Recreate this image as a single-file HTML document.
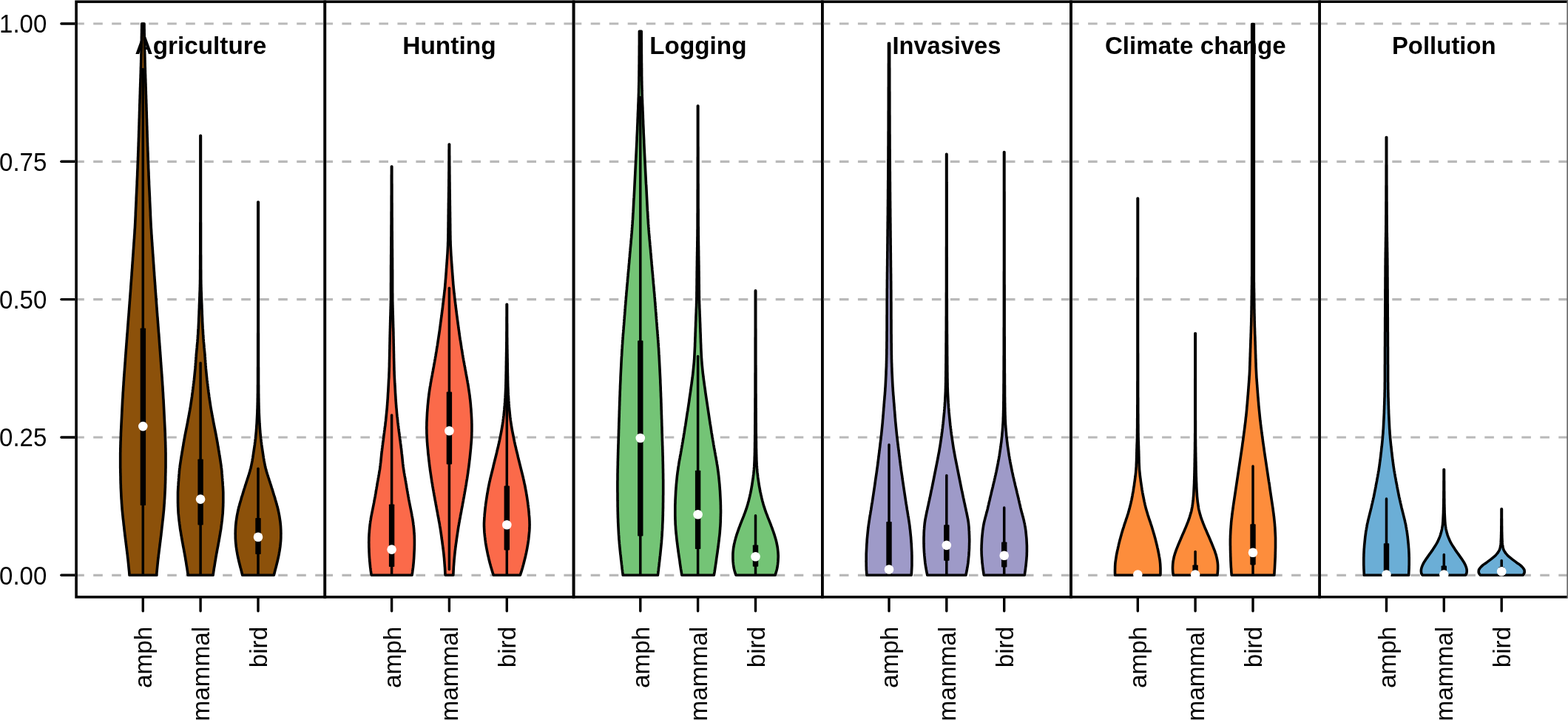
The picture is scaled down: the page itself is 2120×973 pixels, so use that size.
<!DOCTYPE html>
<html lang="en">
<head>
<meta charset="utf-8">
<title>Threat violin plots</title>
<style>
html,body{margin:0;padding:0;background:#fff;}
body{width:2120px;height:973px;overflow:hidden;}
svg{display:block;}
text{font-family:"Liberation Sans",Arial,Helvetica,sans-serif;font-size:33.3px;fill:#000;}
.t{font-weight:bold;text-anchor:middle;}
.yl{text-anchor:end;}
.xl{text-anchor:end;}
.g{stroke:#b9b9b9;stroke-width:3.2;stroke-dasharray:12.6 12.4;fill:none;}
.f{stroke:#000;stroke-width:3.6;fill:none;stroke-linejoin:miter;}
.k{stroke:#000;stroke-width:3.4;stroke-linecap:round;fill:none;}
.v{stroke:#000;stroke-width:3.6;stroke-linejoin:round;}
.w{stroke:#000;stroke-width:3.5;stroke-linecap:round;fill:none;}
.b{stroke:none;fill:#000;}
.m{fill:#fff;stroke:none;}
</style>
</head>
<body>
<svg width="2120" height="973" viewBox="0 0 2120 973">
<rect x="0" y="0" width="2120" height="973" fill="#fff"/>

<path class="k" d="M103.1,777.3H82.9"/>
<text class="yl" transform="translate(63.3,789.5) scale(0.992,1.07)" x="0" y="0">0.00</text>
<path class="k" d="M103.1,591.0H82.9"/>
<text class="yl" transform="translate(63.3,603.2) scale(0.992,1.07)" x="0" y="0">0.25</text>
<path class="k" d="M103.1,404.6H82.9"/>
<text class="yl" transform="translate(63.3,416.8) scale(0.992,1.07)" x="0" y="0">0.50</text>
<path class="k" d="M103.1,218.3H82.9"/>
<text class="yl" transform="translate(63.3,230.5) scale(0.992,1.07)" x="0" y="0">0.75</text>
<path class="k" d="M103.1,32.0H82.9"/>
<text class="yl" transform="translate(63.3,44.2) scale(0.992,1.07)" x="0" y="0">1.00</text>
<g>
<path class="g" d="M101.2,777.3H440.8"/>
<path class="g" d="M101.2,591.0H440.8"/>
<path class="g" d="M101.2,404.6H440.8"/>
<path class="g" d="M101.2,218.3H440.8"/>
<path class="g" d="M101.2,32.0H440.8"/>
<rect class="f" x="103.1" y="2.3" width="336.2" height="804.5"/>
<text class="t" transform="translate(271.4,73.3) scale(1.0,1)" x="0" y="0">Agriculture</text>
<path class="k" d="M193.3,806.8V825.8"/>
<text class="xl" transform="translate(205.3,846.8) rotate(-90)" x="0" y="0">amph</text>
<path class="k" d="M271.1,806.8V825.8"/>
<text class="xl" transform="translate(283.1,846.8) rotate(-90)" x="0" y="0">mammal</text>
<path class="k" d="M349.0,806.8V825.8"/>
<text class="xl" transform="translate(361.0,846.8) rotate(-90)" x="0" y="0">bird</text>
<path class="v" fill="#8c510a" d="M191.7,32.1L191.7,34.1L191.7,36.1L191.7,38.1L191.6,40.1L191.6,42.1L191.6,44.1L191.5,46.1L191.5,48.1L191.4,50.1L191.4,52.1L191.4,54.1L191.3,56.1L191.3,58.1L191.2,60.1L191.2,62.1L191.2,64.1L191.1,66.1L191.1,68.1L191.0,70.1L191.0,72.1L190.9,74.1L190.9,76.1L190.8,78.1L190.8,80.1L190.7,82.1L190.7,84.1L190.6,86.1L190.6,88.1L190.5,90.1L190.4,92.1L190.4,94.1L190.3,96.1L190.3,98.1L190.2,100.1L190.1,102.1L190.1,104.1L190.0,106.1L189.9,108.1L189.9,110.1L189.8,112.1L189.7,114.1L189.7,116.1L189.6,118.1L189.5,120.1L189.5,122.1L189.4,124.1L189.4,126.1L189.3,128.1L189.2,130.1L189.2,132.1L189.1,134.1L189.0,136.1L189.0,138.1L188.9,140.1L188.8,142.1L188.8,144.1L188.7,146.1L188.7,148.1L188.6,150.1L188.5,152.1L188.5,154.1L188.4,156.1L188.4,158.1L188.3,160.1L188.2,162.1L188.2,164.1L188.1,166.1L188.1,168.1L188.0,170.1L187.9,172.1L187.9,174.1L187.8,176.1L187.7,178.1L187.7,180.1L187.6,182.1L187.6,184.1L187.5,186.1L187.4,188.1L187.4,190.1L187.3,192.1L187.2,194.1L187.2,196.1L187.1,198.1L187.0,200.1L187.0,202.1L186.9,204.1L186.8,206.1L186.7,208.1L186.7,210.1L186.6,212.1L186.5,214.1L186.5,216.1L186.4,218.1L186.3,220.1L186.2,222.1L186.1,224.1L186.1,226.1L186.0,228.1L185.9,230.1L185.8,232.1L185.7,234.1L185.7,236.1L185.6,238.1L185.5,240.1L185.4,242.1L185.3,244.1L185.2,246.1L185.2,248.1L185.1,250.1L185.0,252.1L184.9,254.1L184.8,256.1L184.7,258.1L184.6,260.1L184.5,262.1L184.4,264.1L184.3,266.1L184.2,268.1L184.2,270.1L184.1,272.1L184.0,274.1L183.9,276.1L183.8,278.1L183.7,280.1L183.6,282.1L183.5,284.1L183.4,286.1L183.3,288.1L183.3,290.1L183.2,292.1L183.1,294.1L183.0,296.1L182.9,298.1L182.8,300.1L182.7,302.1L182.6,304.1L182.5,306.1L182.4,308.1L182.2,310.1L182.1,312.1L182.0,314.1L181.9,316.1L181.7,318.1L181.6,320.1L181.5,322.1L181.3,324.1L181.2,326.1L181.0,328.1L180.9,330.1L180.8,332.1L180.6,334.1L180.5,336.1L180.3,338.1L180.2,340.1L180.1,342.1L179.9,344.1L179.8,346.1L179.6,348.1L179.5,350.1L179.4,352.1L179.2,354.1L179.1,356.1L178.9,358.1L178.8,360.1L178.7,362.1L178.5,364.1L178.4,366.1L178.2,368.1L178.1,370.1L178.0,372.1L177.8,374.1L177.7,376.1L177.5,378.1L177.4,380.1L177.2,382.1L177.1,384.1L176.9,386.1L176.8,388.1L176.7,390.1L176.5,392.1L176.4,394.1L176.2,396.1L176.1,398.1L175.9,400.1L175.8,402.1L175.6,404.1L175.5,406.1L175.3,408.1L175.2,410.1L175.0,412.1L174.9,414.1L174.7,416.1L174.6,418.1L174.4,420.1L174.3,422.1L174.1,424.1L174.0,426.1L173.8,428.1L173.6,430.1L173.5,432.1L173.3,434.1L173.2,436.1L173.0,438.1L172.9,440.1L172.7,442.1L172.6,444.1L172.4,446.1L172.3,448.1L172.1,450.1L171.9,452.1L171.8,454.1L171.6,456.1L171.5,458.1L171.3,460.1L171.2,462.1L171.0,464.1L170.9,466.1L170.7,468.1L170.6,470.1L170.4,472.1L170.3,474.1L170.1,476.1L170.0,478.1L169.8,480.1L169.7,482.1L169.5,484.1L169.4,486.1L169.3,488.1L169.1,490.1L169.0,492.1L168.8,494.1L168.7,496.1L168.5,498.1L168.4,500.1L168.2,502.1L168.1,504.1L167.9,506.1L167.8,508.1L167.6,510.1L167.5,512.1L167.4,514.1L167.2,516.1L167.1,518.1L167.0,520.1L166.8,522.1L166.7,524.1L166.6,526.1L166.5,528.1L166.3,530.1L166.2,532.1L166.1,534.1L166.0,536.1L165.9,538.1L165.7,540.1L165.6,542.1L165.5,544.1L165.4,546.1L165.3,548.1L165.2,550.1L165.1,552.1L165.0,554.1L164.9,556.1L164.8,558.1L164.7,560.1L164.6,562.1L164.5,564.1L164.4,566.1L164.3,568.1L164.2,570.1L164.1,572.1L164.0,574.1L163.9,576.1L163.8,578.1L163.7,580.1L163.6,582.1L163.5,584.1L163.4,586.1L163.4,588.1L163.3,590.1L163.2,592.1L163.2,594.1L163.1,596.1L163.0,598.1L163.0,600.1L162.9,602.1L162.9,604.1L162.8,606.1L162.8,608.1L162.8,610.1L162.7,612.1L162.7,614.1L162.7,616.1L162.7,618.1L162.7,620.1L162.7,622.1L162.7,624.1L162.7,626.1L162.7,628.1L162.7,630.1L162.7,632.1L162.8,634.1L162.8,636.1L162.8,638.1L162.9,640.1L162.9,642.1L163.0,644.1L163.0,646.1L163.0,648.1L163.1,650.1L163.1,652.1L163.2,654.1L163.3,656.1L163.3,658.1L163.4,660.1L163.5,662.1L163.6,664.1L163.7,666.1L163.8,668.1L163.9,670.1L164.0,672.1L164.1,674.1L164.3,676.1L164.4,678.1L164.5,680.1L164.7,682.1L164.8,684.1L165.0,686.1L165.1,688.1L165.3,690.1L165.5,692.1L165.7,694.1L165.9,696.1L166.1,698.1L166.3,700.1L166.5,702.1L166.8,704.1L167.0,706.1L167.2,708.1L167.4,710.1L167.7,712.1L167.9,714.1L168.1,716.1L168.3,718.1L168.6,720.1L168.8,722.1L169.0,724.1L169.3,726.1L169.5,728.1L169.8,730.1L170.0,732.1L170.3,734.1L170.5,736.1L170.8,738.1L171.0,740.1L171.3,742.1L171.5,744.1L171.8,746.1L172.0,748.1L172.3,750.1L172.5,752.1L172.7,754.1L173.0,756.1L173.2,758.1L173.4,760.1L173.6,762.1L173.8,764.1L174.0,766.1L174.2,768.1L174.4,770.1L174.6,772.1L174.8,774.1L174.9,776.1L175.0,777.3L211.7,777.3L211.8,776.1L211.9,774.1L212.1,772.1L212.3,770.1L212.5,768.1L212.7,766.1L212.9,764.1L213.1,762.1L213.3,760.1L213.5,758.1L213.7,756.1L214.0,754.1L214.2,752.1L214.4,750.1L214.7,748.1L214.9,746.1L215.2,744.1L215.4,742.1L215.7,740.1L215.9,738.1L216.2,736.1L216.4,734.1L216.7,732.1L216.9,730.1L217.2,728.1L217.4,726.1L217.7,724.1L217.9,722.1L218.1,720.1L218.4,718.1L218.6,716.1L218.8,714.1L219.0,712.1L219.3,710.1L219.5,708.1L219.7,706.1L219.9,704.1L220.2,702.1L220.4,700.1L220.6,698.1L220.8,696.1L221.0,694.1L221.2,692.1L221.4,690.1L221.6,688.1L221.7,686.1L221.9,684.1L222.0,682.1L222.2,680.1L222.3,678.1L222.4,676.1L222.6,674.1L222.7,672.1L222.8,670.1L222.9,668.1L223.0,666.1L223.1,664.1L223.2,662.1L223.3,660.1L223.4,658.1L223.4,656.1L223.5,654.1L223.6,652.1L223.6,650.1L223.7,648.1L223.7,646.1L223.7,644.1L223.8,642.1L223.8,640.1L223.9,638.1L223.9,636.1L223.9,634.1L224.0,632.1L224.0,630.1L224.0,628.1L224.0,626.1L224.0,624.1L224.0,622.1L224.0,620.1L224.0,618.1L224.0,616.1L224.0,614.1L224.0,612.1L223.9,610.1L223.9,608.1L223.9,606.1L223.8,604.1L223.8,602.1L223.7,600.1L223.7,598.1L223.6,596.1L223.5,594.1L223.5,592.1L223.4,590.1L223.3,588.1L223.3,586.1L223.2,584.1L223.1,582.1L223.0,580.1L222.9,578.1L222.8,576.1L222.7,574.1L222.6,572.1L222.5,570.1L222.4,568.1L222.3,566.1L222.2,564.1L222.1,562.1L222.0,560.1L221.9,558.1L221.8,556.1L221.7,554.1L221.6,552.1L221.5,550.1L221.4,548.1L221.3,546.1L221.2,544.1L221.1,542.1L221.0,540.1L220.8,538.1L220.7,536.1L220.6,534.1L220.5,532.1L220.4,530.1L220.2,528.1L220.1,526.1L220.0,524.1L219.9,522.1L219.7,520.1L219.6,518.1L219.5,516.1L219.3,514.1L219.2,512.1L219.1,510.1L218.9,508.1L218.8,506.1L218.6,504.1L218.5,502.1L218.3,500.1L218.2,498.1L218.0,496.1L217.9,494.1L217.7,492.1L217.6,490.1L217.4,488.1L217.3,486.1L217.2,484.1L217.0,482.1L216.9,480.1L216.7,478.1L216.6,476.1L216.4,474.1L216.3,472.1L216.1,470.1L216.0,468.1L215.8,466.1L215.7,464.1L215.5,462.1L215.4,460.1L215.2,458.1L215.1,456.1L214.9,454.1L214.8,452.1L214.6,450.1L214.4,448.1L214.3,446.1L214.1,444.1L214.0,442.1L213.8,440.1L213.7,438.1L213.5,436.1L213.4,434.1L213.2,432.1L213.1,430.1L212.9,428.1L212.7,426.1L212.6,424.1L212.4,422.1L212.3,420.1L212.1,418.1L212.0,416.1L211.8,414.1L211.7,412.1L211.5,410.1L211.4,408.1L211.2,406.1L211.1,404.1L210.9,402.1L210.8,400.1L210.6,398.1L210.5,396.1L210.3,394.1L210.2,392.1L210.0,390.1L209.9,388.1L209.8,386.1L209.6,384.1L209.5,382.1L209.3,380.1L209.2,378.1L209.0,376.1L208.9,374.1L208.7,372.1L208.6,370.1L208.5,368.1L208.3,366.1L208.2,364.1L208.0,362.1L207.9,360.1L207.8,358.1L207.6,356.1L207.5,354.1L207.3,352.1L207.2,350.1L207.1,348.1L206.9,346.1L206.8,344.1L206.6,342.1L206.5,340.1L206.4,338.1L206.2,336.1L206.1,334.1L205.9,332.1L205.8,330.1L205.7,328.1L205.5,326.1L205.4,324.1L205.2,322.1L205.1,320.1L205.0,318.1L204.8,316.1L204.7,314.1L204.6,312.1L204.5,310.1L204.3,308.1L204.2,306.1L204.1,304.1L204.0,302.1L203.9,300.1L203.8,298.1L203.7,296.1L203.6,294.1L203.5,292.1L203.4,290.1L203.4,288.1L203.3,286.1L203.2,284.1L203.1,282.1L203.0,280.1L202.9,278.1L202.8,276.1L202.7,274.1L202.6,272.1L202.5,270.1L202.5,268.1L202.4,266.1L202.3,264.1L202.2,262.1L202.1,260.1L202.0,258.1L201.9,256.1L201.8,254.1L201.7,252.1L201.6,250.1L201.5,248.1L201.5,246.1L201.4,244.1L201.3,242.1L201.2,240.1L201.1,238.1L201.0,236.1L201.0,234.1L200.9,232.1L200.8,230.1L200.7,228.1L200.6,226.1L200.6,224.1L200.5,222.1L200.4,220.1L200.3,218.1L200.2,216.1L200.2,214.1L200.1,212.1L200.0,210.1L200.0,208.1L199.9,206.1L199.8,204.1L199.7,202.1L199.7,200.1L199.6,198.1L199.5,196.1L199.5,194.1L199.4,192.1L199.3,190.1L199.3,188.1L199.2,186.1L199.1,184.1L199.1,182.1L199.0,180.1L199.0,178.1L198.9,176.1L198.8,174.1L198.8,172.1L198.7,170.1L198.6,168.1L198.6,166.1L198.5,164.1L198.5,162.1L198.4,160.1L198.3,158.1L198.3,156.1L198.2,154.1L198.2,152.1L198.1,150.1L198.0,148.1L198.0,146.1L197.9,144.1L197.9,142.1L197.8,140.1L197.7,138.1L197.7,136.1L197.6,134.1L197.5,132.1L197.5,130.1L197.4,128.1L197.3,126.1L197.3,124.1L197.2,122.1L197.2,120.1L197.1,118.1L197.0,116.1L197.0,114.1L196.9,112.1L196.8,110.1L196.8,108.1L196.7,106.1L196.6,104.1L196.6,102.1L196.5,100.1L196.4,98.1L196.4,96.1L196.3,94.1L196.3,92.1L196.2,90.1L196.1,88.1L196.1,86.1L196.0,84.1L196.0,82.1L195.9,80.1L195.9,78.1L195.8,76.1L195.8,74.1L195.7,72.1L195.7,70.1L195.6,68.1L195.6,66.1L195.5,64.1L195.5,62.1L195.5,60.1L195.4,58.1L195.4,56.1L195.3,54.1L195.3,52.1L195.3,50.1L195.2,48.1L195.2,46.1L195.1,44.1L195.1,42.1L195.1,40.1L195.0,38.1L195.0,36.1L195.0,34.1L195.0,32.1Z"/>
<path class="w" d="M193.3,93.6V777.3"/>
<rect class="b" x="189.7" y="443.5" width="7.4" height="239.5" rx="0.8"/>
<circle class="m" cx="193.3" cy="576.1" r="6.3"/>
<path class="v" fill="#8c510a" d="M270.9,183.4L270.9,185.4L270.9,187.4L270.9,189.4L270.9,191.4L270.9,193.4L270.9,195.4L270.9,197.4L270.9,199.4L270.9,201.4L270.9,203.4L270.9,205.4L270.9,207.4L270.9,209.4L270.9,211.4L270.9,213.4L270.9,215.4L270.9,217.4L270.9,219.4L270.9,221.4L270.9,223.4L270.9,225.4L270.9,227.4L270.9,229.4L270.9,231.4L270.9,233.4L270.9,235.4L270.9,237.4L270.9,239.4L270.9,241.4L270.9,243.4L270.9,245.4L270.9,247.4L270.9,249.4L270.9,251.4L270.9,253.4L270.9,255.4L270.9,257.4L270.9,259.4L270.9,261.4L270.9,263.4L270.9,265.4L270.9,267.4L270.9,269.4L270.9,271.4L270.9,273.4L270.9,275.4L270.9,277.4L270.9,279.4L270.9,281.4L270.9,283.4L270.9,285.4L270.9,287.4L270.9,289.4L270.9,291.4L270.9,293.4L270.9,295.4L270.9,297.4L270.9,299.4L270.8,301.4L270.8,303.4L270.8,305.4L270.8,307.4L270.8,309.4L270.8,311.4L270.8,313.4L270.8,315.4L270.8,317.4L270.8,319.4L270.8,321.4L270.8,323.4L270.8,325.4L270.8,327.4L270.8,329.4L270.8,331.4L270.8,333.4L270.8,335.4L270.8,337.4L270.8,339.4L270.8,341.4L270.8,343.4L270.7,345.4L270.7,347.4L270.7,349.4L270.7,351.4L270.7,353.4L270.7,355.4L270.7,357.4L270.7,359.4L270.7,361.4L270.7,363.4L270.6,365.4L270.6,367.4L270.6,369.4L270.6,371.4L270.6,373.4L270.6,375.4L270.6,377.4L270.5,379.4L270.5,381.4L270.5,383.4L270.4,385.4L270.4,387.4L270.3,389.4L270.3,391.4L270.2,393.4L270.1,395.4L270.0,397.4L270.0,399.4L269.9,401.4L269.8,403.4L269.7,405.4L269.7,407.4L269.6,409.4L269.5,411.4L269.4,413.4L269.4,415.4L269.3,417.4L269.2,419.4L269.1,421.4L269.1,423.4L269.0,425.4L268.9,427.4L268.8,429.4L268.7,431.4L268.7,433.4L268.6,435.4L268.5,437.4L268.4,439.4L268.3,441.4L268.2,443.4L268.0,445.4L267.9,447.4L267.8,449.4L267.7,451.4L267.5,453.4L267.4,455.4L267.3,457.4L267.1,459.4L267.0,461.4L266.8,463.4L266.6,465.4L266.4,467.4L266.3,469.4L266.1,471.4L265.9,473.4L265.7,475.4L265.5,477.4L265.3,479.4L265.2,481.4L265.0,483.4L264.9,485.4L264.7,487.4L264.6,489.4L264.4,491.4L264.3,493.4L264.1,495.4L264.0,497.4L263.8,499.4L263.6,501.4L263.4,503.4L263.2,505.4L263.0,507.4L262.8,509.4L262.6,511.4L262.4,513.4L262.1,515.4L261.9,517.4L261.6,519.4L261.4,521.4L261.1,523.4L260.9,525.4L260.6,527.4L260.4,529.4L260.1,531.4L259.8,533.4L259.6,535.4L259.3,537.4L259.0,539.4L258.7,541.4L258.4,543.4L258.1,545.4L257.8,547.4L257.5,549.4L257.2,551.4L256.8,553.4L256.5,555.4L256.1,557.4L255.7,559.4L255.4,561.4L255.0,563.4L254.6,565.4L254.2,567.4L253.9,569.4L253.5,571.4L253.1,573.4L252.7,575.4L252.3,577.4L251.9,579.4L251.5,581.4L251.1,583.4L250.7,585.4L250.3,587.4L249.9,589.4L249.6,591.4L249.2,593.4L248.8,595.4L248.5,597.4L248.1,599.4L247.8,601.4L247.5,603.4L247.1,605.4L246.8,607.4L246.5,609.4L246.1,611.4L245.8,613.4L245.5,615.4L245.1,617.4L244.8,619.4L244.5,621.4L244.2,623.4L243.9,625.4L243.6,627.4L243.3,629.4L243.1,631.4L242.8,633.4L242.6,635.4L242.4,637.4L242.3,639.4L242.1,641.4L241.9,643.4L241.8,645.4L241.6,647.4L241.5,649.4L241.3,651.4L241.2,653.4L241.1,655.4L240.9,657.4L240.8,659.4L240.7,661.4L240.6,663.4L240.5,665.4L240.5,667.4L240.5,669.4L240.5,671.4L240.5,673.4L240.5,675.4L240.5,677.4L240.5,679.4L240.6,681.4L240.6,683.4L240.7,685.4L240.8,687.4L240.9,689.4L241.0,691.4L241.1,693.4L241.3,695.4L241.5,697.4L241.7,699.4L241.9,701.4L242.1,703.4L242.4,705.4L242.6,707.4L242.9,709.4L243.2,711.4L243.4,713.4L243.7,715.4L244.0,717.4L244.4,719.4L244.7,721.4L245.0,723.4L245.4,725.4L245.7,727.4L246.1,729.4L246.4,731.4L246.8,733.4L247.2,735.4L247.5,737.4L247.9,739.4L248.3,741.4L248.7,743.4L249.0,745.4L249.4,747.4L249.8,749.4L250.1,751.4L250.5,753.4L250.8,755.4L251.1,757.4L251.5,759.4L251.8,761.4L252.1,763.4L252.4,765.4L252.8,767.4L253.1,769.4L253.4,771.4L253.7,773.4L254.0,775.4L254.2,777.3L288.1,777.3L288.3,775.4L288.6,773.4L288.9,771.4L289.2,769.4L289.5,767.4L289.9,765.4L290.2,763.4L290.5,761.4L290.8,759.4L291.2,757.4L291.5,755.4L291.8,753.4L292.2,751.4L292.5,749.4L292.9,747.4L293.3,745.4L293.6,743.4L294.0,741.4L294.4,739.4L294.8,737.4L295.1,735.4L295.5,733.4L295.9,731.4L296.2,729.4L296.6,727.4L296.9,725.4L297.3,723.4L297.6,721.4L297.9,719.4L298.3,717.4L298.6,715.4L298.9,713.4L299.1,711.4L299.4,709.4L299.7,707.4L299.9,705.4L300.2,703.4L300.4,701.4L300.6,699.4L300.8,697.4L301.0,695.4L301.2,693.4L301.3,691.4L301.4,689.4L301.5,687.4L301.6,685.4L301.7,683.4L301.7,681.4L301.8,679.4L301.8,677.4L301.8,675.4L301.8,673.4L301.8,671.4L301.8,669.4L301.8,667.4L301.8,665.4L301.7,663.4L301.6,661.4L301.5,659.4L301.4,657.4L301.2,655.4L301.1,653.4L301.0,651.4L300.8,649.4L300.7,647.4L300.5,645.4L300.4,643.4L300.2,641.4L300.0,639.4L299.9,637.4L299.7,635.4L299.5,633.4L299.2,631.4L299.0,629.4L298.7,627.4L298.4,625.4L298.1,623.4L297.8,621.4L297.5,619.4L297.2,617.4L296.8,615.4L296.5,613.4L296.2,611.4L295.8,609.4L295.5,607.4L295.2,605.4L294.8,603.4L294.5,601.4L294.2,599.4L293.8,597.4L293.5,595.4L293.1,593.4L292.7,591.4L292.4,589.4L292.0,587.4L291.6,585.4L291.2,583.4L290.8,581.4L290.4,579.4L290.0,577.4L289.6,575.4L289.2,573.4L288.8,571.4L288.4,569.4L288.1,567.4L287.7,565.4L287.3,563.4L286.9,561.4L286.6,559.4L286.2,557.4L285.8,555.4L285.5,553.4L285.1,551.4L284.8,549.4L284.5,547.4L284.2,545.4L283.9,543.4L283.6,541.4L283.3,539.4L283.0,537.4L282.7,535.4L282.5,533.4L282.2,531.4L281.9,529.4L281.7,527.4L281.4,525.4L281.2,523.4L280.9,521.4L280.7,519.4L280.4,517.4L280.2,515.4L279.9,513.4L279.7,511.4L279.5,509.4L279.3,507.4L279.1,505.4L278.9,503.4L278.7,501.4L278.5,499.4L278.3,497.4L278.2,495.4L278.0,493.4L277.9,491.4L277.7,489.4L277.6,487.4L277.4,485.4L277.3,483.4L277.1,481.4L277.0,479.4L276.8,477.4L276.6,475.4L276.4,473.4L276.2,471.4L276.0,469.4L275.9,467.4L275.7,465.4L275.5,463.4L275.3,461.4L275.2,459.4L275.0,457.4L274.9,455.4L274.8,453.4L274.6,451.4L274.5,449.4L274.4,447.4L274.3,445.4L274.1,443.4L274.0,441.4L273.9,439.4L273.8,437.4L273.7,435.4L273.6,433.4L273.6,431.4L273.5,429.4L273.4,427.4L273.3,425.4L273.2,423.4L273.2,421.4L273.1,419.4L273.0,417.4L272.9,415.4L272.9,413.4L272.8,411.4L272.7,409.4L272.6,407.4L272.6,405.4L272.5,403.4L272.4,401.4L272.3,399.4L272.3,397.4L272.2,395.4L272.1,393.4L272.0,391.4L272.0,389.4L271.9,387.4L271.9,385.4L271.8,383.4L271.8,381.4L271.8,379.4L271.7,377.4L271.7,375.4L271.7,373.4L271.7,371.4L271.7,369.4L271.7,367.4L271.7,365.4L271.6,363.4L271.6,361.4L271.6,359.4L271.6,357.4L271.6,355.4L271.6,353.4L271.6,351.4L271.6,349.4L271.6,347.4L271.6,345.4L271.5,343.4L271.5,341.4L271.5,339.4L271.5,337.4L271.5,335.4L271.5,333.4L271.5,331.4L271.5,329.4L271.5,327.4L271.5,325.4L271.5,323.4L271.5,321.4L271.5,319.4L271.5,317.4L271.5,315.4L271.5,313.4L271.5,311.4L271.5,309.4L271.5,307.4L271.5,305.4L271.5,303.4L271.5,301.4L271.4,299.4L271.4,297.4L271.4,295.4L271.4,293.4L271.4,291.4L271.4,289.4L271.4,287.4L271.4,285.4L271.4,283.4L271.4,281.4L271.4,279.4L271.4,277.4L271.4,275.4L271.4,273.4L271.4,271.4L271.4,269.4L271.4,267.4L271.4,265.4L271.4,263.4L271.4,261.4L271.4,259.4L271.4,257.4L271.4,255.4L271.4,253.4L271.4,251.4L271.4,249.4L271.4,247.4L271.4,245.4L271.4,243.4L271.4,241.4L271.4,239.4L271.4,237.4L271.4,235.4L271.4,233.4L271.4,231.4L271.4,229.4L271.4,227.4L271.4,225.4L271.4,223.4L271.4,221.4L271.4,219.4L271.4,217.4L271.4,215.4L271.4,213.4L271.4,211.4L271.4,209.4L271.4,207.4L271.4,205.4L271.4,203.4L271.4,201.4L271.4,199.4L271.4,197.4L271.4,195.4L271.4,193.4L271.4,191.4L271.4,189.4L271.4,187.4L271.4,185.4L271.4,183.4Z"/>
<path class="w" d="M271.1,490.6V777.3"/>
<rect class="b" x="267.4" y="620.5" width="7.4" height="89.0" rx="0.8"/>
<circle class="m" cx="271.1" cy="674.6" r="6.3"/>
<path class="v" fill="#8c510a" d="M348.8,273.0L348.8,275.0L348.8,277.0L348.8,279.0L348.8,281.0L348.8,283.0L348.8,285.0L348.8,287.0L348.8,289.0L348.8,291.0L348.8,293.0L348.8,295.0L348.8,297.0L348.8,299.0L348.8,301.0L348.8,303.0L348.8,305.0L348.8,307.0L348.8,309.0L348.8,311.0L348.8,313.0L348.8,315.0L348.8,317.0L348.8,319.0L348.8,321.0L348.8,323.0L348.8,325.0L348.8,327.0L348.8,329.0L348.8,331.0L348.8,333.0L348.8,335.0L348.8,337.0L348.8,339.0L348.8,341.0L348.8,343.0L348.8,345.0L348.8,347.0L348.8,349.0L348.8,351.0L348.8,353.0L348.8,355.0L348.8,357.0L348.8,359.0L348.8,361.0L348.8,363.0L348.8,365.0L348.8,367.0L348.8,369.0L348.8,371.0L348.8,373.0L348.8,375.0L348.8,377.0L348.8,379.0L348.8,381.0L348.8,383.0L348.8,385.0L348.8,387.0L348.8,389.0L348.8,391.0L348.8,393.0L348.8,395.0L348.8,397.0L348.8,399.0L348.8,401.0L348.8,403.0L348.8,405.0L348.8,407.0L348.8,409.0L348.8,411.0L348.8,413.0L348.8,415.0L348.8,417.0L348.8,419.0L348.8,421.0L348.8,423.0L348.8,425.0L348.8,427.0L348.8,429.0L348.8,431.0L348.8,433.0L348.8,435.0L348.8,437.0L348.8,439.0L348.8,441.0L348.8,443.0L348.8,445.0L348.8,447.0L348.8,449.0L348.7,451.0L348.7,453.0L348.7,455.0L348.7,457.0L348.7,459.0L348.7,461.0L348.7,463.0L348.7,465.0L348.7,467.0L348.7,469.0L348.7,471.0L348.7,473.0L348.7,475.0L348.7,477.0L348.7,479.0L348.7,481.0L348.7,483.0L348.7,485.0L348.7,487.0L348.7,489.0L348.7,491.0L348.7,493.0L348.7,495.0L348.6,497.0L348.6,499.0L348.6,501.0L348.6,503.0L348.6,505.0L348.6,507.0L348.6,509.0L348.6,511.0L348.6,513.0L348.6,515.0L348.6,517.0L348.6,519.0L348.5,521.0L348.5,523.0L348.5,525.0L348.5,527.0L348.5,529.0L348.5,531.0L348.4,533.0L348.4,535.0L348.4,537.0L348.3,539.0L348.3,541.0L348.3,543.0L348.2,545.0L348.2,547.0L348.1,549.0L348.1,551.0L348.0,553.0L347.9,555.0L347.9,557.0L347.8,559.0L347.7,561.0L347.6,563.0L347.5,565.0L347.4,567.0L347.3,569.0L347.2,571.0L347.1,573.0L346.9,575.0L346.8,577.0L346.7,579.0L346.5,581.0L346.4,583.0L346.2,585.0L346.0,587.0L345.8,589.0L345.6,591.0L345.4,593.0L345.1,595.0L344.9,597.0L344.6,599.0L344.4,601.0L344.1,603.0L343.8,605.0L343.5,607.0L343.2,609.0L342.9,611.0L342.6,613.0L342.3,615.0L342.0,617.0L341.7,619.0L341.3,621.0L341.0,623.0L340.6,625.0L340.2,627.0L339.8,629.0L339.4,631.0L338.9,633.0L338.3,635.0L337.8,637.0L337.2,639.0L336.6,641.0L335.9,643.0L335.3,645.0L334.6,647.0L334.0,649.0L333.3,651.0L332.7,653.0L332.0,655.0L331.4,657.0L330.8,659.0L330.1,661.0L329.5,663.0L328.9,665.0L328.3,667.0L327.7,669.0L327.0,671.0L326.4,673.0L325.9,675.0L325.3,677.0L324.7,679.0L324.1,681.0L323.6,683.0L323.0,685.0L322.5,687.0L322.1,689.0L321.6,691.0L321.2,693.0L320.8,695.0L320.4,697.0L320.1,699.0L319.8,701.0L319.5,703.0L319.2,705.0L319.0,707.0L318.8,709.0L318.6,711.0L318.5,713.0L318.4,715.0L318.3,717.0L318.3,719.0L318.2,721.0L318.3,723.0L318.3,725.0L318.3,727.0L318.4,729.0L318.5,731.0L318.7,733.0L318.9,735.0L319.1,737.0L319.3,739.0L319.6,741.0L319.9,743.0L320.2,745.0L320.6,747.0L320.9,749.0L321.3,751.0L321.7,753.0L322.2,755.0L322.6,757.0L323.1,759.0L323.6,761.0L324.1,763.0L324.6,765.0L325.1,767.0L325.7,769.0L326.2,771.0L326.7,773.0L327.2,775.0L327.7,777.0L327.8,777.3L370.3,777.3L370.4,777.0L370.9,775.0L371.4,773.0L371.9,771.0L372.4,769.0L373.0,767.0L373.5,765.0L374.0,763.0L374.5,761.0L375.0,759.0L375.5,757.0L375.9,755.0L376.4,753.0L376.8,751.0L377.2,749.0L377.5,747.0L377.9,745.0L378.2,743.0L378.5,741.0L378.8,739.0L379.0,737.0L379.2,735.0L379.4,733.0L379.6,731.0L379.7,729.0L379.8,727.0L379.8,725.0L379.8,723.0L379.9,721.0L379.8,719.0L379.8,717.0L379.7,715.0L379.6,713.0L379.5,711.0L379.3,709.0L379.1,707.0L378.9,705.0L378.6,703.0L378.3,701.0L378.0,699.0L377.7,697.0L377.3,695.0L376.9,693.0L376.5,691.0L376.0,689.0L375.6,687.0L375.1,685.0L374.5,683.0L374.0,681.0L373.4,679.0L372.8,677.0L372.2,675.0L371.7,673.0L371.1,671.0L370.4,669.0L369.8,667.0L369.2,665.0L368.6,663.0L368.0,661.0L367.3,659.0L366.7,657.0L366.1,655.0L365.4,653.0L364.8,651.0L364.1,649.0L363.5,647.0L362.8,645.0L362.2,643.0L361.5,641.0L360.9,639.0L360.3,637.0L359.8,635.0L359.2,633.0L358.7,631.0L358.3,629.0L357.9,627.0L357.5,625.0L357.1,623.0L356.8,621.0L356.4,619.0L356.1,617.0L355.8,615.0L355.5,613.0L355.2,611.0L354.9,609.0L354.6,607.0L354.3,605.0L354.0,603.0L353.7,601.0L353.5,599.0L353.2,597.0L353.0,595.0L352.7,593.0L352.5,591.0L352.3,589.0L352.1,587.0L351.9,585.0L351.7,583.0L351.6,581.0L351.4,579.0L351.3,577.0L351.2,575.0L351.0,573.0L350.9,571.0L350.8,569.0L350.7,567.0L350.6,565.0L350.5,563.0L350.4,561.0L350.3,559.0L350.2,557.0L350.2,555.0L350.1,553.0L350.0,551.0L350.0,549.0L349.9,547.0L349.9,545.0L349.8,543.0L349.8,541.0L349.8,539.0L349.7,537.0L349.7,535.0L349.7,533.0L349.6,531.0L349.6,529.0L349.6,527.0L349.6,525.0L349.6,523.0L349.6,521.0L349.5,519.0L349.5,517.0L349.5,515.0L349.5,513.0L349.5,511.0L349.5,509.0L349.5,507.0L349.5,505.0L349.5,503.0L349.5,501.0L349.5,499.0L349.5,497.0L349.4,495.0L349.4,493.0L349.4,491.0L349.4,489.0L349.4,487.0L349.4,485.0L349.4,483.0L349.4,481.0L349.4,479.0L349.4,477.0L349.4,475.0L349.4,473.0L349.4,471.0L349.4,469.0L349.4,467.0L349.4,465.0L349.4,463.0L349.4,461.0L349.4,459.0L349.4,457.0L349.4,455.0L349.4,453.0L349.4,451.0L349.3,449.0L349.3,447.0L349.3,445.0L349.3,443.0L349.3,441.0L349.3,439.0L349.3,437.0L349.3,435.0L349.3,433.0L349.3,431.0L349.3,429.0L349.3,427.0L349.3,425.0L349.3,423.0L349.3,421.0L349.3,419.0L349.3,417.0L349.3,415.0L349.3,413.0L349.3,411.0L349.3,409.0L349.3,407.0L349.3,405.0L349.3,403.0L349.3,401.0L349.3,399.0L349.3,397.0L349.3,395.0L349.3,393.0L349.3,391.0L349.3,389.0L349.3,387.0L349.3,385.0L349.3,383.0L349.3,381.0L349.3,379.0L349.3,377.0L349.3,375.0L349.3,373.0L349.3,371.0L349.3,369.0L349.3,367.0L349.3,365.0L349.3,363.0L349.3,361.0L349.3,359.0L349.3,357.0L349.3,355.0L349.3,353.0L349.3,351.0L349.3,349.0L349.3,347.0L349.3,345.0L349.3,343.0L349.3,341.0L349.3,339.0L349.3,337.0L349.3,335.0L349.3,333.0L349.3,331.0L349.3,329.0L349.3,327.0L349.3,325.0L349.3,323.0L349.3,321.0L349.3,319.0L349.3,317.0L349.3,315.0L349.3,313.0L349.3,311.0L349.3,309.0L349.3,307.0L349.3,305.0L349.3,303.0L349.3,301.0L349.3,299.0L349.3,297.0L349.3,295.0L349.3,293.0L349.3,291.0L349.3,289.0L349.3,287.0L349.3,285.0L349.3,283.0L349.3,281.0L349.3,279.0L349.3,277.0L349.3,275.0L349.3,273.0Z"/>
<path class="w" d="M349.0,633.3V777.3"/>
<rect class="b" x="345.3" y="700.0" width="7.4" height="49.0" rx="0.8"/>
<circle class="m" cx="349.0" cy="725.7" r="6.3"/>
</g>
<g>
<path class="g" d="M437.4,777.3H777.1"/>
<path class="g" d="M437.4,591.0H777.1"/>
<path class="g" d="M437.4,404.6H777.1"/>
<path class="g" d="M437.4,218.3H777.1"/>
<path class="g" d="M437.4,32.0H777.1"/>
<rect class="f" x="439.3" y="2.3" width="336.2" height="804.5"/>
<text class="t" transform="translate(607.4,73.3) scale(1.005,1)" x="0" y="0">Hunting</text>
<path class="k" d="M529.6,806.8V825.8"/>
<text class="xl" transform="translate(541.6,846.8) rotate(-90)" x="0" y="0">amph</text>
<path class="k" d="M607.4,806.8V825.8"/>
<text class="xl" transform="translate(619.4,846.8) rotate(-90)" x="0" y="0">mammal</text>
<path class="k" d="M685.3,806.8V825.8"/>
<text class="xl" transform="translate(697.3,846.8) rotate(-90)" x="0" y="0">bird</text>
<path class="v" fill="#fb6a4a" d="M529.4,225.0L529.4,227.0L529.4,229.0L529.4,231.0L529.4,233.0L529.4,235.0L529.3,237.0L529.3,239.0L529.3,241.0L529.3,243.0L529.3,245.0L529.3,247.0L529.3,249.0L529.3,251.0L529.3,253.0L529.3,255.0L529.3,257.0L529.3,259.0L529.3,261.0L529.3,263.0L529.2,265.0L529.2,267.0L529.2,269.0L529.2,271.0L529.2,273.0L529.2,275.0L529.2,277.0L529.2,279.0L529.2,281.0L529.2,283.0L529.2,285.0L529.1,287.0L529.1,289.0L529.1,291.0L529.1,293.0L529.1,295.0L529.1,297.0L529.1,299.0L529.1,301.0L529.1,303.0L529.0,305.0L529.0,307.0L529.0,309.0L529.0,311.0L529.0,313.0L529.0,315.0L529.0,317.0L529.0,319.0L528.9,321.0L528.9,323.0L528.9,325.0L528.9,327.0L528.9,329.0L528.9,331.0L528.8,333.0L528.8,335.0L528.8,337.0L528.8,339.0L528.8,341.0L528.8,343.0L528.7,345.0L528.7,347.0L528.7,349.0L528.7,351.0L528.7,353.0L528.7,355.0L528.7,357.0L528.6,359.0L528.6,361.0L528.6,363.0L528.6,365.0L528.6,367.0L528.6,369.0L528.6,371.0L528.6,373.0L528.6,375.0L528.6,377.0L528.6,379.0L528.6,381.0L528.5,383.0L528.5,385.0L528.5,387.0L528.5,389.0L528.5,391.0L528.5,393.0L528.5,395.0L528.5,397.0L528.5,399.0L528.5,401.0L528.5,403.0L528.5,405.0L528.4,407.0L528.4,409.0L528.3,411.0L528.3,413.0L528.2,415.0L528.2,417.0L528.1,419.0L528.1,421.0L528.0,423.0L528.0,425.0L527.9,427.0L527.8,429.0L527.8,431.0L527.7,433.0L527.7,435.0L527.6,437.0L527.6,439.0L527.5,441.0L527.5,443.0L527.4,445.0L527.4,447.0L527.3,449.0L527.3,451.0L527.2,453.0L527.2,455.0L527.1,457.0L527.1,459.0L527.1,461.0L527.0,463.0L527.0,465.0L526.9,467.0L526.9,469.0L526.9,471.0L526.8,473.0L526.8,475.0L526.7,477.0L526.7,479.0L526.7,481.0L526.6,483.0L526.6,485.0L526.5,487.0L526.5,489.0L526.4,491.0L526.4,493.0L526.4,495.0L526.3,497.0L526.2,499.0L526.2,501.0L526.1,503.0L526.0,505.0L525.9,507.0L525.9,509.0L525.8,511.0L525.6,513.0L525.5,515.0L525.4,517.0L525.3,519.0L525.2,521.0L525.1,523.0L525.0,525.0L524.9,527.0L524.8,529.0L524.6,531.0L524.5,533.0L524.4,535.0L524.3,537.0L524.2,539.0L524.0,541.0L523.9,543.0L523.7,545.0L523.6,547.0L523.4,549.0L523.3,551.0L523.1,553.0L522.9,555.0L522.7,557.0L522.5,559.0L522.3,561.0L522.1,563.0L521.9,565.0L521.7,567.0L521.5,569.0L521.2,571.0L521.0,573.0L520.8,575.0L520.5,577.0L520.2,579.0L520.0,581.0L519.7,583.0L519.5,585.0L519.2,587.0L518.9,589.0L518.7,591.0L518.4,593.0L518.2,595.0L517.9,597.0L517.6,599.0L517.4,601.0L517.1,603.0L516.9,605.0L516.6,607.0L516.4,609.0L516.1,611.0L515.9,613.0L515.7,615.0L515.5,617.0L515.3,619.0L515.1,621.0L514.9,623.0L514.7,625.0L514.4,627.0L514.2,629.0L513.9,631.0L513.7,633.0L513.4,635.0L513.0,637.0L512.7,639.0L512.4,641.0L512.0,643.0L511.7,645.0L511.3,647.0L511.0,649.0L510.6,651.0L510.2,653.0L509.9,655.0L509.6,657.0L509.2,659.0L508.9,661.0L508.5,663.0L508.2,665.0L507.9,667.0L507.5,669.0L507.2,671.0L506.8,673.0L506.4,675.0L506.0,677.0L505.7,679.0L505.3,681.0L504.9,683.0L504.5,685.0L504.1,687.0L503.7,689.0L503.3,691.0L502.9,693.0L502.5,695.0L502.1,697.0L501.7,699.0L501.4,701.0L501.1,703.0L500.7,705.0L500.5,707.0L500.2,709.0L500.0,711.0L499.8,713.0L499.6,715.0L499.4,717.0L499.3,719.0L499.1,721.0L499.0,723.0L498.9,725.0L498.8,727.0L498.8,729.0L498.8,731.0L498.7,733.0L498.8,735.0L498.8,737.0L498.8,739.0L498.9,741.0L499.0,743.0L499.0,745.0L499.1,747.0L499.2,749.0L499.3,751.0L499.4,753.0L499.6,755.0L499.7,757.0L499.9,759.0L500.1,761.0L500.3,763.0L500.5,765.0L500.7,767.0L501.0,769.0L501.2,771.0L501.5,773.0L501.8,775.0L502.1,777.0L502.1,777.3L557.1,777.3L557.1,777.0L557.4,775.0L557.7,773.0L557.9,771.0L558.2,769.0L558.5,767.0L558.7,765.0L558.9,763.0L559.1,761.0L559.3,759.0L559.4,757.0L559.6,755.0L559.7,753.0L559.8,751.0L559.9,749.0L560.0,747.0L560.1,745.0L560.2,743.0L560.3,741.0L560.3,739.0L560.4,737.0L560.4,735.0L560.4,733.0L560.4,731.0L560.4,729.0L560.3,727.0L560.3,725.0L560.2,723.0L560.0,721.0L559.9,719.0L559.7,717.0L559.6,715.0L559.4,713.0L559.2,711.0L558.9,709.0L558.7,707.0L558.4,705.0L558.1,703.0L557.8,701.0L557.4,699.0L557.0,697.0L556.7,695.0L556.3,693.0L555.9,691.0L555.5,689.0L555.1,687.0L554.7,685.0L554.3,683.0L553.9,681.0L553.5,679.0L553.1,677.0L552.7,675.0L552.4,673.0L552.0,671.0L551.7,669.0L551.3,667.0L551.0,665.0L550.6,663.0L550.3,661.0L549.9,659.0L549.6,657.0L549.3,655.0L548.9,653.0L548.6,651.0L548.2,649.0L547.9,647.0L547.5,645.0L547.1,643.0L546.8,641.0L546.4,639.0L546.1,637.0L545.8,635.0L545.5,633.0L545.2,631.0L545.0,629.0L544.7,627.0L544.5,625.0L544.3,623.0L544.1,621.0L543.9,619.0L543.7,617.0L543.5,615.0L543.2,613.0L543.0,611.0L542.8,609.0L542.6,607.0L542.3,605.0L542.1,603.0L541.8,601.0L541.5,599.0L541.3,597.0L541.0,595.0L540.7,593.0L540.5,591.0L540.2,589.0L540.0,587.0L539.7,585.0L539.4,583.0L539.2,581.0L538.9,579.0L538.7,577.0L538.4,575.0L538.2,573.0L537.9,571.0L537.7,569.0L537.5,567.0L537.3,565.0L537.0,563.0L536.8,561.0L536.6,559.0L536.4,557.0L536.3,555.0L536.1,553.0L535.9,551.0L535.7,549.0L535.6,547.0L535.4,545.0L535.3,543.0L535.1,541.0L535.0,539.0L534.9,537.0L534.8,535.0L534.6,533.0L534.5,531.0L534.4,529.0L534.3,527.0L534.2,525.0L534.1,523.0L534.0,521.0L533.8,519.0L533.7,517.0L533.6,515.0L533.5,513.0L533.4,511.0L533.3,509.0L533.2,507.0L533.1,505.0L533.1,503.0L533.0,501.0L532.9,499.0L532.9,497.0L532.8,495.0L532.8,493.0L532.7,491.0L532.7,489.0L532.6,487.0L532.6,485.0L532.5,483.0L532.5,481.0L532.5,479.0L532.4,477.0L532.4,475.0L532.3,473.0L532.3,471.0L532.3,469.0L532.2,467.0L532.2,465.0L532.1,463.0L532.1,461.0L532.1,459.0L532.0,457.0L532.0,455.0L531.9,453.0L531.9,451.0L531.9,449.0L531.8,447.0L531.8,445.0L531.7,443.0L531.6,441.0L531.6,439.0L531.5,437.0L531.5,435.0L531.4,433.0L531.4,431.0L531.3,429.0L531.3,427.0L531.2,425.0L531.1,423.0L531.1,421.0L531.0,419.0L531.0,417.0L530.9,415.0L530.9,413.0L530.8,411.0L530.8,409.0L530.7,407.0L530.7,405.0L530.7,403.0L530.7,401.0L530.7,399.0L530.7,397.0L530.6,395.0L530.6,393.0L530.6,391.0L530.6,389.0L530.6,387.0L530.6,385.0L530.6,383.0L530.6,381.0L530.6,379.0L530.6,377.0L530.6,375.0L530.6,373.0L530.6,371.0L530.6,369.0L530.6,367.0L530.6,365.0L530.5,363.0L530.5,361.0L530.5,359.0L530.5,357.0L530.5,355.0L530.5,353.0L530.5,351.0L530.5,349.0L530.4,347.0L530.4,345.0L530.4,343.0L530.4,341.0L530.4,339.0L530.4,337.0L530.3,335.0L530.3,333.0L530.3,331.0L530.3,329.0L530.3,327.0L530.3,325.0L530.2,323.0L530.2,321.0L530.2,319.0L530.2,317.0L530.2,315.0L530.2,313.0L530.1,311.0L530.1,309.0L530.1,307.0L530.1,305.0L530.1,303.0L530.1,301.0L530.1,299.0L530.1,297.0L530.1,295.0L530.0,293.0L530.0,291.0L530.0,289.0L530.0,287.0L530.0,285.0L530.0,283.0L530.0,281.0L530.0,279.0L530.0,277.0L530.0,275.0L529.9,273.0L529.9,271.0L529.9,269.0L529.9,267.0L529.9,265.0L529.9,263.0L529.9,261.0L529.9,259.0L529.9,257.0L529.9,255.0L529.9,253.0L529.9,251.0L529.9,249.0L529.8,247.0L529.8,245.0L529.8,243.0L529.8,241.0L529.8,239.0L529.8,237.0L529.8,235.0L529.8,233.0L529.8,231.0L529.8,229.0L529.8,227.0L529.8,225.0Z"/>
<path class="w" d="M529.6,561.0V777.3"/>
<rect class="b" x="525.9" y="681.5" width="7.4" height="84.5" rx="0.8"/>
<circle class="m" cx="529.6" cy="742.6" r="6.3"/>
<path class="v" fill="#fb6a4a" d="M607.2,195.1L607.2,197.1L607.2,199.1L607.2,201.1L607.1,203.1L607.1,205.1L607.1,207.1L607.1,209.1L607.1,211.1L607.1,213.1L607.1,215.1L607.1,217.1L607.0,219.1L607.0,221.1L607.0,223.1L607.0,225.1L607.0,227.1L607.0,229.1L607.0,231.1L606.9,233.1L606.9,235.1L606.9,237.1L606.9,239.1L606.9,241.1L606.8,243.1L606.8,245.1L606.8,247.1L606.8,249.1L606.8,251.1L606.7,253.1L606.7,255.1L606.7,257.1L606.7,259.1L606.6,261.1L606.6,263.1L606.6,265.1L606.6,267.1L606.5,269.1L606.5,271.1L606.5,273.1L606.4,275.1L606.4,277.1L606.4,279.1L606.4,281.1L606.3,283.1L606.3,285.1L606.3,287.1L606.3,289.1L606.2,291.1L606.2,293.1L606.2,295.1L606.2,297.1L606.2,299.1L606.1,301.1L606.1,303.1L606.1,305.1L606.1,307.1L606.0,309.1L606.0,311.1L606.0,313.1L606.0,315.1L605.9,317.1L605.9,319.1L605.9,321.1L605.8,323.1L605.8,325.1L605.7,327.1L605.6,329.1L605.6,331.1L605.5,333.1L605.4,335.1L605.3,337.1L605.2,339.1L605.1,341.1L605.0,343.1L604.8,345.1L604.7,347.1L604.6,349.1L604.4,351.1L604.3,353.1L604.1,355.1L604.0,357.1L603.8,359.1L603.7,361.1L603.5,363.1L603.4,365.1L603.3,367.1L603.1,369.1L603.0,371.1L602.8,373.1L602.7,375.1L602.5,377.1L602.3,379.1L602.2,381.1L602.0,383.1L601.8,385.1L601.7,387.1L601.5,389.1L601.3,391.1L601.1,393.1L600.8,395.1L600.6,397.1L600.4,399.1L600.2,401.1L599.9,403.1L599.7,405.1L599.5,407.1L599.2,409.1L599.0,411.1L598.7,413.1L598.5,415.1L598.3,417.1L598.0,419.1L597.7,421.1L597.5,423.1L597.2,425.1L597.0,427.1L596.7,429.1L596.4,431.1L596.2,433.1L595.9,435.1L595.6,437.1L595.4,439.1L595.1,441.1L594.8,443.1L594.6,445.1L594.3,447.1L594.0,449.1L593.7,451.1L593.4,453.1L593.1,455.1L592.8,457.1L592.5,459.1L592.2,461.1L591.9,463.1L591.6,465.1L591.3,467.1L590.9,469.1L590.6,471.1L590.3,473.1L590.0,475.1L589.6,477.1L589.3,479.1L589.0,481.1L588.6,483.1L588.3,485.1L587.9,487.1L587.6,489.1L587.2,491.1L586.8,493.1L586.5,495.1L586.1,497.1L585.7,499.1L585.4,501.1L585.0,503.1L584.6,505.1L584.3,507.1L583.9,509.1L583.5,511.1L583.1,513.1L582.8,515.1L582.4,517.1L582.1,519.1L581.8,521.1L581.4,523.1L581.1,525.1L580.8,527.1L580.5,529.1L580.2,531.1L580.0,533.1L579.7,535.1L579.5,537.1L579.2,539.1L579.0,541.1L578.8,543.1L578.6,545.1L578.4,547.1L578.2,549.1L578.1,551.1L577.9,553.1L577.8,555.1L577.6,557.1L577.5,559.1L577.4,561.1L577.3,563.1L577.2,565.1L577.1,567.1L577.0,569.1L576.9,571.1L576.9,573.1L576.9,575.1L576.8,577.1L576.8,579.1L576.9,581.1L576.9,583.1L576.9,585.1L577.0,587.1L577.1,589.1L577.2,591.1L577.3,593.1L577.4,595.1L577.5,597.1L577.7,599.1L577.8,601.1L578.0,603.1L578.2,605.1L578.4,607.1L578.6,609.1L578.7,611.1L578.9,613.1L579.1,615.1L579.4,617.1L579.6,619.1L579.8,621.1L580.0,623.1L580.3,625.1L580.5,627.1L580.7,629.1L581.0,631.1L581.3,633.1L581.5,635.1L581.8,637.1L582.1,639.1L582.4,641.1L582.7,643.1L583.0,645.1L583.3,647.1L583.6,649.1L583.9,651.1L584.3,653.1L584.6,655.1L584.9,657.1L585.3,659.1L585.6,661.1L586.0,663.1L586.3,665.1L586.7,667.1L587.0,669.1L587.4,671.1L587.8,673.1L588.1,675.1L588.5,677.1L588.9,679.1L589.2,681.1L589.6,683.1L590.0,685.1L590.3,687.1L590.7,689.1L591.1,691.1L591.5,693.1L591.8,695.1L592.2,697.1L592.6,699.1L593.0,701.1L593.3,703.1L593.7,705.1L594.1,707.1L594.4,709.1L594.7,711.1L595.1,713.1L595.4,715.1L595.7,717.1L596.0,719.1L596.3,721.1L596.6,723.1L596.9,725.1L597.1,727.1L597.4,729.1L597.7,731.1L598.0,733.1L598.2,735.1L598.5,737.1L598.8,739.1L599.0,741.1L599.3,743.1L599.5,745.1L599.8,747.1L600.0,749.1L600.2,751.1L600.4,753.1L600.6,755.1L600.7,757.1L600.9,759.1L601.0,761.1L601.2,763.1L601.3,765.1L601.5,767.1L601.6,769.1L601.7,771.1L601.8,773.1L601.9,775.1L602.0,777.1L602.0,777.3L612.8,777.3L612.8,777.1L612.9,775.1L613.0,773.1L613.1,771.1L613.2,769.1L613.3,767.1L613.4,765.1L613.6,763.1L613.7,761.1L613.9,759.1L614.0,757.1L614.2,755.1L614.4,753.1L614.6,751.1L614.8,749.1L615.0,747.1L615.2,745.1L615.5,743.1L615.7,741.1L616.0,739.1L616.2,737.1L616.5,735.1L616.8,733.1L617.1,731.1L617.3,729.1L617.6,727.1L617.9,725.1L618.2,723.1L618.5,721.1L618.8,719.1L619.1,717.1L619.4,715.1L619.7,713.1L620.0,711.1L620.4,709.1L620.7,707.1L621.1,705.1L621.4,703.1L621.8,701.1L622.2,699.1L622.5,697.1L622.9,695.1L623.3,693.1L623.7,691.1L624.0,689.1L624.4,687.1L624.8,685.1L625.2,683.1L625.5,681.1L625.9,679.1L626.3,677.1L626.6,675.1L627.0,673.1L627.4,671.1L627.7,669.1L628.1,667.1L628.4,665.1L628.8,663.1L629.1,661.1L629.5,659.1L629.8,657.1L630.2,655.1L630.5,653.1L630.8,651.1L631.1,649.1L631.5,647.1L631.8,645.1L632.1,643.1L632.4,641.1L632.7,639.1L632.9,637.1L633.2,635.1L633.5,633.1L633.8,631.1L634.0,629.1L634.3,627.1L634.5,625.1L634.7,623.1L635.0,621.1L635.2,619.1L635.4,617.1L635.6,615.1L635.8,613.1L636.0,611.1L636.2,609.1L636.4,607.1L636.6,605.1L636.7,603.1L636.9,601.1L637.1,599.1L637.2,597.1L637.4,595.1L637.5,593.1L637.6,591.1L637.7,589.1L637.8,587.1L637.8,585.1L637.9,583.1L637.9,581.1L637.9,579.1L637.9,577.1L637.9,575.1L637.9,573.1L637.8,571.1L637.8,569.1L637.7,567.1L637.6,565.1L637.5,563.1L637.4,561.1L637.3,559.1L637.1,557.1L637.0,555.1L636.9,553.1L636.7,551.1L636.5,549.1L636.4,547.1L636.2,545.1L636.0,543.1L635.8,541.1L635.5,539.1L635.3,537.1L635.1,535.1L634.8,533.1L634.5,531.1L634.2,529.1L633.9,527.1L633.6,525.1L633.3,523.1L633.0,521.1L632.7,519.1L632.3,517.1L632.0,515.1L631.6,513.1L631.3,511.1L630.9,509.1L630.5,507.1L630.1,505.1L629.8,503.1L629.4,501.1L629.0,499.1L628.7,497.1L628.3,495.1L627.9,493.1L627.6,491.1L627.2,489.1L626.8,487.1L626.5,485.1L626.1,483.1L625.8,481.1L625.4,479.1L625.1,477.1L624.8,475.1L624.5,473.1L624.1,471.1L623.8,469.1L623.5,467.1L623.2,465.1L622.9,463.1L622.6,461.1L622.2,459.1L621.9,457.1L621.6,455.1L621.3,453.1L621.0,451.1L620.8,449.1L620.5,447.1L620.2,445.1L619.9,443.1L619.7,441.1L619.4,439.1L619.1,437.1L618.9,435.1L618.6,433.1L618.3,431.1L618.1,429.1L617.8,427.1L617.5,425.1L617.3,423.1L617.0,421.1L616.8,419.1L616.5,417.1L616.3,415.1L616.0,413.1L615.8,411.1L615.5,409.1L615.3,407.1L615.0,405.1L614.8,403.1L614.6,401.1L614.4,399.1L614.1,397.1L613.9,395.1L613.7,393.1L613.5,391.1L613.3,389.1L613.1,387.1L612.9,385.1L612.7,383.1L612.6,381.1L612.4,379.1L612.3,377.1L612.1,375.1L612.0,373.1L611.8,371.1L611.7,369.1L611.5,367.1L611.4,365.1L611.2,363.1L611.1,361.1L610.9,359.1L610.8,357.1L610.6,355.1L610.5,353.1L610.3,351.1L610.2,349.1L610.1,347.1L609.9,345.1L609.8,343.1L609.7,341.1L609.6,339.1L609.5,337.1L609.4,335.1L609.3,333.1L609.2,331.1L609.1,329.1L609.1,327.1L609.0,325.1L608.9,323.1L608.9,321.1L608.9,319.1L608.8,317.1L608.8,315.1L608.8,313.1L608.7,311.1L608.7,309.1L608.7,307.1L608.7,305.1L608.7,303.1L608.6,301.1L608.6,299.1L608.6,297.1L608.6,295.1L608.5,293.1L608.5,291.1L608.5,289.1L608.5,287.1L608.4,285.1L608.4,283.1L608.4,281.1L608.4,279.1L608.3,277.1L608.3,275.1L608.3,273.1L608.3,271.1L608.2,269.1L608.2,267.1L608.2,265.1L608.2,263.1L608.1,261.1L608.1,259.1L608.1,257.1L608.0,255.1L608.0,253.1L608.0,251.1L608.0,249.1L608.0,247.1L607.9,245.1L607.9,243.1L607.9,241.1L607.9,239.1L607.9,237.1L607.8,235.1L607.8,233.1L607.8,231.1L607.8,229.1L607.8,227.1L607.8,225.1L607.7,223.1L607.7,221.1L607.7,219.1L607.7,217.1L607.7,215.1L607.7,213.1L607.7,211.1L607.6,209.1L607.6,207.1L607.6,205.1L607.6,203.1L607.6,201.1L607.6,199.1L607.6,197.1L607.6,195.1Z"/>
<path class="w" d="M607.4,389.3V769.5"/>
<rect class="b" x="603.7" y="529.6" width="7.4" height="97.9" rx="0.8"/>
<circle class="m" cx="607.4" cy="582.2" r="6.3"/>
<path class="v" fill="#fb6a4a" d="M685.1,411.2L685.1,413.2L685.1,415.2L685.1,417.2L685.1,419.2L685.1,421.2L685.1,423.2L685.1,425.2L685.1,427.2L685.0,429.2L685.0,431.2L685.0,433.2L685.0,435.2L685.0,437.2L685.0,439.2L685.0,441.2L685.0,443.2L685.0,445.2L685.0,447.2L684.9,449.2L684.9,451.2L684.9,453.2L684.9,455.2L684.9,457.2L684.9,459.2L684.9,461.2L684.8,463.2L684.8,465.2L684.8,467.2L684.8,469.2L684.7,471.2L684.7,473.2L684.7,475.2L684.6,477.2L684.6,479.2L684.6,481.2L684.5,483.2L684.5,485.2L684.5,487.2L684.4,489.2L684.4,491.2L684.4,493.2L684.3,495.2L684.3,497.2L684.3,499.2L684.3,501.2L684.2,503.2L684.2,505.2L684.1,507.2L684.1,509.2L684.1,511.2L684.0,513.2L684.0,515.2L683.9,517.2L683.9,519.2L683.8,521.2L683.8,523.2L683.7,525.2L683.6,527.2L683.5,529.2L683.4,531.2L683.3,533.2L683.2,535.2L683.1,537.2L682.9,539.2L682.8,541.2L682.7,543.2L682.5,545.2L682.4,547.2L682.2,549.2L682.0,551.2L681.9,553.2L681.7,555.2L681.5,557.2L681.3,559.2L681.1,561.2L680.8,563.2L680.6,565.2L680.3,567.2L680.1,569.2L679.8,571.2L679.5,573.2L679.2,575.2L678.8,577.2L678.5,579.2L678.1,581.2L677.8,583.2L677.4,585.2L677.0,587.2L676.6,589.2L676.2,591.2L675.8,593.2L675.4,595.2L674.9,597.2L674.5,599.2L674.0,601.2L673.6,603.2L673.1,605.2L672.6,607.2L672.1,609.2L671.7,611.2L671.2,613.2L670.7,615.2L670.2,617.2L669.7,619.2L669.2,621.2L668.7,623.2L668.2,625.2L667.7,627.2L667.2,629.2L666.8,631.2L666.3,633.2L665.8,635.2L665.3,637.2L664.8,639.2L664.3,641.2L663.8,643.2L663.3,645.2L662.8,647.2L662.4,649.2L661.9,651.2L661.5,653.2L661.1,655.2L660.7,657.2L660.3,659.2L659.9,661.2L659.6,663.2L659.2,665.2L658.9,667.2L658.5,669.2L658.2,671.2L657.9,673.2L657.6,675.2L657.3,677.2L657.0,679.2L656.7,681.2L656.5,683.2L656.2,685.2L656.0,687.2L655.8,689.2L655.6,691.2L655.4,693.2L655.2,695.2L655.1,697.2L654.9,699.2L654.8,701.2L654.7,703.2L654.6,705.2L654.5,707.2L654.5,709.2L654.5,711.2L654.6,713.2L654.7,715.2L654.8,717.2L654.9,719.2L655.1,721.2L655.3,723.2L655.5,725.2L655.8,727.2L656.0,729.2L656.3,731.2L656.5,733.2L656.8,735.2L657.2,737.2L657.5,739.2L657.9,741.2L658.3,743.2L658.7,745.2L659.1,747.2L659.5,749.2L660.0,751.2L660.5,753.2L660.9,755.2L661.4,757.2L661.9,759.2L662.4,761.2L663.0,763.2L663.5,765.2L664.1,767.2L664.7,769.2L665.3,771.2L665.9,773.2L666.5,775.2L667.2,777.2L667.2,777.3L703.4,777.3L703.4,777.2L704.0,775.2L704.7,773.2L705.3,771.2L705.9,769.2L706.5,767.2L707.0,765.2L707.6,763.2L708.1,761.2L708.6,759.2L709.1,757.2L709.6,755.2L710.1,753.2L710.6,751.2L711.0,749.2L711.5,747.2L711.9,745.2L712.3,743.2L712.7,741.2L713.0,739.2L713.4,737.2L713.7,735.2L714.0,733.2L714.3,731.2L714.6,729.2L714.8,727.2L715.0,725.2L715.2,723.2L715.4,721.2L715.6,719.2L715.8,717.2L715.9,715.2L716.0,713.2L716.0,711.2L716.1,709.2L716.0,707.2L716.0,705.2L715.9,703.2L715.8,701.2L715.7,699.2L715.5,697.2L715.3,695.2L715.2,693.2L715.0,691.2L714.8,689.2L714.6,687.2L714.3,685.2L714.1,683.2L713.8,681.2L713.6,679.2L713.3,677.2L713.0,675.2L712.7,673.2L712.4,671.2L712.0,669.2L711.7,667.2L711.4,665.2L711.0,663.2L710.6,661.2L710.2,659.2L709.9,657.2L709.5,655.2L709.0,653.2L708.6,651.2L708.2,649.2L707.7,647.2L707.3,645.2L706.8,643.2L706.3,641.2L705.8,639.2L705.3,637.2L704.8,635.2L704.3,633.2L703.8,631.2L703.3,629.2L702.8,627.2L702.3,625.2L701.8,623.2L701.3,621.2L700.8,619.2L700.3,617.2L699.9,615.2L699.4,613.2L698.9,611.2L698.4,609.2L697.9,607.2L697.5,605.2L697.0,603.2L696.5,601.2L696.1,599.2L695.6,597.2L695.2,595.2L694.8,593.2L694.4,591.2L694.0,589.2L693.6,587.2L693.2,585.2L692.8,583.2L692.4,581.2L692.1,579.2L691.7,577.2L691.4,575.2L691.1,573.2L690.8,571.2L690.5,569.2L690.2,567.2L690.0,565.2L689.7,563.2L689.5,561.2L689.3,559.2L689.1,557.2L688.9,555.2L688.7,553.2L688.5,551.2L688.3,549.2L688.2,547.2L688.0,545.2L687.9,543.2L687.7,541.2L687.6,539.2L687.5,537.2L687.4,535.2L687.2,533.2L687.1,531.2L687.0,529.2L687.0,527.2L686.9,525.2L686.8,523.2L686.7,521.2L686.7,519.2L686.6,517.2L686.6,515.2L686.5,513.2L686.5,511.2L686.5,509.2L686.4,507.2L686.4,505.2L686.3,503.2L686.3,501.2L686.3,499.2L686.2,497.2L686.2,495.2L686.2,493.2L686.2,491.2L686.1,489.2L686.1,487.2L686.1,485.2L686.0,483.2L686.0,481.2L686.0,479.2L685.9,477.2L685.9,475.2L685.9,473.2L685.8,471.2L685.8,469.2L685.8,467.2L685.7,465.2L685.7,463.2L685.7,461.2L685.7,459.2L685.7,457.2L685.6,455.2L685.6,453.2L685.6,451.2L685.6,449.2L685.6,447.2L685.6,445.2L685.6,443.2L685.6,441.2L685.6,439.2L685.5,437.2L685.5,435.2L685.5,433.2L685.5,431.2L685.5,429.2L685.5,427.2L685.5,425.2L685.5,423.2L685.5,421.2L685.5,419.2L685.5,417.2L685.5,415.2L685.5,413.2L685.5,411.2Z"/>
<path class="w" d="M685.3,507.6V777.3"/>
<rect class="b" x="681.6" y="656.6" width="7.4" height="86.9" rx="0.8"/>
<circle class="m" cx="685.3" cy="709.3" r="6.3"/>
</g>
<g>
<path class="g" d="M773.7,777.3H1113.3"/>
<path class="g" d="M773.7,591.0H1113.3"/>
<path class="g" d="M773.7,404.6H1113.3"/>
<path class="g" d="M773.7,218.3H1113.3"/>
<path class="g" d="M773.7,32.0H1113.3"/>
<rect class="f" x="775.6" y="2.3" width="336.2" height="804.5"/>
<text class="t" transform="translate(943.9,73.3) scale(1.0,1)" x="0" y="0">Logging</text>
<path class="k" d="M865.8,806.8V825.8"/>
<text class="xl" transform="translate(877.8,846.8) rotate(-90)" x="0" y="0">amph</text>
<path class="k" d="M943.6,806.8V825.8"/>
<text class="xl" transform="translate(955.6,846.8) rotate(-90)" x="0" y="0">mammal</text>
<path class="k" d="M1021.5,806.8V825.8"/>
<text class="xl" transform="translate(1033.5,846.8) rotate(-90)" x="0" y="0">bird</text>
<path class="v" fill="#74c476" d="M864.4,42.4L864.4,44.4L864.4,46.4L864.4,48.4L864.4,50.4L864.4,52.4L864.4,54.4L864.4,56.4L864.4,58.4L864.4,60.4L864.3,62.4L864.3,64.4L864.3,66.4L864.3,68.4L864.3,70.4L864.3,72.4L864.3,74.4L864.2,76.4L864.2,78.4L864.2,80.4L864.2,82.4L864.2,84.4L864.2,86.4L864.1,88.4L864.1,90.4L864.1,92.4L864.1,94.4L864.0,96.4L864.0,98.4L864.0,100.4L864.0,102.4L863.9,104.4L863.9,106.4L863.9,108.4L863.9,110.4L863.8,112.4L863.8,114.4L863.7,116.4L863.7,118.4L863.6,120.4L863.6,122.4L863.6,124.4L863.5,126.4L863.4,128.4L863.4,130.4L863.3,132.4L863.2,134.4L863.2,136.4L863.1,138.4L863.0,140.4L862.9,142.4L862.8,144.4L862.8,146.4L862.7,148.4L862.6,150.4L862.5,152.4L862.4,154.4L862.4,156.4L862.3,158.4L862.2,160.4L862.1,162.4L862.1,164.4L862.0,166.4L861.9,168.4L861.8,170.4L861.7,172.4L861.7,174.4L861.6,176.4L861.5,178.4L861.4,180.4L861.3,182.4L861.2,184.4L861.1,186.4L861.1,188.4L861.0,190.4L860.9,192.4L860.8,194.4L860.7,196.4L860.6,198.4L860.5,200.4L860.4,202.4L860.3,204.4L860.2,206.4L860.1,208.4L860.0,210.4L859.9,212.4L859.8,214.4L859.7,216.4L859.6,218.4L859.5,220.4L859.4,222.4L859.3,224.4L859.2,226.4L859.1,228.4L859.0,230.4L858.9,232.4L858.8,234.4L858.7,236.4L858.6,238.4L858.5,240.4L858.4,242.4L858.3,244.4L858.2,246.4L858.1,248.4L858.0,250.4L857.9,252.4L857.8,254.4L857.7,256.4L857.6,258.4L857.5,260.4L857.4,262.4L857.3,264.4L857.2,266.4L857.0,268.4L856.9,270.4L856.8,272.4L856.7,274.4L856.6,276.4L856.5,278.4L856.4,280.4L856.3,282.4L856.2,284.4L856.1,286.4L855.9,288.4L855.8,290.4L855.7,292.4L855.6,294.4L855.5,296.4L855.3,298.4L855.2,300.4L855.1,302.4L854.9,304.4L854.8,306.4L854.6,308.4L854.5,310.4L854.3,312.4L854.2,314.4L854.0,316.4L853.8,318.4L853.7,320.4L853.5,322.4L853.3,324.4L853.1,326.4L853.0,328.4L852.8,330.4L852.6,332.4L852.4,334.4L852.2,336.4L852.1,338.4L851.9,340.4L851.7,342.4L851.5,344.4L851.4,346.4L851.2,348.4L851.0,350.4L850.8,352.4L850.7,354.4L850.5,356.4L850.3,358.4L850.1,360.4L850.0,362.4L849.8,364.4L849.6,366.4L849.4,368.4L849.2,370.4L849.1,372.4L848.9,374.4L848.7,376.4L848.5,378.4L848.4,380.4L848.2,382.4L848.0,384.4L847.8,386.4L847.6,388.4L847.5,390.4L847.3,392.4L847.1,394.4L846.9,396.4L846.8,398.4L846.6,400.4L846.4,402.4L846.3,404.4L846.1,406.4L845.9,408.4L845.8,410.4L845.6,412.4L845.4,414.4L845.3,416.4L845.1,418.4L845.0,420.4L844.8,422.4L844.7,424.4L844.5,426.4L844.3,428.4L844.2,430.4L844.0,432.4L843.9,434.4L843.7,436.4L843.6,438.4L843.4,440.4L843.2,442.4L843.1,444.4L842.9,446.4L842.8,448.4L842.6,450.4L842.4,452.4L842.3,454.4L842.1,456.4L842.0,458.4L841.8,460.4L841.7,462.4L841.6,464.4L841.4,466.4L841.3,468.4L841.2,470.4L841.0,472.4L840.9,474.4L840.8,476.4L840.7,478.4L840.6,480.4L840.4,482.4L840.3,484.4L840.2,486.4L840.1,488.4L840.0,490.4L839.9,492.4L839.8,494.4L839.7,496.4L839.6,498.4L839.5,500.4L839.4,502.4L839.3,504.4L839.2,506.4L839.1,508.4L839.0,510.4L839.0,512.4L838.9,514.4L838.8,516.4L838.7,518.4L838.6,520.4L838.5,522.4L838.5,524.4L838.4,526.4L838.3,528.4L838.2,530.4L838.2,532.4L838.1,534.4L838.0,536.4L837.9,538.4L837.9,540.4L837.8,542.4L837.7,544.4L837.7,546.4L837.6,548.4L837.5,550.4L837.5,552.4L837.4,554.4L837.3,556.4L837.3,558.4L837.2,560.4L837.2,562.4L837.1,564.4L837.0,566.4L837.0,568.4L836.9,570.4L836.8,572.4L836.8,574.4L836.7,576.4L836.7,578.4L836.6,580.4L836.5,582.4L836.5,584.4L836.4,586.4L836.4,588.4L836.3,590.4L836.2,592.4L836.2,594.4L836.1,596.4L836.1,598.4L836.0,600.4L835.9,602.4L835.9,604.4L835.8,606.4L835.7,608.4L835.7,610.4L835.6,612.4L835.6,614.4L835.5,616.4L835.5,618.4L835.4,620.4L835.4,622.4L835.3,624.4L835.3,626.4L835.3,628.4L835.2,630.4L835.2,632.4L835.1,634.4L835.1,636.4L835.1,638.4L835.0,640.4L835.0,642.4L835.0,644.4L835.0,646.4L835.0,648.4L834.9,650.4L834.9,652.4L834.9,654.4L834.9,656.4L834.9,658.4L834.9,660.4L834.9,662.4L834.9,664.4L835.0,666.4L835.0,668.4L835.0,670.4L835.0,672.4L835.0,674.4L835.0,676.4L835.1,678.4L835.1,680.4L835.1,682.4L835.1,684.4L835.2,686.4L835.2,688.4L835.2,690.4L835.3,692.4L835.3,694.4L835.4,696.4L835.4,698.4L835.5,700.4L835.6,702.4L835.6,704.4L835.7,706.4L835.8,708.4L835.9,710.4L836.0,712.4L836.1,714.4L836.2,716.4L836.3,718.4L836.4,720.4L836.5,722.4L836.7,724.4L836.8,726.4L836.9,728.4L837.1,730.4L837.3,732.4L837.4,734.4L837.6,736.4L837.8,738.4L838.0,740.4L838.2,742.4L838.4,744.4L838.6,746.4L838.8,748.4L839.1,750.4L839.3,752.4L839.5,754.4L839.7,756.4L840.0,758.4L840.2,760.4L840.4,762.4L840.7,764.4L840.9,766.4L841.1,768.4L841.4,770.4L841.6,772.4L841.9,774.4L842.1,776.4L842.2,777.3L889.4,777.3L889.5,776.4L889.8,774.4L890.0,772.4L890.3,770.4L890.5,768.4L890.7,766.4L891.0,764.4L891.2,762.4L891.4,760.4L891.7,758.4L891.9,756.4L892.1,754.4L892.3,752.4L892.6,750.4L892.8,748.4L893.0,746.4L893.2,744.4L893.4,742.4L893.6,740.4L893.8,738.4L894.0,736.4L894.2,734.4L894.4,732.4L894.5,730.4L894.7,728.4L894.8,726.4L895.0,724.4L895.1,722.4L895.2,720.4L895.3,718.4L895.5,716.4L895.6,714.4L895.7,712.4L895.7,710.4L895.8,708.4L895.9,706.4L896.0,704.4L896.1,702.4L896.1,700.4L896.2,698.4L896.3,696.4L896.3,694.4L896.3,692.4L896.4,690.4L896.4,688.4L896.5,686.4L896.5,684.4L896.5,682.4L896.5,680.4L896.6,678.4L896.6,676.4L896.6,674.4L896.6,672.4L896.6,670.4L896.7,668.4L896.7,666.4L896.7,664.4L896.7,662.4L896.7,660.4L896.7,658.4L896.7,656.4L896.7,654.4L896.7,652.4L896.7,650.4L896.7,648.4L896.6,646.4L896.6,644.4L896.6,642.4L896.6,640.4L896.5,638.4L896.5,636.4L896.5,634.4L896.4,632.4L896.4,630.4L896.4,628.4L896.3,626.4L896.3,624.4L896.2,622.4L896.2,620.4L896.2,618.4L896.1,616.4L896.0,614.4L896.0,612.4L895.9,610.4L895.9,608.4L895.8,606.4L895.8,604.4L895.7,602.4L895.6,600.4L895.6,598.4L895.5,596.4L895.4,594.4L895.4,592.4L895.3,590.4L895.3,588.4L895.2,586.4L895.1,584.4L895.1,582.4L895.0,580.4L895.0,578.4L894.9,576.4L894.8,574.4L894.8,572.4L894.7,570.4L894.7,568.4L894.6,566.4L894.5,564.4L894.5,562.4L894.4,560.4L894.3,558.4L894.3,556.4L894.2,554.4L894.1,552.4L894.1,550.4L894.0,548.4L894.0,546.4L893.9,544.4L893.8,542.4L893.8,540.4L893.7,538.4L893.6,536.4L893.5,534.4L893.5,532.4L893.4,530.4L893.3,528.4L893.2,526.4L893.2,524.4L893.1,522.4L893.0,520.4L892.9,518.4L892.8,516.4L892.8,514.4L892.7,512.4L892.6,510.4L892.5,508.4L892.4,506.4L892.3,504.4L892.2,502.4L892.1,500.4L892.0,498.4L891.9,496.4L891.8,494.4L891.7,492.4L891.6,490.4L891.5,488.4L891.4,486.4L891.3,484.4L891.2,482.4L891.1,480.4L890.9,478.4L890.8,476.4L890.7,474.4L890.6,472.4L890.5,470.4L890.3,468.4L890.2,466.4L890.1,464.4L889.9,462.4L889.8,460.4L889.6,458.4L889.5,456.4L889.3,454.4L889.2,452.4L889.0,450.4L888.9,448.4L888.7,446.4L888.5,444.4L888.4,442.4L888.2,440.4L888.1,438.4L887.9,436.4L887.7,434.4L887.6,432.4L887.4,430.4L887.3,428.4L887.1,426.4L887.0,424.4L886.8,422.4L886.6,420.4L886.5,418.4L886.3,416.4L886.2,414.4L886.0,412.4L885.9,410.4L885.7,408.4L885.5,406.4L885.4,404.4L885.2,402.4L885.0,400.4L884.9,398.4L884.7,396.4L884.5,394.4L884.3,392.4L884.2,390.4L884.0,388.4L883.8,386.4L883.6,384.4L883.4,382.4L883.3,380.4L883.1,378.4L882.9,376.4L882.7,374.4L882.6,372.4L882.4,370.4L882.2,368.4L882.0,366.4L881.8,364.4L881.7,362.4L881.5,360.4L881.3,358.4L881.1,356.4L881.0,354.4L880.8,352.4L880.6,350.4L880.4,348.4L880.3,346.4L880.1,344.4L879.9,342.4L879.7,340.4L879.6,338.4L879.4,336.4L879.2,334.4L879.0,332.4L878.8,330.4L878.7,328.4L878.5,326.4L878.3,324.4L878.1,322.4L878.0,320.4L877.8,318.4L877.6,316.4L877.4,314.4L877.3,312.4L877.1,310.4L877.0,308.4L876.8,306.4L876.7,304.4L876.5,302.4L876.4,300.4L876.3,298.4L876.2,296.4L876.0,294.4L875.9,292.4L875.8,290.4L875.7,288.4L875.6,286.4L875.4,284.4L875.3,282.4L875.2,280.4L875.1,278.4L875.0,276.4L874.9,274.4L874.8,272.4L874.7,270.4L874.6,268.4L874.5,266.4L874.4,264.4L874.3,262.4L874.2,260.4L874.1,258.4L874.0,256.4L873.9,254.4L873.8,252.4L873.7,250.4L873.5,248.4L873.4,246.4L873.3,244.4L873.2,242.4L873.1,240.4L873.0,238.4L872.9,236.4L872.8,234.4L872.7,232.4L872.6,230.4L872.5,228.4L872.4,226.4L872.3,224.4L872.2,222.4L872.1,220.4L872.0,218.4L871.9,216.4L871.8,214.4L871.7,212.4L871.6,210.4L871.5,208.4L871.4,206.4L871.3,204.4L871.2,202.4L871.1,200.4L871.0,198.4L870.9,196.4L870.8,194.4L870.7,192.4L870.7,190.4L870.6,188.4L870.5,186.4L870.4,184.4L870.3,182.4L870.2,180.4L870.1,178.4L870.1,176.4L870.0,174.4L869.9,172.4L869.8,170.4L869.7,168.4L869.6,166.4L869.6,164.4L869.5,162.4L869.4,160.4L869.3,158.4L869.3,156.4L869.2,154.4L869.1,152.4L869.0,150.4L868.9,148.4L868.9,146.4L868.8,144.4L868.7,142.4L868.6,140.4L868.5,138.4L868.5,136.4L868.4,134.4L868.3,132.4L868.2,130.4L868.2,128.4L868.1,126.4L868.1,124.4L868.0,122.4L868.0,120.4L867.9,118.4L867.9,116.4L867.8,114.4L867.8,112.4L867.8,110.4L867.7,108.4L867.7,106.4L867.7,104.4L867.6,102.4L867.6,100.4L867.6,98.4L867.6,96.4L867.6,94.4L867.5,92.4L867.5,90.4L867.5,88.4L867.5,86.4L867.4,84.4L867.4,82.4L867.4,80.4L867.4,78.4L867.4,76.4L867.4,74.4L867.3,72.4L867.3,70.4L867.3,68.4L867.3,66.4L867.3,64.4L867.3,62.4L867.3,60.4L867.3,58.4L867.2,56.4L867.2,54.4L867.2,52.4L867.2,50.4L867.2,48.4L867.2,46.4L867.2,44.4L867.2,42.4Z"/>
<path class="w" d="M865.8,131.6V777.3"/>
<rect class="b" x="862.1" y="460.3" width="7.4" height="264.3" rx="0.8"/>
<circle class="m" cx="865.8" cy="592.0" r="6.3"/>
<path class="v" fill="#74c476" d="M943.4,143.1L943.4,145.1L943.4,147.1L943.4,149.1L943.4,151.1L943.4,153.1L943.4,155.1L943.4,157.1L943.4,159.1L943.4,161.1L943.4,163.1L943.4,165.1L943.4,167.1L943.4,169.1L943.4,171.1L943.4,173.1L943.4,175.1L943.4,177.1L943.4,179.1L943.4,181.1L943.4,183.1L943.4,185.1L943.4,187.1L943.4,189.1L943.4,191.1L943.4,193.1L943.4,195.1L943.4,197.1L943.4,199.1L943.4,201.1L943.4,203.1L943.4,205.1L943.4,207.1L943.4,209.1L943.4,211.1L943.3,213.1L943.3,215.1L943.3,217.1L943.3,219.1L943.3,221.1L943.3,223.1L943.3,225.1L943.3,227.1L943.3,229.1L943.3,231.1L943.3,233.1L943.3,235.1L943.3,237.1L943.3,239.1L943.3,241.1L943.3,243.1L943.3,245.1L943.3,247.1L943.3,249.1L943.3,251.1L943.3,253.1L943.3,255.1L943.2,257.1L943.2,259.1L943.2,261.1L943.2,263.1L943.2,265.1L943.2,267.1L943.2,269.1L943.2,271.1L943.2,273.1L943.2,275.1L943.2,277.1L943.2,279.1L943.2,281.1L943.2,283.1L943.2,285.1L943.2,287.1L943.1,289.1L943.1,291.1L943.1,293.1L943.1,295.1L943.1,297.1L943.1,299.1L943.1,301.1L943.1,303.1L943.1,305.1L943.1,307.1L943.1,309.1L943.0,311.1L943.0,313.1L943.0,315.1L943.0,317.1L943.0,319.1L942.9,321.1L942.9,323.1L942.9,325.1L942.8,327.1L942.8,329.1L942.8,331.1L942.8,333.1L942.7,335.1L942.7,337.1L942.7,339.1L942.6,341.1L942.6,343.1L942.6,345.1L942.5,347.1L942.5,349.1L942.5,351.1L942.4,353.1L942.4,355.1L942.4,357.1L942.4,359.1L942.3,361.1L942.3,363.1L942.3,365.1L942.2,367.1L942.2,369.1L942.2,371.1L942.2,373.1L942.2,375.1L942.1,377.1L942.1,379.1L942.1,381.1L942.1,383.1L942.1,385.1L942.0,387.1L942.0,389.1L942.0,391.1L942.0,393.1L941.9,395.1L941.9,397.1L941.9,399.1L941.9,401.1L941.8,403.1L941.8,405.1L941.7,407.1L941.7,409.1L941.6,411.1L941.6,413.1L941.5,415.1L941.4,417.1L941.3,419.1L941.3,421.1L941.2,423.1L941.1,425.1L941.0,427.1L940.9,429.1L940.9,431.1L940.8,433.1L940.7,435.1L940.6,437.1L940.6,439.1L940.5,441.1L940.4,443.1L940.3,445.1L940.3,447.1L940.2,449.1L940.1,451.1L940.1,453.1L940.0,455.1L939.9,457.1L939.8,459.1L939.8,461.1L939.7,463.1L939.6,465.1L939.6,467.1L939.5,469.1L939.4,471.1L939.3,473.1L939.2,475.1L939.1,477.1L939.0,479.1L938.9,481.1L938.8,483.1L938.7,485.1L938.5,487.1L938.4,489.1L938.2,491.1L938.0,493.1L937.8,495.1L937.6,497.1L937.4,499.1L937.2,501.1L937.0,503.1L936.8,505.1L936.6,507.1L936.3,509.1L936.1,511.1L935.8,513.1L935.5,515.1L935.3,517.1L935.0,519.1L934.7,521.1L934.4,523.1L934.1,525.1L933.9,527.1L933.6,529.1L933.3,531.1L933.0,533.1L932.7,535.1L932.4,537.1L932.1,539.1L931.9,541.1L931.6,543.1L931.3,545.1L931.0,547.1L930.7,549.1L930.4,551.1L930.1,553.1L929.8,555.1L929.4,557.1L929.1,559.1L928.8,561.1L928.5,563.1L928.2,565.1L927.9,567.1L927.6,569.1L927.3,571.1L927.0,573.1L926.7,575.1L926.3,577.1L926.0,579.1L925.7,581.1L925.4,583.1L925.1,585.1L924.7,587.1L924.4,589.1L924.1,591.1L923.7,593.1L923.4,595.1L923.1,597.1L922.7,599.1L922.4,601.1L922.0,603.1L921.7,605.1L921.3,607.1L921.0,609.1L920.6,611.1L920.3,613.1L919.9,615.1L919.5,617.1L919.2,619.1L918.8,621.1L918.4,623.1L918.1,625.1L917.8,627.1L917.5,629.1L917.1,631.1L916.9,633.1L916.6,635.1L916.3,637.1L916.0,639.1L915.8,641.1L915.5,643.1L915.3,645.1L915.1,647.1L914.9,649.1L914.7,651.1L914.5,653.1L914.3,655.1L914.2,657.1L914.0,659.1L913.9,661.1L913.7,663.1L913.6,665.1L913.5,667.1L913.4,669.1L913.3,671.1L913.2,673.1L913.1,675.1L913.0,677.1L913.0,679.1L912.9,681.1L912.8,683.1L912.8,685.1L912.8,687.1L912.8,689.1L912.8,691.1L912.8,693.1L912.8,695.1L912.8,697.1L912.9,699.1L912.9,701.1L913.0,703.1L913.1,705.1L913.1,707.1L913.2,709.1L913.4,711.1L913.5,713.1L913.6,715.1L913.8,717.1L914.0,719.1L914.1,721.1L914.4,723.1L914.6,725.1L914.8,727.1L915.0,729.1L915.2,731.1L915.5,733.1L915.7,735.1L916.0,737.1L916.2,739.1L916.5,741.1L916.8,743.1L917.0,745.1L917.3,747.1L917.6,749.1L917.9,751.1L918.2,753.1L918.5,755.1L918.8,757.1L919.1,759.1L919.3,761.1L919.6,763.1L919.9,765.1L920.2,767.1L920.5,769.1L920.9,771.1L921.2,773.1L921.5,775.1L921.8,777.1L921.8,777.3L965.4,777.3L965.4,777.1L965.7,775.1L966.1,773.1L966.4,771.1L966.7,769.1L967.0,767.1L967.3,765.1L967.6,763.1L967.9,761.1L968.2,759.1L968.5,757.1L968.7,755.1L969.0,753.1L969.3,751.1L969.6,749.1L969.9,747.1L970.2,745.1L970.4,743.1L970.7,741.1L971.0,739.1L971.2,737.1L971.5,735.1L971.7,733.1L972.0,731.1L972.2,729.1L972.4,727.1L972.7,725.1L972.9,723.1L973.1,721.1L973.3,719.1L973.4,717.1L973.6,715.1L973.7,713.1L973.9,711.1L974.0,709.1L974.1,707.1L974.2,705.1L974.2,703.1L974.3,701.1L974.3,699.1L974.4,697.1L974.4,695.1L974.5,693.1L974.5,691.1L974.5,689.1L974.4,687.1L974.4,685.1L974.4,683.1L974.3,681.1L974.3,679.1L974.2,677.1L974.1,675.1L974.0,673.1L973.9,671.1L973.8,669.1L973.7,667.1L973.6,665.1L973.5,663.1L973.3,661.1L973.2,659.1L973.0,657.1L972.9,655.1L972.7,653.1L972.5,651.1L972.3,649.1L972.1,647.1L971.9,645.1L971.7,643.1L971.4,641.1L971.2,639.1L970.9,637.1L970.6,635.1L970.4,633.1L970.1,631.1L969.8,629.1L969.4,627.1L969.1,625.1L968.8,623.1L968.4,621.1L968.1,619.1L967.7,617.1L967.3,615.1L967.0,613.1L966.6,611.1L966.3,609.1L965.9,607.1L965.5,605.1L965.2,603.1L964.8,601.1L964.5,599.1L964.2,597.1L963.8,595.1L963.5,593.1L963.1,591.1L962.8,589.1L962.5,587.1L962.1,585.1L961.8,583.1L961.5,581.1L961.2,579.1L960.9,577.1L960.6,575.1L960.2,573.1L959.9,571.1L959.6,569.1L959.3,567.1L959.0,565.1L958.7,563.1L958.4,561.1L958.1,559.1L957.8,557.1L957.5,555.1L957.2,553.1L956.9,551.1L956.6,549.1L956.3,547.1L956.0,545.1L955.7,543.1L955.4,541.1L955.1,539.1L954.8,537.1L954.5,535.1L954.2,533.1L953.9,531.1L953.6,529.1L953.4,527.1L953.1,525.1L952.8,523.1L952.5,521.1L952.2,519.1L952.0,517.1L951.7,515.1L951.4,513.1L951.2,511.1L950.9,509.1L950.7,507.1L950.4,505.1L950.2,503.1L950.0,501.1L949.8,499.1L949.6,497.1L949.4,495.1L949.2,493.1L949.0,491.1L948.9,489.1L948.7,487.1L948.6,485.1L948.4,483.1L948.3,481.1L948.2,479.1L948.1,477.1L948.0,475.1L947.9,473.1L947.8,471.1L947.7,469.1L947.7,467.1L947.6,465.1L947.5,463.1L947.4,461.1L947.4,459.1L947.3,457.1L947.2,455.1L947.2,453.1L947.1,451.1L947.0,449.1L946.9,447.1L946.9,445.1L946.8,443.1L946.7,441.1L946.7,439.1L946.6,437.1L946.5,435.1L946.4,433.1L946.4,431.1L946.3,429.1L946.2,427.1L946.1,425.1L946.0,423.1L946.0,421.1L945.9,419.1L945.8,417.1L945.7,415.1L945.7,413.1L945.6,411.1L945.5,409.1L945.5,407.1L945.4,405.1L945.4,403.1L945.4,401.1L945.3,399.1L945.3,397.1L945.3,395.1L945.3,393.1L945.2,391.1L945.2,389.1L945.2,387.1L945.2,385.1L945.1,383.1L945.1,381.1L945.1,379.1L945.1,377.1L945.1,375.1L945.0,373.1L945.0,371.1L945.0,369.1L945.0,367.1L944.9,365.1L944.9,363.1L944.9,361.1L944.9,359.1L944.8,357.1L944.8,355.1L944.8,353.1L944.7,351.1L944.7,349.1L944.7,347.1L944.6,345.1L944.6,343.1L944.6,341.1L944.6,339.1L944.5,337.1L944.5,335.1L944.5,333.1L944.4,331.1L944.4,329.1L944.4,327.1L944.3,325.1L944.3,323.1L944.3,321.1L944.3,319.1L944.2,317.1L944.2,315.1L944.2,313.1L944.2,311.1L944.2,309.1L944.2,307.1L944.1,305.1L944.1,303.1L944.1,301.1L944.1,299.1L944.1,297.1L944.1,295.1L944.1,293.1L944.1,291.1L944.1,289.1L944.1,287.1L944.1,285.1L944.1,283.1L944.0,281.1L944.0,279.1L944.0,277.1L944.0,275.1L944.0,273.1L944.0,271.1L944.0,269.1L944.0,267.1L944.0,265.1L944.0,263.1L944.0,261.1L944.0,259.1L944.0,257.1L944.0,255.1L944.0,253.1L944.0,251.1L944.0,249.1L943.9,247.1L943.9,245.1L943.9,243.1L943.9,241.1L943.9,239.1L943.9,237.1L943.9,235.1L943.9,233.1L943.9,231.1L943.9,229.1L943.9,227.1L943.9,225.1L943.9,223.1L943.9,221.1L943.9,219.1L943.9,217.1L943.9,215.1L943.9,213.1L943.9,211.1L943.9,209.1L943.9,207.1L943.9,205.1L943.9,203.1L943.9,201.1L943.9,199.1L943.8,197.1L943.8,195.1L943.8,193.1L943.8,191.1L943.8,189.1L943.8,187.1L943.8,185.1L943.8,183.1L943.8,181.1L943.8,179.1L943.8,177.1L943.8,175.1L943.8,173.1L943.8,171.1L943.8,169.1L943.8,167.1L943.8,165.1L943.8,163.1L943.8,161.1L943.8,159.1L943.8,157.1L943.8,155.1L943.8,153.1L943.8,151.1L943.8,149.1L943.8,147.1L943.8,145.1L943.8,143.1Z"/>
<path class="w" d="M943.6,481.4V777.3"/>
<rect class="b" x="939.9" y="635.7" width="7.4" height="106.3" rx="0.8"/>
<circle class="m" cx="943.6" cy="695.2" r="6.3"/>
<path class="v" fill="#74c476" d="M1021.3,392.9L1021.3,394.9L1021.3,396.9L1021.3,398.9L1021.3,400.9L1021.3,402.9L1021.3,404.9L1021.3,406.9L1021.3,408.9L1021.3,410.9L1021.3,412.9L1021.3,414.9L1021.3,416.9L1021.3,418.9L1021.3,420.9L1021.3,422.9L1021.3,424.9L1021.3,426.9L1021.3,428.9L1021.3,430.9L1021.3,432.9L1021.3,434.9L1021.3,436.9L1021.3,438.9L1021.3,440.9L1021.3,442.9L1021.3,444.9L1021.3,446.9L1021.3,448.9L1021.3,450.9L1021.3,452.9L1021.3,454.9L1021.2,456.9L1021.2,458.9L1021.2,460.9L1021.2,462.9L1021.2,464.9L1021.2,466.9L1021.2,468.9L1021.2,470.9L1021.2,472.9L1021.2,474.9L1021.2,476.9L1021.2,478.9L1021.2,480.9L1021.2,482.9L1021.2,484.9L1021.2,486.9L1021.2,488.9L1021.2,490.9L1021.2,492.9L1021.2,494.9L1021.2,496.9L1021.2,498.9L1021.2,500.9L1021.2,502.9L1021.1,504.9L1021.1,506.9L1021.1,508.9L1021.1,510.9L1021.1,512.9L1021.1,514.9L1021.1,516.9L1021.1,518.9L1021.1,520.9L1021.1,522.9L1021.1,524.9L1021.1,526.9L1021.1,528.9L1021.1,530.9L1021.1,532.9L1021.1,534.9L1021.1,536.9L1021.0,538.9L1021.0,540.9L1021.0,542.9L1021.0,544.9L1021.0,546.9L1021.0,548.9L1021.0,550.9L1021.0,552.9L1021.0,554.9L1021.0,556.9L1020.9,558.9L1020.9,560.9L1020.9,562.9L1020.9,564.9L1020.9,566.9L1020.9,568.9L1020.9,570.9L1020.9,572.9L1020.8,574.9L1020.8,576.9L1020.8,578.9L1020.8,580.9L1020.8,582.9L1020.8,584.9L1020.8,586.9L1020.7,588.9L1020.7,590.9L1020.7,592.9L1020.7,594.9L1020.7,596.9L1020.6,598.9L1020.6,600.9L1020.6,602.9L1020.6,604.9L1020.5,606.9L1020.5,608.9L1020.5,610.9L1020.4,612.9L1020.4,614.9L1020.3,616.9L1020.2,618.9L1020.2,620.9L1020.1,622.9L1020.0,624.9L1019.9,626.9L1019.8,628.9L1019.7,630.9L1019.5,632.9L1019.4,634.9L1019.2,636.9L1019.0,638.9L1018.8,640.9L1018.5,642.9L1018.3,644.9L1018.0,646.9L1017.7,648.9L1017.4,650.9L1017.1,652.9L1016.8,654.9L1016.5,656.9L1016.1,658.9L1015.8,660.9L1015.4,662.9L1015.0,664.9L1014.6,666.9L1014.1,668.9L1013.7,670.9L1013.2,672.9L1012.7,674.9L1012.2,676.9L1011.6,678.9L1011.1,680.9L1010.5,682.9L1009.9,684.9L1009.3,686.9L1008.6,688.9L1007.9,690.9L1007.2,692.9L1006.4,694.9L1005.7,696.9L1004.9,698.9L1004.1,700.9L1003.3,702.9L1002.5,704.9L1001.7,706.9L1000.9,708.9L1000.2,710.9L999.4,712.9L998.7,714.9L998.0,716.9L997.3,718.9L996.6,720.9L995.9,722.9L995.3,724.9L994.7,726.9L994.2,728.9L993.6,730.9L993.2,732.9L992.7,734.9L992.3,736.9L992.0,738.9L991.6,740.9L991.4,742.9L991.2,744.9L991.0,746.9L990.9,748.9L990.9,750.9L990.9,752.9L990.9,754.9L991.0,756.9L991.1,758.9L991.3,760.9L991.5,762.9L991.8,764.9L992.1,766.9L992.5,768.9L993.0,770.9L993.6,772.9L994.2,774.9L994.9,776.9L995.1,777.3L1048.0,777.3L1048.1,776.9L1048.8,774.9L1049.4,772.9L1050.0,770.9L1050.5,768.9L1050.9,766.9L1051.2,764.9L1051.5,762.9L1051.7,760.9L1051.9,758.9L1052.0,756.9L1052.1,754.9L1052.2,752.9L1052.2,750.9L1052.1,748.9L1052.0,746.9L1051.8,744.9L1051.6,742.9L1051.4,740.9L1051.1,738.9L1050.7,736.9L1050.3,734.9L1049.9,732.9L1049.4,730.9L1048.9,728.9L1048.3,726.9L1047.7,724.9L1047.1,722.9L1046.4,720.9L1045.8,718.9L1045.0,716.9L1044.3,714.9L1043.6,712.9L1042.8,710.9L1042.1,708.9L1041.3,706.9L1040.5,704.9L1039.7,702.9L1038.9,700.9L1038.1,698.9L1037.4,696.9L1036.6,694.9L1035.8,692.9L1035.1,690.9L1034.4,688.9L1033.8,686.9L1033.1,684.9L1032.5,682.9L1031.9,680.9L1031.4,678.9L1030.8,676.9L1030.3,674.9L1029.8,672.9L1029.4,670.9L1028.9,668.9L1028.5,666.9L1028.0,664.9L1027.6,662.9L1027.3,660.9L1026.9,658.9L1026.5,656.9L1026.2,654.9L1025.9,652.9L1025.6,650.9L1025.3,648.9L1025.0,646.9L1024.7,644.9L1024.5,642.9L1024.3,640.9L1024.0,638.9L1023.8,636.9L1023.7,634.9L1023.5,632.9L1023.4,630.9L1023.2,628.9L1023.1,626.9L1023.0,624.9L1022.9,622.9L1022.8,620.9L1022.8,618.9L1022.7,616.9L1022.7,614.9L1022.6,612.9L1022.6,610.9L1022.5,608.9L1022.5,606.9L1022.4,604.9L1022.4,602.9L1022.4,600.9L1022.4,598.9L1022.4,596.9L1022.3,594.9L1022.3,592.9L1022.3,590.9L1022.3,588.9L1022.3,586.9L1022.2,584.9L1022.2,582.9L1022.2,580.9L1022.2,578.9L1022.2,576.9L1022.2,574.9L1022.2,572.9L1022.1,570.9L1022.1,568.9L1022.1,566.9L1022.1,564.9L1022.1,562.9L1022.1,560.9L1022.1,558.9L1022.1,556.9L1022.1,554.9L1022.0,552.9L1022.0,550.9L1022.0,548.9L1022.0,546.9L1022.0,544.9L1022.0,542.9L1022.0,540.9L1022.0,538.9L1022.0,536.9L1022.0,534.9L1022.0,532.9L1021.9,530.9L1021.9,528.9L1021.9,526.9L1021.9,524.9L1021.9,522.9L1021.9,520.9L1021.9,518.9L1021.9,516.9L1021.9,514.9L1021.9,512.9L1021.9,510.9L1021.9,508.9L1021.9,506.9L1021.9,504.9L1021.9,502.9L1021.9,500.9L1021.9,498.9L1021.9,496.9L1021.8,494.9L1021.8,492.9L1021.8,490.9L1021.8,488.9L1021.8,486.9L1021.8,484.9L1021.8,482.9L1021.8,480.9L1021.8,478.9L1021.8,476.9L1021.8,474.9L1021.8,472.9L1021.8,470.9L1021.8,468.9L1021.8,466.9L1021.8,464.9L1021.8,462.9L1021.8,460.9L1021.8,458.9L1021.8,456.9L1021.8,454.9L1021.8,452.9L1021.8,450.9L1021.8,448.9L1021.8,446.9L1021.8,444.9L1021.7,442.9L1021.7,440.9L1021.7,438.9L1021.7,436.9L1021.7,434.9L1021.7,432.9L1021.7,430.9L1021.7,428.9L1021.7,426.9L1021.7,424.9L1021.7,422.9L1021.7,420.9L1021.7,418.9L1021.7,416.9L1021.7,414.9L1021.7,412.9L1021.7,410.9L1021.7,408.9L1021.7,406.9L1021.7,404.9L1021.7,402.9L1021.7,400.9L1021.7,398.9L1021.7,396.9L1021.7,394.9L1021.7,392.9Z"/>
<path class="w" d="M1021.5,696.8V777.3"/>
<rect class="b" x="1017.8" y="736.4" width="7.4" height="29.4" rx="0.8"/>
<circle class="m" cx="1021.5" cy="752.2" r="6.3"/>
</g>
<g>
<path class="g" d="M1109.9,777.3H1449.5"/>
<path class="g" d="M1109.9,591.0H1449.5"/>
<path class="g" d="M1109.9,404.6H1449.5"/>
<path class="g" d="M1109.9,218.3H1449.5"/>
<path class="g" d="M1109.9,32.0H1449.5"/>
<rect class="f" x="1111.8" y="2.3" width="336.2" height="804.5"/>
<text class="t" transform="translate(1279.9,73.3) scale(0.98,1)" x="0" y="0">Invasives</text>
<path class="k" d="M1202.0,806.8V825.8"/>
<text class="xl" transform="translate(1214.0,846.8) rotate(-90)" x="0" y="0">amph</text>
<path class="k" d="M1279.8,806.8V825.8"/>
<text class="xl" transform="translate(1291.8,846.8) rotate(-90)" x="0" y="0">mammal</text>
<path class="k" d="M1357.7,806.8V825.8"/>
<text class="xl" transform="translate(1369.7,846.8) rotate(-90)" x="0" y="0">bird</text>
<path class="v" fill="#9e9ac8" d="M1201.5,58.6L1201.5,60.6L1201.5,62.6L1201.5,64.6L1201.5,66.6L1201.5,68.6L1201.5,70.6L1201.5,72.6L1201.5,74.6L1201.5,76.6L1201.5,78.6L1201.5,80.6L1201.5,82.6L1201.5,84.6L1201.4,86.6L1201.4,88.6L1201.4,90.6L1201.4,92.6L1201.4,94.6L1201.4,96.6L1201.4,98.6L1201.4,100.6L1201.4,102.6L1201.4,104.6L1201.4,106.6L1201.4,108.6L1201.4,110.6L1201.4,112.6L1201.4,114.6L1201.4,116.6L1201.3,118.6L1201.3,120.6L1201.3,122.6L1201.3,124.6L1201.3,126.6L1201.3,128.6L1201.3,130.6L1201.3,132.6L1201.3,134.6L1201.3,136.6L1201.3,138.6L1201.3,140.6L1201.3,142.6L1201.3,144.6L1201.3,146.6L1201.3,148.6L1201.2,150.6L1201.2,152.6L1201.2,154.6L1201.2,156.6L1201.2,158.6L1201.2,160.6L1201.2,162.6L1201.2,164.6L1201.2,166.6L1201.2,168.6L1201.2,170.6L1201.2,172.6L1201.2,174.6L1201.2,176.6L1201.1,178.6L1201.1,180.6L1201.1,182.6L1201.1,184.6L1201.1,186.6L1201.1,188.6L1201.1,190.6L1201.1,192.6L1201.1,194.6L1201.1,196.6L1201.0,198.6L1201.0,200.6L1201.0,202.6L1201.0,204.6L1201.0,206.6L1201.0,208.6L1201.0,210.6L1201.0,212.6L1201.0,214.6L1200.9,216.6L1200.9,218.6L1200.9,220.6L1200.9,222.6L1200.9,224.6L1200.9,226.6L1200.9,228.6L1200.8,230.6L1200.8,232.6L1200.8,234.6L1200.8,236.6L1200.8,238.6L1200.8,240.6L1200.8,242.6L1200.7,244.6L1200.7,246.6L1200.7,248.6L1200.7,250.6L1200.7,252.6L1200.7,254.6L1200.6,256.6L1200.6,258.6L1200.6,260.6L1200.6,262.6L1200.6,264.6L1200.6,266.6L1200.6,268.6L1200.5,270.6L1200.5,272.6L1200.5,274.6L1200.5,276.6L1200.5,278.6L1200.4,280.6L1200.4,282.6L1200.4,284.6L1200.4,286.6L1200.4,288.6L1200.4,290.6L1200.3,292.6L1200.3,294.6L1200.3,296.6L1200.3,298.6L1200.2,300.6L1200.2,302.6L1200.2,304.6L1200.2,306.6L1200.2,308.6L1200.1,310.6L1200.1,312.6L1200.1,314.6L1200.1,316.6L1200.1,318.6L1200.0,320.6L1200.0,322.6L1200.0,324.6L1200.0,326.6L1200.0,328.6L1199.9,330.6L1199.9,332.6L1199.9,334.6L1199.9,336.6L1199.9,338.6L1199.8,340.6L1199.8,342.6L1199.8,344.6L1199.8,346.6L1199.8,348.6L1199.7,350.6L1199.7,352.6L1199.7,354.6L1199.7,356.6L1199.7,358.6L1199.6,360.6L1199.6,362.6L1199.6,364.6L1199.6,366.6L1199.5,368.6L1199.5,370.6L1199.5,372.6L1199.5,374.6L1199.5,376.6L1199.4,378.6L1199.4,380.6L1199.4,382.6L1199.4,384.6L1199.4,386.6L1199.4,388.6L1199.3,390.6L1199.3,392.6L1199.3,394.6L1199.3,396.6L1199.3,398.6L1199.3,400.6L1199.3,402.6L1199.2,404.6L1199.2,406.6L1199.2,408.6L1199.2,410.6L1199.2,412.6L1199.2,414.6L1199.2,416.6L1199.2,418.6L1199.2,420.6L1199.2,422.6L1199.2,424.6L1199.1,426.6L1199.1,428.6L1199.1,430.6L1199.1,432.6L1199.1,434.6L1199.1,436.6L1199.1,438.6L1199.1,440.6L1199.1,442.6L1199.1,444.6L1199.1,446.6L1199.0,448.6L1199.0,450.6L1199.0,452.6L1199.0,454.6L1199.0,456.6L1199.0,458.6L1199.0,460.6L1198.9,462.6L1198.9,464.6L1198.9,466.6L1198.9,468.6L1198.9,470.6L1198.8,472.6L1198.8,474.6L1198.8,476.6L1198.8,478.6L1198.7,480.6L1198.7,482.6L1198.6,484.6L1198.6,486.6L1198.5,488.6L1198.5,490.6L1198.4,492.6L1198.4,494.6L1198.3,496.6L1198.2,498.6L1198.1,500.6L1198.0,502.6L1198.0,504.6L1197.9,506.6L1197.8,508.6L1197.7,510.6L1197.6,512.6L1197.5,514.6L1197.4,516.6L1197.3,518.6L1197.2,520.6L1197.1,522.6L1196.9,524.6L1196.8,526.6L1196.7,528.6L1196.5,530.6L1196.4,532.6L1196.2,534.6L1196.0,536.6L1195.9,538.6L1195.7,540.6L1195.5,542.6L1195.4,544.6L1195.2,546.6L1195.1,548.6L1194.9,550.6L1194.7,552.6L1194.6,554.6L1194.4,556.6L1194.3,558.6L1194.1,560.6L1193.9,562.6L1193.8,564.6L1193.6,566.6L1193.4,568.6L1193.3,570.6L1193.1,572.6L1192.9,574.6L1192.7,576.6L1192.5,578.6L1192.3,580.6L1192.1,582.6L1191.9,584.6L1191.7,586.6L1191.5,588.6L1191.2,590.6L1191.0,592.6L1190.8,594.6L1190.5,596.6L1190.3,598.6L1190.0,600.6L1189.8,602.6L1189.6,604.6L1189.3,606.6L1189.1,608.6L1188.8,610.6L1188.6,612.6L1188.3,614.6L1188.1,616.6L1187.8,618.6L1187.6,620.6L1187.3,622.6L1187.1,624.6L1186.8,626.6L1186.6,628.6L1186.3,630.6L1186.0,632.6L1185.7,634.6L1185.5,636.6L1185.2,638.6L1184.9,640.6L1184.6,642.6L1184.3,644.6L1184.0,646.6L1183.7,648.6L1183.4,650.6L1183.2,652.6L1182.9,654.6L1182.6,656.6L1182.3,658.6L1182.0,660.6L1181.7,662.6L1181.4,664.6L1181.1,666.6L1180.8,668.6L1180.5,670.6L1180.2,672.6L1179.9,674.6L1179.6,676.6L1179.3,678.6L1178.9,680.6L1178.6,682.6L1178.3,684.6L1178.0,686.6L1177.7,688.6L1177.3,690.6L1177.0,692.6L1176.7,694.6L1176.3,696.6L1176.0,698.6L1175.7,700.6L1175.4,702.6L1175.1,704.6L1174.8,706.6L1174.5,708.6L1174.2,710.6L1174.0,712.6L1173.7,714.6L1173.5,716.6L1173.3,718.6L1173.1,720.6L1172.9,722.6L1172.7,724.6L1172.5,726.6L1172.3,728.6L1172.2,730.6L1172.1,732.6L1171.9,734.6L1171.8,736.6L1171.7,738.6L1171.6,740.6L1171.5,742.6L1171.4,744.6L1171.3,746.6L1171.2,748.6L1171.2,750.6L1171.2,752.6L1171.2,754.6L1171.2,756.6L1171.1,758.6L1171.2,760.6L1171.2,762.6L1171.2,764.6L1171.3,766.6L1171.3,768.6L1171.4,770.6L1171.6,772.6L1171.7,774.6L1171.9,776.6L1172.0,777.3L1232.1,777.3L1232.2,776.6L1232.4,774.6L1232.5,772.6L1232.6,770.6L1232.7,768.6L1232.8,766.6L1232.9,764.6L1232.9,762.6L1232.9,760.6L1232.9,758.6L1232.9,756.6L1232.9,754.6L1232.9,752.6L1232.9,750.6L1232.8,748.6L1232.8,746.6L1232.7,744.6L1232.6,742.6L1232.5,740.6L1232.4,738.6L1232.3,736.6L1232.2,734.6L1232.0,732.6L1231.9,730.6L1231.7,728.6L1231.6,726.6L1231.4,724.6L1231.2,722.6L1231.0,720.6L1230.8,718.6L1230.6,716.6L1230.3,714.6L1230.1,712.6L1229.9,710.6L1229.6,708.6L1229.3,706.6L1229.0,704.6L1228.7,702.6L1228.4,700.6L1228.1,698.6L1227.7,696.6L1227.4,694.6L1227.1,692.6L1226.8,690.6L1226.4,688.6L1226.1,686.6L1225.8,684.6L1225.5,682.6L1225.1,680.6L1224.8,678.6L1224.5,676.6L1224.2,674.6L1223.9,672.6L1223.6,670.6L1223.3,668.6L1223.0,666.6L1222.7,664.6L1222.4,662.6L1222.1,660.6L1221.8,658.6L1221.5,656.6L1221.2,654.6L1220.9,652.6L1220.6,650.6L1220.3,648.6L1220.0,646.6L1219.8,644.6L1219.5,642.6L1219.2,640.6L1218.9,638.6L1218.6,636.6L1218.3,634.6L1218.1,632.6L1217.8,630.6L1217.5,628.6L1217.3,626.6L1217.0,624.6L1216.8,622.6L1216.5,620.6L1216.3,618.6L1216.0,616.6L1215.8,614.6L1215.5,612.6L1215.3,610.6L1215.0,608.6L1214.8,606.6L1214.5,604.6L1214.3,602.6L1214.0,600.6L1213.8,598.6L1213.5,596.6L1213.3,594.6L1213.1,592.6L1212.8,590.6L1212.6,588.6L1212.4,586.6L1212.2,584.6L1212.0,582.6L1211.8,580.6L1211.6,578.6L1211.4,576.6L1211.2,574.6L1211.0,572.6L1210.8,570.6L1210.6,568.6L1210.5,566.6L1210.3,564.6L1210.1,562.6L1210.0,560.6L1209.8,558.6L1209.7,556.6L1209.5,554.6L1209.3,552.6L1209.2,550.6L1209.0,548.6L1208.9,546.6L1208.7,544.6L1208.5,542.6L1208.4,540.6L1208.2,538.6L1208.1,536.6L1207.9,534.6L1207.7,532.6L1207.6,530.6L1207.4,528.6L1207.3,526.6L1207.2,524.6L1207.0,522.6L1206.9,520.6L1206.8,518.6L1206.7,516.6L1206.6,514.6L1206.5,512.6L1206.4,510.6L1206.3,508.6L1206.2,506.6L1206.1,504.6L1206.0,502.6L1205.9,500.6L1205.9,498.6L1205.8,496.6L1205.7,494.6L1205.7,492.6L1205.6,490.6L1205.5,488.6L1205.5,486.6L1205.4,484.6L1205.4,482.6L1205.4,480.6L1205.3,478.6L1205.3,476.6L1205.3,474.6L1205.2,472.6L1205.2,470.6L1205.2,468.6L1205.2,466.6L1205.2,464.6L1205.1,462.6L1205.1,460.6L1205.1,458.6L1205.1,456.6L1205.1,454.6L1205.1,452.6L1205.0,450.6L1205.0,448.6L1205.0,446.6L1205.0,444.6L1205.0,442.6L1205.0,440.6L1205.0,438.6L1205.0,436.6L1205.0,434.6L1205.0,432.6L1204.9,430.6L1204.9,428.6L1204.9,426.6L1204.9,424.6L1204.9,422.6L1204.9,420.6L1204.9,418.6L1204.9,416.6L1204.9,414.6L1204.9,412.6L1204.9,410.6L1204.9,408.6L1204.8,406.6L1204.8,404.6L1204.8,402.6L1204.8,400.6L1204.8,398.6L1204.8,396.6L1204.8,394.6L1204.8,392.6L1204.7,390.6L1204.7,388.6L1204.7,386.6L1204.7,384.6L1204.7,382.6L1204.7,380.6L1204.6,378.6L1204.6,376.6L1204.6,374.6L1204.6,372.6L1204.6,370.6L1204.5,368.6L1204.5,366.6L1204.5,364.6L1204.5,362.6L1204.4,360.6L1204.4,358.6L1204.4,356.6L1204.4,354.6L1204.4,352.6L1204.3,350.6L1204.3,348.6L1204.3,346.6L1204.3,344.6L1204.3,342.6L1204.2,340.6L1204.2,338.6L1204.2,336.6L1204.2,334.6L1204.2,332.6L1204.1,330.6L1204.1,328.6L1204.1,326.6L1204.1,324.6L1204.1,322.6L1204.0,320.6L1204.0,318.6L1204.0,316.6L1204.0,314.6L1204.0,312.6L1203.9,310.6L1203.9,308.6L1203.9,306.6L1203.9,304.6L1203.9,302.6L1203.8,300.6L1203.8,298.6L1203.8,296.6L1203.8,294.6L1203.7,292.6L1203.7,290.6L1203.7,288.6L1203.7,286.6L1203.7,284.6L1203.7,282.6L1203.6,280.6L1203.6,278.6L1203.6,276.6L1203.6,274.6L1203.6,272.6L1203.5,270.6L1203.5,268.6L1203.5,266.6L1203.5,264.6L1203.5,262.6L1203.5,260.6L1203.4,258.6L1203.4,256.6L1203.4,254.6L1203.4,252.6L1203.4,250.6L1203.4,248.6L1203.4,246.6L1203.3,244.6L1203.3,242.6L1203.3,240.6L1203.3,238.6L1203.3,236.6L1203.3,234.6L1203.3,232.6L1203.2,230.6L1203.2,228.6L1203.2,226.6L1203.2,224.6L1203.2,222.6L1203.2,220.6L1203.2,218.6L1203.1,216.6L1203.1,214.6L1203.1,212.6L1203.1,210.6L1203.1,208.6L1203.1,206.6L1203.1,204.6L1203.1,202.6L1203.0,200.6L1203.0,198.6L1203.0,196.6L1203.0,194.6L1203.0,192.6L1203.0,190.6L1203.0,188.6L1203.0,186.6L1203.0,184.6L1203.0,182.6L1202.9,180.6L1202.9,178.6L1202.9,176.6L1202.9,174.6L1202.9,172.6L1202.9,170.6L1202.9,168.6L1202.9,166.6L1202.9,164.6L1202.9,162.6L1202.9,160.6L1202.9,158.6L1202.9,156.6L1202.8,154.6L1202.8,152.6L1202.8,150.6L1202.8,148.6L1202.8,146.6L1202.8,144.6L1202.8,142.6L1202.8,140.6L1202.8,138.6L1202.8,136.6L1202.8,134.6L1202.8,132.6L1202.8,130.6L1202.8,128.6L1202.8,126.6L1202.8,124.6L1202.7,122.6L1202.7,120.6L1202.7,118.6L1202.7,116.6L1202.7,114.6L1202.7,112.6L1202.7,110.6L1202.7,108.6L1202.7,106.6L1202.7,104.6L1202.7,102.6L1202.7,100.6L1202.7,98.6L1202.7,96.6L1202.7,94.6L1202.7,92.6L1202.6,90.6L1202.6,88.6L1202.6,86.6L1202.6,84.6L1202.6,82.6L1202.6,80.6L1202.6,78.6L1202.6,76.6L1202.6,74.6L1202.6,72.6L1202.6,70.6L1202.6,68.6L1202.6,66.6L1202.6,64.6L1202.6,62.6L1202.5,60.6L1202.5,58.6Z"/>
<path class="w" d="M1202.0,601.0V777.3"/>
<rect class="b" x="1198.3" y="705.0" width="7.4" height="71.0" rx="0.8"/>
<circle class="m" cx="1202.0" cy="769.5" r="6.3"/>
<path class="v" fill="#9e9ac8" d="M1279.6,208.4L1279.6,210.4L1279.6,212.4L1279.6,214.4L1279.6,216.4L1279.6,218.4L1279.6,220.4L1279.6,222.4L1279.6,224.4L1279.6,226.4L1279.6,228.4L1279.6,230.4L1279.6,232.4L1279.6,234.4L1279.6,236.4L1279.6,238.4L1279.6,240.4L1279.6,242.4L1279.6,244.4L1279.6,246.4L1279.6,248.4L1279.6,250.4L1279.6,252.4L1279.6,254.4L1279.6,256.4L1279.6,258.4L1279.6,260.4L1279.6,262.4L1279.6,264.4L1279.6,266.4L1279.6,268.4L1279.6,270.4L1279.6,272.4L1279.6,274.4L1279.6,276.4L1279.6,278.4L1279.6,280.4L1279.6,282.4L1279.6,284.4L1279.6,286.4L1279.6,288.4L1279.6,290.4L1279.6,292.4L1279.6,294.4L1279.6,296.4L1279.6,298.4L1279.6,300.4L1279.6,302.4L1279.6,304.4L1279.6,306.4L1279.6,308.4L1279.6,310.4L1279.6,312.4L1279.6,314.4L1279.6,316.4L1279.6,318.4L1279.6,320.4L1279.6,322.4L1279.6,324.4L1279.6,326.4L1279.6,328.4L1279.6,330.4L1279.6,332.4L1279.5,334.4L1279.5,336.4L1279.5,338.4L1279.5,340.4L1279.5,342.4L1279.5,344.4L1279.5,346.4L1279.5,348.4L1279.5,350.4L1279.5,352.4L1279.5,354.4L1279.5,356.4L1279.5,358.4L1279.5,360.4L1279.5,362.4L1279.5,364.4L1279.5,366.4L1279.5,368.4L1279.5,370.4L1279.5,372.4L1279.5,374.4L1279.5,376.4L1279.5,378.4L1279.5,380.4L1279.5,382.4L1279.5,384.4L1279.5,386.4L1279.5,388.4L1279.5,390.4L1279.5,392.4L1279.5,394.4L1279.4,396.4L1279.4,398.4L1279.4,400.4L1279.4,402.4L1279.4,404.4L1279.4,406.4L1279.4,408.4L1279.4,410.4L1279.4,412.4L1279.4,414.4L1279.4,416.4L1279.4,418.4L1279.4,420.4L1279.4,422.4L1279.4,424.4L1279.4,426.4L1279.3,428.4L1279.3,430.4L1279.3,432.4L1279.3,434.4L1279.3,436.4L1279.3,438.4L1279.3,440.4L1279.3,442.4L1279.3,444.4L1279.3,446.4L1279.2,448.4L1279.2,450.4L1279.2,452.4L1279.2,454.4L1279.2,456.4L1279.2,458.4L1279.2,460.4L1279.2,462.4L1279.1,464.4L1279.1,466.4L1279.1,468.4L1279.1,470.4L1279.1,472.4L1279.1,474.4L1279.1,476.4L1279.1,478.4L1279.0,480.4L1279.0,482.4L1279.0,484.4L1279.0,486.4L1279.0,488.4L1279.0,490.4L1278.9,492.4L1278.9,494.4L1278.9,496.4L1278.9,498.4L1278.9,500.4L1278.8,502.4L1278.8,504.4L1278.8,506.4L1278.8,508.4L1278.7,510.4L1278.7,512.4L1278.7,514.4L1278.7,516.4L1278.6,518.4L1278.6,520.4L1278.5,522.4L1278.5,524.4L1278.4,526.4L1278.4,528.4L1278.3,530.4L1278.2,532.4L1278.1,534.4L1278.0,536.4L1277.9,538.4L1277.8,540.4L1277.7,542.4L1277.5,544.4L1277.4,546.4L1277.3,548.4L1277.1,550.4L1277.0,552.4L1276.8,554.4L1276.7,556.4L1276.5,558.4L1276.3,560.4L1276.1,562.4L1275.9,564.4L1275.7,566.4L1275.5,568.4L1275.3,570.4L1275.1,572.4L1274.8,574.4L1274.6,576.4L1274.4,578.4L1274.1,580.4L1273.9,582.4L1273.6,584.4L1273.3,586.4L1273.1,588.4L1272.8,590.4L1272.5,592.4L1272.2,594.4L1271.9,596.4L1271.6,598.4L1271.3,600.4L1271.0,602.4L1270.7,604.4L1270.3,606.4L1270.0,608.4L1269.7,610.4L1269.3,612.4L1268.9,614.4L1268.5,616.4L1268.2,618.4L1267.8,620.4L1267.4,622.4L1267.0,624.4L1266.6,626.4L1266.2,628.4L1265.8,630.4L1265.4,632.4L1265.0,634.4L1264.6,636.4L1264.2,638.4L1263.8,640.4L1263.4,642.4L1263.0,644.4L1262.6,646.4L1262.2,648.4L1261.8,650.4L1261.4,652.4L1261.0,654.4L1260.6,656.4L1260.2,658.4L1259.8,660.4L1259.3,662.4L1258.9,664.4L1258.5,666.4L1258.1,668.4L1257.7,670.4L1257.2,672.4L1256.8,674.4L1256.4,676.4L1255.9,678.4L1255.5,680.4L1255.1,682.4L1254.6,684.4L1254.2,686.4L1253.8,688.4L1253.3,690.4L1252.9,692.4L1252.5,694.4L1252.1,696.4L1251.7,698.4L1251.3,700.4L1250.9,702.4L1250.6,704.4L1250.3,706.4L1250.1,708.4L1249.9,710.4L1249.7,712.4L1249.6,714.4L1249.4,716.4L1249.3,718.4L1249.2,720.4L1249.2,722.4L1249.1,724.4L1249.0,726.4L1249.0,728.4L1249.0,730.4L1249.0,732.4L1249.0,734.4L1249.1,736.4L1249.1,738.4L1249.2,740.4L1249.3,742.4L1249.4,744.4L1249.5,746.4L1249.7,748.4L1249.8,750.4L1250.0,752.4L1250.2,754.4L1250.4,756.4L1250.6,758.4L1250.8,760.4L1251.1,762.4L1251.4,764.4L1251.7,766.4L1252.1,768.4L1252.4,770.4L1252.8,772.4L1253.2,774.4L1253.6,776.4L1253.8,777.3L1305.9,777.3L1306.1,776.4L1306.5,774.4L1306.9,772.4L1307.3,770.4L1307.6,768.4L1308.0,766.4L1308.3,764.4L1308.6,762.4L1308.9,760.4L1309.1,758.4L1309.3,756.4L1309.5,754.4L1309.7,752.4L1309.9,750.4L1310.0,748.4L1310.1,746.4L1310.3,744.4L1310.4,742.4L1310.5,740.4L1310.5,738.4L1310.6,736.4L1310.6,734.4L1310.7,732.4L1310.7,730.4L1310.7,728.4L1310.6,726.4L1310.6,724.4L1310.5,722.4L1310.4,720.4L1310.4,718.4L1310.2,716.4L1310.1,714.4L1310.0,712.4L1309.8,710.4L1309.6,708.4L1309.4,706.4L1309.1,704.4L1308.8,702.4L1308.4,700.4L1308.0,698.4L1307.6,696.4L1307.2,694.4L1306.8,692.4L1306.3,690.4L1305.9,688.4L1305.5,686.4L1305.0,684.4L1304.6,682.4L1304.2,680.4L1303.7,678.4L1303.3,676.4L1302.9,674.4L1302.4,672.4L1302.0,670.4L1301.6,668.4L1301.2,666.4L1300.8,664.4L1300.3,662.4L1299.9,660.4L1299.5,658.4L1299.1,656.4L1298.7,654.4L1298.3,652.4L1297.9,650.4L1297.5,648.4L1297.1,646.4L1296.7,644.4L1296.3,642.4L1295.9,640.4L1295.5,638.4L1295.1,636.4L1294.7,634.4L1294.3,632.4L1293.9,630.4L1293.5,628.4L1293.1,626.4L1292.7,624.4L1292.3,622.4L1291.9,620.4L1291.5,618.4L1291.1,616.4L1290.8,614.4L1290.4,612.4L1290.0,610.4L1289.7,608.4L1289.3,606.4L1289.0,604.4L1288.7,602.4L1288.4,600.4L1288.1,598.4L1287.8,596.4L1287.5,594.4L1287.2,592.4L1286.9,590.4L1286.6,588.4L1286.3,586.4L1286.1,584.4L1285.8,582.4L1285.6,580.4L1285.3,578.4L1285.1,576.4L1284.8,574.4L1284.6,572.4L1284.4,570.4L1284.2,568.4L1284.0,566.4L1283.8,564.4L1283.6,562.4L1283.4,560.4L1283.2,558.4L1283.0,556.4L1282.9,554.4L1282.7,552.4L1282.5,550.4L1282.4,548.4L1282.3,546.4L1282.1,544.4L1282.0,542.4L1281.9,540.4L1281.8,538.4L1281.7,536.4L1281.6,534.4L1281.5,532.4L1281.4,530.4L1281.3,528.4L1281.3,526.4L1281.2,524.4L1281.1,522.4L1281.1,520.4L1281.1,518.4L1281.0,516.4L1281.0,514.4L1281.0,512.4L1280.9,510.4L1280.9,508.4L1280.9,506.4L1280.9,504.4L1280.8,502.4L1280.8,500.4L1280.8,498.4L1280.8,496.4L1280.8,494.4L1280.7,492.4L1280.7,490.4L1280.7,488.4L1280.7,486.4L1280.7,484.4L1280.7,482.4L1280.6,480.4L1280.6,478.4L1280.6,476.4L1280.6,474.4L1280.6,472.4L1280.6,470.4L1280.6,468.4L1280.5,466.4L1280.5,464.4L1280.5,462.4L1280.5,460.4L1280.5,458.4L1280.5,456.4L1280.5,454.4L1280.5,452.4L1280.4,450.4L1280.4,448.4L1280.4,446.4L1280.4,444.4L1280.4,442.4L1280.4,440.4L1280.4,438.4L1280.4,436.4L1280.4,434.4L1280.3,432.4L1280.3,430.4L1280.3,428.4L1280.3,426.4L1280.3,424.4L1280.3,422.4L1280.3,420.4L1280.3,418.4L1280.3,416.4L1280.3,414.4L1280.3,412.4L1280.3,410.4L1280.3,408.4L1280.3,406.4L1280.3,404.4L1280.2,402.4L1280.2,400.4L1280.2,398.4L1280.2,396.4L1280.2,394.4L1280.2,392.4L1280.2,390.4L1280.2,388.4L1280.2,386.4L1280.2,384.4L1280.2,382.4L1280.2,380.4L1280.2,378.4L1280.2,376.4L1280.2,374.4L1280.2,372.4L1280.2,370.4L1280.2,368.4L1280.2,366.4L1280.2,364.4L1280.2,362.4L1280.2,360.4L1280.2,358.4L1280.2,356.4L1280.2,354.4L1280.2,352.4L1280.2,350.4L1280.2,348.4L1280.1,346.4L1280.1,344.4L1280.1,342.4L1280.1,340.4L1280.1,338.4L1280.1,336.4L1280.1,334.4L1280.1,332.4L1280.1,330.4L1280.1,328.4L1280.1,326.4L1280.1,324.4L1280.1,322.4L1280.1,320.4L1280.1,318.4L1280.1,316.4L1280.1,314.4L1280.1,312.4L1280.1,310.4L1280.1,308.4L1280.1,306.4L1280.1,304.4L1280.1,302.4L1280.1,300.4L1280.1,298.4L1280.1,296.4L1280.1,294.4L1280.1,292.4L1280.1,290.4L1280.1,288.4L1280.1,286.4L1280.1,284.4L1280.1,282.4L1280.1,280.4L1280.1,278.4L1280.1,276.4L1280.1,274.4L1280.1,272.4L1280.1,270.4L1280.1,268.4L1280.1,266.4L1280.1,264.4L1280.1,262.4L1280.1,260.4L1280.1,258.4L1280.1,256.4L1280.1,254.4L1280.1,252.4L1280.1,250.4L1280.1,248.4L1280.0,246.4L1280.0,244.4L1280.0,242.4L1280.0,240.4L1280.0,238.4L1280.0,236.4L1280.0,234.4L1280.0,232.4L1280.0,230.4L1280.0,228.4L1280.0,226.4L1280.0,224.4L1280.0,222.4L1280.0,220.4L1280.0,218.4L1280.0,216.4L1280.0,214.4L1280.0,212.4L1280.0,210.4L1280.0,208.4Z"/>
<path class="w" d="M1279.8,642.4V777.3"/>
<rect class="b" x="1276.1" y="709.3" width="7.4" height="48.4" rx="0.8"/>
<circle class="m" cx="1279.8" cy="736.9" r="6.3"/>
<path class="v" fill="#9e9ac8" d="M1357.5,205.6L1357.5,207.6L1357.5,209.6L1357.5,211.6L1357.5,213.6L1357.5,215.6L1357.5,217.6L1357.5,219.6L1357.5,221.6L1357.5,223.6L1357.5,225.6L1357.5,227.6L1357.5,229.6L1357.5,231.6L1357.5,233.6L1357.5,235.6L1357.5,237.6L1357.5,239.6L1357.5,241.6L1357.5,243.6L1357.5,245.6L1357.5,247.6L1357.5,249.6L1357.5,251.6L1357.5,253.6L1357.5,255.6L1357.5,257.6L1357.5,259.6L1357.5,261.6L1357.5,263.6L1357.5,265.6L1357.5,267.6L1357.5,269.6L1357.5,271.6L1357.5,273.6L1357.5,275.6L1357.5,277.6L1357.5,279.6L1357.5,281.6L1357.5,283.6L1357.5,285.6L1357.5,287.6L1357.5,289.6L1357.5,291.6L1357.5,293.6L1357.5,295.6L1357.5,297.6L1357.5,299.6L1357.5,301.6L1357.5,303.6L1357.5,305.6L1357.5,307.6L1357.5,309.6L1357.5,311.6L1357.5,313.6L1357.5,315.6L1357.5,317.6L1357.5,319.6L1357.5,321.6L1357.5,323.6L1357.5,325.6L1357.5,327.6L1357.5,329.6L1357.5,331.6L1357.5,333.6L1357.5,335.6L1357.5,337.6L1357.5,339.6L1357.5,341.6L1357.5,343.6L1357.5,345.6L1357.5,347.6L1357.5,349.6L1357.5,351.6L1357.5,353.6L1357.5,355.6L1357.5,357.6L1357.5,359.6L1357.5,361.6L1357.5,363.6L1357.5,365.6L1357.4,367.6L1357.4,369.6L1357.4,371.6L1357.4,373.6L1357.4,375.6L1357.4,377.6L1357.4,379.6L1357.4,381.6L1357.4,383.6L1357.4,385.6L1357.4,387.6L1357.4,389.6L1357.4,391.6L1357.4,393.6L1357.4,395.6L1357.4,397.6L1357.4,399.6L1357.4,401.6L1357.4,403.6L1357.4,405.6L1357.4,407.6L1357.4,409.6L1357.4,411.6L1357.4,413.6L1357.4,415.6L1357.4,417.6L1357.4,419.6L1357.4,421.6L1357.4,423.6L1357.4,425.6L1357.4,427.6L1357.4,429.6L1357.4,431.6L1357.4,433.6L1357.4,435.6L1357.4,437.6L1357.4,439.6L1357.4,441.6L1357.3,443.6L1357.3,445.6L1357.3,447.6L1357.3,449.6L1357.3,451.6L1357.3,453.6L1357.3,455.6L1357.3,457.6L1357.3,459.6L1357.3,461.6L1357.3,463.6L1357.3,465.6L1357.3,467.6L1357.3,469.6L1357.3,471.6L1357.3,473.6L1357.3,475.6L1357.3,477.6L1357.3,479.6L1357.2,481.6L1357.2,483.6L1357.2,485.6L1357.2,487.6L1357.2,489.6L1357.2,491.6L1357.2,493.6L1357.2,495.6L1357.2,497.6L1357.2,499.6L1357.1,501.6L1357.1,503.6L1357.1,505.6L1357.1,507.6L1357.1,509.6L1357.1,511.6L1357.1,513.6L1357.1,515.6L1357.1,517.6L1357.0,519.6L1357.0,521.6L1357.0,523.6L1357.0,525.6L1357.0,527.6L1357.0,529.6L1357.0,531.6L1356.9,533.6L1356.9,535.6L1356.9,537.6L1356.9,539.6L1356.9,541.6L1356.8,543.6L1356.8,545.6L1356.8,547.6L1356.8,549.6L1356.7,551.6L1356.7,553.6L1356.6,555.6L1356.6,557.6L1356.5,559.6L1356.5,561.6L1356.4,563.6L1356.3,565.6L1356.3,567.6L1356.2,569.6L1356.1,571.6L1355.9,573.6L1355.8,575.6L1355.7,577.6L1355.5,579.6L1355.4,581.6L1355.2,583.6L1355.0,585.6L1354.8,587.6L1354.7,589.6L1354.4,591.6L1354.2,593.6L1354.0,595.6L1353.8,597.6L1353.5,599.6L1353.2,601.6L1353.0,603.6L1352.7,605.6L1352.4,607.6L1352.1,609.6L1351.8,611.6L1351.5,613.6L1351.2,615.6L1350.8,617.6L1350.5,619.6L1350.1,621.6L1349.7,623.6L1349.4,625.6L1349.0,627.6L1348.6,629.6L1348.2,631.6L1347.8,633.6L1347.4,635.6L1347.0,637.6L1346.5,639.6L1346.1,641.6L1345.6,643.6L1345.2,645.6L1344.7,647.6L1344.3,649.6L1343.8,651.6L1343.3,653.6L1342.8,655.6L1342.4,657.6L1341.9,659.6L1341.4,661.6L1340.9,663.6L1340.4,665.6L1340.0,667.6L1339.5,669.6L1339.0,671.6L1338.5,673.6L1338.1,675.6L1337.6,677.6L1337.1,679.6L1336.7,681.6L1336.2,683.6L1335.7,685.6L1335.3,687.6L1334.8,689.6L1334.3,691.6L1333.7,693.6L1333.2,695.6L1332.7,697.6L1332.1,699.6L1331.6,701.6L1331.1,703.6L1330.6,705.6L1330.2,707.6L1329.8,709.6L1329.5,711.6L1329.2,713.6L1328.9,715.6L1328.6,717.6L1328.4,719.6L1328.2,721.6L1328.0,723.6L1327.8,725.6L1327.6,727.6L1327.5,729.6L1327.4,731.6L1327.3,733.6L1327.2,735.6L1327.1,737.6L1327.1,739.6L1327.0,741.6L1327.0,743.6L1327.1,745.6L1327.1,747.6L1327.2,749.6L1327.3,751.6L1327.5,753.6L1327.6,755.6L1327.8,757.6L1327.9,759.6L1328.1,761.6L1328.4,763.6L1328.6,765.6L1328.8,767.6L1329.1,769.6L1329.4,771.6L1329.7,773.6L1330.0,775.6L1330.3,777.3L1385.2,777.3L1385.5,775.6L1385.8,773.6L1386.1,771.6L1386.4,769.6L1386.6,767.6L1386.9,765.6L1387.1,763.6L1387.3,761.6L1387.5,759.6L1387.7,757.6L1387.9,755.6L1388.0,753.6L1388.2,751.6L1388.3,749.6L1388.3,747.6L1388.4,745.6L1388.4,743.6L1388.4,741.6L1388.4,739.6L1388.4,737.6L1388.3,735.6L1388.2,733.6L1388.1,731.6L1388.0,729.6L1387.9,727.6L1387.7,725.6L1387.5,723.6L1387.3,721.6L1387.1,719.6L1386.9,717.6L1386.6,715.6L1386.3,713.6L1386.0,711.6L1385.6,709.6L1385.3,707.6L1384.8,705.6L1384.4,703.6L1383.9,701.6L1383.4,699.6L1382.8,697.6L1382.3,695.6L1381.7,693.6L1381.2,691.6L1380.7,689.6L1380.2,687.6L1379.7,685.6L1379.3,683.6L1378.8,681.6L1378.3,679.6L1377.9,677.6L1377.4,675.6L1377.0,673.6L1376.5,671.6L1376.0,669.6L1375.5,667.6L1375.0,665.6L1374.6,663.6L1374.1,661.6L1373.6,659.6L1373.1,657.6L1372.6,655.6L1372.2,653.6L1371.7,651.6L1371.2,649.6L1370.8,647.6L1370.3,645.6L1369.8,643.6L1369.4,641.6L1369.0,639.6L1368.5,637.6L1368.1,635.6L1367.7,633.6L1367.3,631.6L1366.9,629.6L1366.5,627.6L1366.1,625.6L1365.7,623.6L1365.4,621.6L1365.0,619.6L1364.7,617.6L1364.3,615.6L1364.0,613.6L1363.7,611.6L1363.4,609.6L1363.1,607.6L1362.8,605.6L1362.5,603.6L1362.2,601.6L1362.0,599.6L1361.7,597.6L1361.5,595.6L1361.3,593.6L1361.0,591.6L1360.8,589.6L1360.6,587.6L1360.5,585.6L1360.3,583.6L1360.1,581.6L1360.0,579.6L1359.8,577.6L1359.7,575.6L1359.5,573.6L1359.4,571.6L1359.3,569.6L1359.2,567.6L1359.1,565.6L1359.1,563.6L1359.0,561.6L1358.9,559.6L1358.9,557.6L1358.8,555.6L1358.8,553.6L1358.8,551.6L1358.7,549.6L1358.7,547.6L1358.7,545.6L1358.6,543.6L1358.6,541.6L1358.6,539.6L1358.6,537.6L1358.5,535.6L1358.5,533.6L1358.5,531.6L1358.5,529.6L1358.5,527.6L1358.5,525.6L1358.5,523.6L1358.5,521.6L1358.4,519.6L1358.4,517.6L1358.4,515.6L1358.4,513.6L1358.4,511.6L1358.4,509.6L1358.4,507.6L1358.4,505.6L1358.3,503.6L1358.3,501.6L1358.3,499.6L1358.3,497.6L1358.3,495.6L1358.3,493.6L1358.3,491.6L1358.3,489.6L1358.3,487.6L1358.3,485.6L1358.2,483.6L1358.2,481.6L1358.2,479.6L1358.2,477.6L1358.2,475.6L1358.2,473.6L1358.2,471.6L1358.2,469.6L1358.2,467.6L1358.2,465.6L1358.2,463.6L1358.2,461.6L1358.2,459.6L1358.2,457.6L1358.2,455.6L1358.1,453.6L1358.1,451.6L1358.1,449.6L1358.1,447.6L1358.1,445.6L1358.1,443.6L1358.1,441.6L1358.1,439.6L1358.1,437.6L1358.1,435.6L1358.1,433.6L1358.1,431.6L1358.1,429.6L1358.1,427.6L1358.1,425.6L1358.1,423.6L1358.1,421.6L1358.1,419.6L1358.1,417.6L1358.1,415.6L1358.1,413.6L1358.1,411.6L1358.1,409.6L1358.1,407.6L1358.1,405.6L1358.1,403.6L1358.1,401.6L1358.1,399.6L1358.1,397.6L1358.1,395.6L1358.1,393.6L1358.1,391.6L1358.1,389.6L1358.1,387.6L1358.1,385.6L1358.0,383.6L1358.0,381.6L1358.0,379.6L1358.0,377.6L1358.0,375.6L1358.0,373.6L1358.0,371.6L1358.0,369.6L1358.0,367.6L1358.0,365.6L1358.0,363.6L1358.0,361.6L1358.0,359.6L1358.0,357.6L1358.0,355.6L1358.0,353.6L1358.0,351.6L1358.0,349.6L1358.0,347.6L1358.0,345.6L1358.0,343.6L1358.0,341.6L1358.0,339.6L1358.0,337.6L1358.0,335.6L1358.0,333.6L1358.0,331.6L1358.0,329.6L1358.0,327.6L1358.0,325.6L1358.0,323.6L1358.0,321.6L1358.0,319.6L1358.0,317.6L1358.0,315.6L1358.0,313.6L1358.0,311.6L1358.0,309.6L1358.0,307.6L1358.0,305.6L1358.0,303.6L1358.0,301.6L1358.0,299.6L1358.0,297.6L1358.0,295.6L1358.0,293.6L1358.0,291.6L1358.0,289.6L1358.0,287.6L1358.0,285.6L1358.0,283.6L1358.0,281.6L1358.0,279.6L1358.0,277.6L1358.0,275.6L1358.0,273.6L1358.0,271.6L1358.0,269.6L1358.0,267.6L1358.0,265.6L1358.0,263.6L1358.0,261.6L1358.0,259.6L1357.9,257.6L1357.9,255.6L1357.9,253.6L1357.9,251.6L1357.9,249.6L1357.9,247.6L1357.9,245.6L1357.9,243.6L1357.9,241.6L1357.9,239.6L1357.9,237.6L1357.9,235.6L1357.9,233.6L1357.9,231.6L1357.9,229.6L1357.9,227.6L1357.9,225.6L1357.9,223.6L1357.9,221.6L1357.9,219.6L1357.9,217.6L1357.9,215.6L1357.9,213.6L1357.9,211.6L1357.9,209.6L1357.9,207.6L1357.9,205.6Z"/>
<path class="w" d="M1357.7,686.0V777.3"/>
<rect class="b" x="1354.0" y="732.4" width="7.4" height="34.1" rx="0.8"/>
<circle class="m" cx="1357.7" cy="750.7" r="6.3"/>
</g>
<g>
<path class="g" d="M1446.1,777.3H1785.8"/>
<path class="g" d="M1446.1,591.0H1785.8"/>
<path class="g" d="M1446.1,404.6H1785.8"/>
<path class="g" d="M1446.1,218.3H1785.8"/>
<path class="g" d="M1446.1,32.0H1785.8"/>
<rect class="f" x="1448.0" y="2.3" width="336.2" height="804.5"/>
<text class="t" transform="translate(1616.3,73.3) scale(0.995,1)" x="0" y="0">Climate change</text>
<path class="k" d="M1538.3,806.8V825.8"/>
<text class="xl" transform="translate(1550.3,846.8) rotate(-90)" x="0" y="0">amph</text>
<path class="k" d="M1616.1,806.8V825.8"/>
<text class="xl" transform="translate(1628.1,846.8) rotate(-90)" x="0" y="0">mammal</text>
<path class="k" d="M1694.0,806.8V825.8"/>
<text class="xl" transform="translate(1706.0,846.8) rotate(-90)" x="0" y="0">bird</text>
<path class="v" fill="#fd8d3c" d="M1538.1,268.1L1538.1,270.1L1538.1,272.1L1538.1,274.1L1538.1,276.1L1538.1,278.1L1538.1,280.1L1538.1,282.1L1538.1,284.1L1538.1,286.1L1538.1,288.1L1538.1,290.1L1538.1,292.1L1538.1,294.1L1538.1,296.1L1538.1,298.1L1538.1,300.1L1538.1,302.1L1538.1,304.1L1538.1,306.1L1538.1,308.1L1538.1,310.1L1538.1,312.1L1538.1,314.1L1538.1,316.1L1538.1,318.1L1538.1,320.1L1538.1,322.1L1538.1,324.1L1538.1,326.1L1538.1,328.1L1538.1,330.1L1538.1,332.1L1538.1,334.1L1538.1,336.1L1538.1,338.1L1538.1,340.1L1538.1,342.1L1538.1,344.1L1538.1,346.1L1538.1,348.1L1538.1,350.1L1538.1,352.1L1538.1,354.1L1538.1,356.1L1538.1,358.1L1538.1,360.1L1538.1,362.1L1538.1,364.1L1538.1,366.1L1538.1,368.1L1538.1,370.1L1538.1,372.1L1538.1,374.1L1538.0,376.1L1538.0,378.1L1538.0,380.1L1538.0,382.1L1538.0,384.1L1538.0,386.1L1538.0,388.1L1538.0,390.1L1538.0,392.1L1538.0,394.1L1538.0,396.1L1538.0,398.1L1538.0,400.1L1538.0,402.1L1538.0,404.1L1538.0,406.1L1538.0,408.1L1538.0,410.1L1538.0,412.1L1538.0,414.1L1538.0,416.1L1538.0,418.1L1538.0,420.1L1538.0,422.1L1538.0,424.1L1538.0,426.1L1538.0,428.1L1538.0,430.1L1538.0,432.1L1538.0,434.1L1538.0,436.1L1538.0,438.1L1538.0,440.1L1538.0,442.1L1538.0,444.1L1538.0,446.1L1538.0,448.1L1538.0,450.1L1538.0,452.1L1538.0,454.1L1538.0,456.1L1538.0,458.1L1538.0,460.1L1538.0,462.1L1538.0,464.1L1538.0,466.1L1538.0,468.1L1538.0,470.1L1538.0,472.1L1538.0,474.1L1538.0,476.1L1538.0,478.1L1538.0,480.1L1538.0,482.1L1538.0,484.1L1538.0,486.1L1538.0,488.1L1538.0,490.1L1538.0,492.1L1538.0,494.1L1538.0,496.1L1538.0,498.1L1538.0,500.1L1538.0,502.1L1538.0,504.1L1538.0,506.1L1538.0,508.1L1538.0,510.1L1538.0,512.1L1538.0,514.1L1537.9,516.1L1537.9,518.1L1537.9,520.1L1537.9,522.1L1537.9,524.1L1537.9,526.1L1537.9,528.1L1537.9,530.1L1537.9,532.1L1537.9,534.1L1537.9,536.1L1537.9,538.1L1537.9,540.1L1537.9,542.1L1537.9,544.1L1537.9,546.1L1537.8,548.1L1537.8,550.1L1537.8,552.1L1537.8,554.1L1537.8,556.1L1537.8,558.1L1537.8,560.1L1537.8,562.1L1537.8,564.1L1537.7,566.1L1537.7,568.1L1537.7,570.1L1537.7,572.1L1537.7,574.1L1537.7,576.1L1537.7,578.1L1537.6,580.1L1537.6,582.1L1537.6,584.1L1537.6,586.1L1537.5,588.1L1537.5,590.1L1537.5,592.1L1537.4,594.1L1537.4,596.1L1537.3,598.1L1537.2,600.1L1537.1,602.1L1537.1,604.1L1537.0,606.1L1536.9,608.1L1536.9,610.1L1536.8,612.1L1536.8,614.1L1536.7,616.1L1536.7,618.1L1536.6,620.1L1536.6,622.1L1536.5,624.1L1536.4,626.1L1536.3,628.1L1536.3,630.1L1536.1,632.1L1536.0,634.1L1535.8,636.1L1535.7,638.1L1535.5,640.1L1535.2,642.1L1535.0,644.1L1534.7,646.1L1534.5,648.1L1534.2,650.1L1533.9,652.1L1533.6,654.1L1533.4,656.1L1533.0,658.1L1532.7,660.1L1532.4,662.1L1532.1,664.1L1531.7,666.1L1531.3,668.1L1531.0,670.1L1530.6,672.1L1530.2,674.1L1529.8,676.1L1529.3,678.1L1528.9,680.1L1528.4,682.1L1527.9,684.1L1527.4,686.1L1526.9,688.1L1526.3,690.1L1525.8,692.1L1525.2,694.1L1524.5,696.1L1523.9,698.1L1523.2,700.1L1522.5,702.1L1521.9,704.1L1521.2,706.1L1520.5,708.1L1519.9,710.1L1519.3,712.1L1518.6,714.1L1518.0,716.1L1517.4,718.1L1516.8,720.1L1516.2,722.1L1515.7,724.1L1515.1,726.1L1514.6,728.1L1514.0,730.1L1513.5,732.1L1513.0,734.1L1512.5,736.1L1512.1,738.1L1511.6,740.1L1511.2,742.1L1510.7,744.1L1510.3,746.1L1509.9,748.1L1509.5,750.1L1509.2,752.1L1508.9,754.1L1508.6,756.1L1508.3,758.1L1508.0,760.1L1507.8,762.1L1507.7,764.1L1507.6,766.1L1507.6,768.1L1507.5,770.1L1507.5,772.1L1507.5,774.1L1507.6,776.1L1507.6,777.3L1568.9,777.3L1569.0,776.1L1569.0,774.1L1569.0,772.1L1569.0,770.1L1569.0,768.1L1568.9,766.1L1568.8,764.1L1568.7,762.1L1568.5,760.1L1568.3,758.1L1568.0,756.1L1567.7,754.1L1567.3,752.1L1567.0,750.1L1566.6,748.1L1566.2,746.1L1565.8,744.1L1565.4,742.1L1564.9,740.1L1564.5,738.1L1564.0,736.1L1563.5,734.1L1563.0,732.1L1562.5,730.1L1562.0,728.1L1561.4,726.1L1560.9,724.1L1560.3,722.1L1559.7,720.1L1559.1,718.1L1558.5,716.1L1557.9,714.1L1557.3,712.1L1556.7,710.1L1556.0,708.1L1555.4,706.1L1554.7,704.1L1554.0,702.1L1553.3,700.1L1552.7,698.1L1552.0,696.1L1551.4,694.1L1550.8,692.1L1550.2,690.1L1549.6,688.1L1549.1,686.1L1548.6,684.1L1548.1,682.1L1547.7,680.1L1547.2,678.1L1546.8,676.1L1546.4,674.1L1546.0,672.1L1545.6,670.1L1545.2,668.1L1544.8,666.1L1544.5,664.1L1544.1,662.1L1543.8,660.1L1543.5,658.1L1543.2,656.1L1542.9,654.1L1542.6,652.1L1542.3,650.1L1542.1,648.1L1541.8,646.1L1541.5,644.1L1541.3,642.1L1541.1,640.1L1540.9,638.1L1540.7,636.1L1540.5,634.1L1540.4,632.1L1540.3,630.1L1540.2,628.1L1540.1,626.1L1540.0,624.1L1540.0,622.1L1539.9,620.1L1539.9,618.1L1539.8,616.1L1539.8,614.1L1539.7,612.1L1539.7,610.1L1539.6,608.1L1539.5,606.1L1539.5,604.1L1539.4,602.1L1539.3,600.1L1539.3,598.1L1539.2,596.1L1539.1,594.1L1539.1,592.1L1539.0,590.1L1539.0,588.1L1539.0,586.1L1538.9,584.1L1538.9,582.1L1538.9,580.1L1538.9,578.1L1538.9,576.1L1538.9,574.1L1538.8,572.1L1538.8,570.1L1538.8,568.1L1538.8,566.1L1538.8,564.1L1538.8,562.1L1538.8,560.1L1538.7,558.1L1538.7,556.1L1538.7,554.1L1538.7,552.1L1538.7,550.1L1538.7,548.1L1538.7,546.1L1538.7,544.1L1538.7,542.1L1538.7,540.1L1538.7,538.1L1538.6,536.1L1538.6,534.1L1538.6,532.1L1538.6,530.1L1538.6,528.1L1538.6,526.1L1538.6,524.1L1538.6,522.1L1538.6,520.1L1538.6,518.1L1538.6,516.1L1538.6,514.1L1538.6,512.1L1538.6,510.1L1538.6,508.1L1538.6,506.1L1538.6,504.1L1538.6,502.1L1538.6,500.1L1538.6,498.1L1538.6,496.1L1538.6,494.1L1538.6,492.1L1538.6,490.1L1538.6,488.1L1538.6,486.1L1538.6,484.1L1538.6,482.1L1538.6,480.1L1538.6,478.1L1538.5,476.1L1538.5,474.1L1538.5,472.1L1538.5,470.1L1538.5,468.1L1538.5,466.1L1538.5,464.1L1538.5,462.1L1538.5,460.1L1538.5,458.1L1538.5,456.1L1538.5,454.1L1538.5,452.1L1538.5,450.1L1538.5,448.1L1538.5,446.1L1538.5,444.1L1538.5,442.1L1538.5,440.1L1538.5,438.1L1538.5,436.1L1538.5,434.1L1538.5,432.1L1538.5,430.1L1538.5,428.1L1538.5,426.1L1538.5,424.1L1538.5,422.1L1538.5,420.1L1538.5,418.1L1538.5,416.1L1538.5,414.1L1538.5,412.1L1538.5,410.1L1538.5,408.1L1538.5,406.1L1538.5,404.1L1538.5,402.1L1538.5,400.1L1538.5,398.1L1538.5,396.1L1538.5,394.1L1538.5,392.1L1538.5,390.1L1538.5,388.1L1538.5,386.1L1538.5,384.1L1538.5,382.1L1538.5,380.1L1538.5,378.1L1538.5,376.1L1538.5,374.1L1538.5,372.1L1538.5,370.1L1538.5,368.1L1538.5,366.1L1538.5,364.1L1538.5,362.1L1538.5,360.1L1538.5,358.1L1538.5,356.1L1538.5,354.1L1538.5,352.1L1538.5,350.1L1538.5,348.1L1538.5,346.1L1538.5,344.1L1538.5,342.1L1538.5,340.1L1538.5,338.1L1538.5,336.1L1538.5,334.1L1538.5,332.1L1538.5,330.1L1538.5,328.1L1538.5,326.1L1538.5,324.1L1538.5,322.1L1538.5,320.1L1538.5,318.1L1538.5,316.1L1538.5,314.1L1538.5,312.1L1538.5,310.1L1538.5,308.1L1538.5,306.1L1538.5,304.1L1538.5,302.1L1538.5,300.1L1538.5,298.1L1538.5,296.1L1538.5,294.1L1538.5,292.1L1538.5,290.1L1538.5,288.1L1538.5,286.1L1538.5,284.1L1538.5,282.1L1538.5,280.1L1538.5,278.1L1538.5,276.1L1538.5,274.1L1538.5,272.1L1538.5,270.1L1538.5,268.1Z"/>
<circle class="m" cx="1538.3" cy="776.5" r="6.3"/>
<path class="v" fill="#fd8d3c" d="M1615.9,450.6L1615.9,452.6L1615.9,454.6L1615.9,456.6L1615.9,458.6L1615.9,460.6L1615.9,462.6L1615.9,464.6L1615.9,466.6L1615.9,468.6L1615.9,470.6L1615.9,472.6L1615.9,474.6L1615.9,476.6L1615.9,478.6L1615.9,480.6L1615.9,482.6L1615.9,484.6L1615.9,486.6L1615.9,488.6L1615.9,490.6L1615.9,492.6L1615.9,494.6L1615.9,496.6L1615.9,498.6L1615.9,500.6L1615.9,502.6L1615.9,504.6L1615.9,506.6L1615.9,508.6L1615.9,510.6L1615.8,512.6L1615.8,514.6L1615.8,516.6L1615.8,518.6L1615.8,520.6L1615.8,522.6L1615.8,524.6L1615.8,526.6L1615.8,528.6L1615.8,530.6L1615.8,532.6L1615.8,534.6L1615.8,536.6L1615.8,538.6L1615.8,540.6L1615.8,542.6L1615.8,544.6L1615.8,546.6L1615.8,548.6L1615.8,550.6L1615.8,552.6L1615.8,554.6L1615.8,556.6L1615.8,558.6L1615.8,560.6L1615.8,562.6L1615.8,564.6L1615.8,566.6L1615.8,568.6L1615.8,570.6L1615.8,572.6L1615.8,574.6L1615.8,576.6L1615.8,578.6L1615.8,580.6L1615.8,582.6L1615.8,584.6L1615.7,586.6L1615.7,588.6L1615.7,590.6L1615.7,592.6L1615.7,594.6L1615.7,596.6L1615.6,598.6L1615.6,600.6L1615.6,602.6L1615.6,604.6L1615.6,606.6L1615.5,608.6L1615.5,610.6L1615.5,612.6L1615.4,614.6L1615.4,616.6L1615.4,618.6L1615.3,620.6L1615.3,622.6L1615.3,624.6L1615.2,626.6L1615.2,628.6L1615.2,630.6L1615.1,632.6L1615.1,634.6L1615.0,636.6L1615.0,638.6L1614.9,640.6L1614.9,642.6L1614.8,644.6L1614.8,646.6L1614.7,648.6L1614.6,650.6L1614.6,652.6L1614.5,654.6L1614.4,656.6L1614.3,658.6L1614.2,660.6L1614.1,662.6L1614.0,664.6L1613.9,666.6L1613.8,668.6L1613.6,670.6L1613.4,672.6L1613.3,674.6L1613.1,676.6L1612.8,678.6L1612.6,680.6L1612.3,682.6L1612.0,684.6L1611.6,686.6L1611.2,688.6L1610.8,690.6L1610.3,692.6L1609.7,694.6L1609.1,696.6L1608.5,698.6L1607.8,700.6L1607.1,702.6L1606.4,704.6L1605.6,706.6L1604.8,708.6L1604.0,710.6L1603.2,712.6L1602.4,714.6L1601.5,716.6L1600.7,718.6L1599.8,720.6L1598.9,722.6L1598.0,724.6L1597.2,726.6L1596.3,728.6L1595.5,730.6L1594.6,732.6L1593.8,734.6L1592.9,736.6L1592.1,738.6L1591.3,740.6L1590.5,742.6L1589.8,744.6L1589.1,746.6L1588.4,748.6L1587.9,750.6L1587.3,752.6L1586.9,754.6L1586.5,756.6L1586.1,758.6L1585.9,760.6L1585.7,762.6L1585.6,764.6L1585.5,766.6L1585.5,768.6L1585.6,770.6L1585.7,772.6L1585.9,774.6L1586.2,776.6L1586.3,777.3L1645.9,777.3L1646.0,776.6L1646.2,774.6L1646.4,772.6L1646.5,770.6L1646.6,768.6L1646.6,766.6L1646.6,764.6L1646.5,762.6L1646.3,760.6L1646.0,758.6L1645.7,756.6L1645.3,754.6L1644.8,752.6L1644.3,750.6L1643.7,748.6L1643.0,746.6L1642.4,744.6L1641.6,742.6L1640.8,740.6L1640.0,738.6L1639.2,736.6L1638.4,734.6L1637.5,732.6L1636.7,730.6L1635.8,728.6L1635.0,726.6L1634.1,724.6L1633.2,722.6L1632.3,720.6L1631.5,718.6L1630.6,716.6L1629.7,714.6L1628.9,712.6L1628.1,710.6L1627.3,708.6L1626.5,706.6L1625.8,704.6L1625.0,702.6L1624.3,700.6L1623.6,698.6L1623.0,696.6L1622.4,694.6L1621.9,692.6L1621.4,690.6L1620.9,688.6L1620.5,686.6L1620.2,684.6L1619.9,682.6L1619.6,680.6L1619.3,678.6L1619.1,676.6L1618.9,674.6L1618.7,672.6L1618.5,670.6L1618.4,668.6L1618.3,666.6L1618.1,664.6L1618.0,662.6L1617.9,660.6L1617.8,658.6L1617.7,656.6L1617.7,654.6L1617.6,652.6L1617.5,650.6L1617.4,648.6L1617.4,646.6L1617.3,644.6L1617.2,642.6L1617.2,640.6L1617.1,638.6L1617.1,636.6L1617.0,634.6L1617.0,632.6L1617.0,630.6L1616.9,628.6L1616.9,626.6L1616.9,624.6L1616.8,622.6L1616.8,620.6L1616.8,618.6L1616.7,616.6L1616.7,614.6L1616.7,612.6L1616.6,610.6L1616.6,608.6L1616.6,606.6L1616.6,604.6L1616.5,602.6L1616.5,600.6L1616.5,598.6L1616.5,596.6L1616.5,594.6L1616.4,592.6L1616.4,590.6L1616.4,588.6L1616.4,586.6L1616.4,584.6L1616.4,582.6L1616.4,580.6L1616.4,578.6L1616.4,576.6L1616.4,574.6L1616.4,572.6L1616.4,570.6L1616.4,568.6L1616.3,566.6L1616.3,564.6L1616.3,562.6L1616.3,560.6L1616.3,558.6L1616.3,556.6L1616.3,554.6L1616.3,552.6L1616.3,550.6L1616.3,548.6L1616.3,546.6L1616.3,544.6L1616.3,542.6L1616.3,540.6L1616.3,538.6L1616.3,536.6L1616.3,534.6L1616.3,532.6L1616.3,530.6L1616.3,528.6L1616.3,526.6L1616.3,524.6L1616.3,522.6L1616.3,520.6L1616.3,518.6L1616.3,516.6L1616.3,514.6L1616.3,512.6L1616.3,510.6L1616.3,508.6L1616.3,506.6L1616.3,504.6L1616.3,502.6L1616.3,500.6L1616.3,498.6L1616.3,496.6L1616.3,494.6L1616.3,492.6L1616.3,490.6L1616.3,488.6L1616.3,486.6L1616.3,484.6L1616.3,482.6L1616.3,480.6L1616.3,478.6L1616.3,476.6L1616.3,474.6L1616.3,472.6L1616.3,470.6L1616.3,468.6L1616.3,466.6L1616.3,464.6L1616.3,462.6L1616.3,460.6L1616.3,458.6L1616.3,456.6L1616.3,454.6L1616.3,452.6L1616.3,450.6Z"/>
<path class="w" d="M1616.1,745.5V777.3"/>
<rect class="b" x="1612.4" y="763.4" width="7.4" height="13.9" rx="0.8"/>
<circle class="m" cx="1616.1" cy="776.5" r="6.3"/>
<path class="v" fill="#fd8d3c" d="M1692.7,32.6L1692.7,34.6L1692.7,36.6L1692.7,38.6L1692.7,40.6L1692.7,42.6L1692.7,44.6L1692.7,46.6L1692.7,48.6L1692.7,50.6L1692.7,52.6L1692.7,54.6L1692.7,56.6L1692.7,58.6L1692.7,60.6L1692.7,62.6L1692.7,64.6L1692.7,66.6L1692.7,68.6L1692.7,70.6L1692.7,72.6L1692.7,74.6L1692.7,76.6L1692.7,78.6L1692.7,80.6L1692.7,82.6L1692.7,84.6L1692.7,86.6L1692.7,88.6L1692.7,90.6L1692.7,92.6L1692.7,94.6L1692.7,96.6L1692.7,98.6L1692.7,100.6L1692.7,102.6L1692.7,104.6L1692.7,106.6L1692.7,108.6L1692.7,110.6L1692.7,112.6L1692.7,114.6L1692.7,116.6L1692.7,118.6L1692.7,120.6L1692.7,122.6L1692.7,124.6L1692.7,126.6L1692.7,128.6L1692.7,130.6L1692.7,132.6L1692.7,134.6L1692.7,136.6L1692.7,138.6L1692.7,140.6L1692.7,142.6L1692.7,144.6L1692.7,146.6L1692.7,148.6L1692.7,150.6L1692.7,152.6L1692.7,154.6L1692.7,156.6L1692.7,158.6L1692.7,160.6L1692.7,162.6L1692.7,164.6L1692.7,166.6L1692.7,168.6L1692.7,170.6L1692.7,172.6L1692.7,174.6L1692.7,176.6L1692.7,178.6L1692.7,180.6L1692.7,182.6L1692.7,184.6L1692.7,186.6L1692.7,188.6L1692.7,190.6L1692.7,192.6L1692.7,194.6L1692.7,196.6L1692.7,198.6L1692.7,200.6L1692.7,202.6L1692.7,204.6L1692.7,206.6L1692.7,208.6L1692.7,210.6L1692.7,212.6L1692.7,214.6L1692.7,216.6L1692.7,218.6L1692.7,220.6L1692.7,222.6L1692.7,224.6L1692.7,226.6L1692.7,228.6L1692.7,230.6L1692.7,232.6L1692.7,234.6L1692.7,236.6L1692.7,238.6L1692.7,240.6L1692.7,242.6L1692.7,244.6L1692.7,246.6L1692.7,248.6L1692.7,250.6L1692.7,252.6L1692.7,254.6L1692.7,256.6L1692.7,258.6L1692.7,260.6L1692.7,262.6L1692.7,264.6L1692.7,266.6L1692.7,268.6L1692.7,270.6L1692.7,272.6L1692.7,274.6L1692.7,276.6L1692.7,278.6L1692.7,280.6L1692.7,282.6L1692.7,284.6L1692.7,286.6L1692.7,288.6L1692.7,290.6L1692.7,292.6L1692.7,294.6L1692.7,296.6L1692.7,298.6L1692.7,300.6L1692.7,302.6L1692.7,304.6L1692.7,306.6L1692.7,308.6L1692.7,310.6L1692.7,312.6L1692.7,314.6L1692.7,316.6L1692.7,318.6L1692.7,320.6L1692.7,322.6L1692.7,324.6L1692.7,326.6L1692.7,328.6L1692.7,330.6L1692.7,332.6L1692.7,334.6L1692.7,336.6L1692.7,338.6L1692.7,340.6L1692.7,342.6L1692.7,344.6L1692.7,346.6L1692.7,348.6L1692.7,350.6L1692.7,352.6L1692.7,354.6L1692.7,356.6L1692.7,358.6L1692.7,360.6L1692.7,362.6L1692.7,364.6L1692.7,366.6L1692.7,368.6L1692.7,370.6L1692.7,372.6L1692.6,374.6L1692.6,376.6L1692.6,378.6L1692.6,380.6L1692.6,382.6L1692.6,384.6L1692.5,386.6L1692.5,388.6L1692.5,390.6L1692.4,392.6L1692.4,394.6L1692.4,396.6L1692.4,398.6L1692.3,400.6L1692.3,402.6L1692.3,404.6L1692.2,406.6L1692.2,408.6L1692.2,410.6L1692.2,412.6L1692.1,414.6L1692.1,416.6L1692.1,418.6L1692.0,420.6L1692.0,422.6L1692.0,424.6L1691.9,426.6L1691.9,428.6L1691.8,430.6L1691.8,432.6L1691.8,434.6L1691.7,436.6L1691.7,438.6L1691.6,440.6L1691.5,442.6L1691.5,444.6L1691.4,446.6L1691.4,448.6L1691.3,450.6L1691.2,452.6L1691.2,454.6L1691.1,456.6L1691.0,458.6L1690.9,460.6L1690.9,462.6L1690.8,464.6L1690.7,466.6L1690.7,468.6L1690.6,470.6L1690.5,472.6L1690.5,474.6L1690.4,476.6L1690.3,478.6L1690.3,480.6L1690.2,482.6L1690.1,484.6L1690.1,486.6L1690.0,488.6L1689.9,490.6L1689.9,492.6L1689.8,494.6L1689.7,496.6L1689.7,498.6L1689.6,500.6L1689.5,502.6L1689.4,504.6L1689.3,506.6L1689.1,508.6L1689.0,510.6L1688.9,512.6L1688.7,514.6L1688.6,516.6L1688.4,518.6L1688.3,520.6L1688.1,522.6L1688.0,524.6L1687.8,526.6L1687.7,528.6L1687.5,530.6L1687.4,532.6L1687.2,534.6L1687.0,536.6L1686.9,538.6L1686.7,540.6L1686.5,542.6L1686.4,544.6L1686.2,546.6L1686.0,548.6L1685.8,550.6L1685.7,552.6L1685.5,554.6L1685.3,556.6L1685.1,558.6L1684.9,560.6L1684.7,562.6L1684.4,564.6L1684.2,566.6L1684.0,568.6L1683.8,570.6L1683.5,572.6L1683.3,574.6L1683.0,576.6L1682.8,578.6L1682.5,580.6L1682.3,582.6L1682.0,584.6L1681.7,586.6L1681.5,588.6L1681.2,590.6L1680.9,592.6L1680.7,594.6L1680.4,596.6L1680.1,598.6L1679.8,600.6L1679.6,602.6L1679.3,604.6L1679.0,606.6L1678.7,608.6L1678.4,610.6L1678.1,612.6L1677.8,614.6L1677.5,616.6L1677.2,618.6L1676.9,620.6L1676.6,622.6L1676.3,624.6L1676.0,626.6L1675.7,628.6L1675.4,630.6L1675.1,632.6L1674.8,634.6L1674.5,636.6L1674.2,638.6L1673.9,640.6L1673.6,642.6L1673.3,644.6L1673.0,646.6L1672.7,648.6L1672.4,650.6L1672.1,652.6L1671.8,654.6L1671.5,656.6L1671.2,658.6L1670.9,660.6L1670.6,662.6L1670.3,664.6L1670.0,666.6L1669.7,668.6L1669.4,670.6L1669.1,672.6L1668.8,674.6L1668.5,676.6L1668.2,678.6L1667.9,680.6L1667.6,682.6L1667.3,684.6L1667.1,686.6L1666.8,688.6L1666.5,690.6L1666.2,692.6L1666.0,694.6L1665.7,696.6L1665.5,698.6L1665.3,700.6L1665.0,702.6L1664.8,704.6L1664.6,706.6L1664.5,708.6L1664.3,710.6L1664.2,712.6L1664.0,714.6L1663.9,716.6L1663.8,718.6L1663.7,720.6L1663.6,722.6L1663.5,724.6L1663.5,726.6L1663.4,728.6L1663.4,730.6L1663.4,732.6L1663.4,734.6L1663.4,736.6L1663.5,738.6L1663.5,740.6L1663.5,742.6L1663.6,744.6L1663.6,746.6L1663.7,748.6L1663.7,750.6L1663.8,752.6L1663.9,754.6L1663.9,756.6L1664.0,758.6L1664.1,760.6L1664.2,762.6L1664.3,764.6L1664.4,766.6L1664.6,768.6L1664.7,770.6L1664.8,772.6L1665.0,774.6L1665.1,776.6L1665.2,777.3L1722.8,777.3L1722.8,776.6L1723.0,774.6L1723.1,772.6L1723.2,770.6L1723.4,768.6L1723.5,766.6L1723.6,764.6L1723.7,762.6L1723.8,760.6L1723.9,758.6L1724.0,756.6L1724.1,754.6L1724.2,752.6L1724.2,750.6L1724.3,748.6L1724.3,746.6L1724.4,744.6L1724.4,742.6L1724.5,740.6L1724.5,738.6L1724.5,736.6L1724.5,734.6L1724.5,732.6L1724.5,730.6L1724.5,728.6L1724.5,726.6L1724.4,724.6L1724.3,722.6L1724.2,720.6L1724.1,718.6L1724.0,716.6L1723.9,714.6L1723.8,712.6L1723.6,710.6L1723.5,708.6L1723.3,706.6L1723.1,704.6L1722.9,702.6L1722.7,700.6L1722.5,698.6L1722.2,696.6L1722.0,694.6L1721.7,692.6L1721.4,690.6L1721.2,688.6L1720.9,686.6L1720.6,684.6L1720.3,682.6L1720.0,680.6L1719.7,678.6L1719.4,676.6L1719.1,674.6L1718.8,672.6L1718.5,670.6L1718.2,668.6L1717.9,666.6L1717.6,664.6L1717.3,662.6L1717.0,660.6L1716.7,658.6L1716.5,656.6L1716.2,654.6L1715.9,652.6L1715.5,650.6L1715.2,648.6L1714.9,646.6L1714.6,644.6L1714.3,642.6L1714.0,640.6L1713.7,638.6L1713.4,636.6L1713.1,634.6L1712.8,632.6L1712.5,630.6L1712.2,628.6L1711.9,626.6L1711.6,624.6L1711.3,622.6L1711.0,620.6L1710.7,618.6L1710.4,616.6L1710.1,614.6L1709.8,612.6L1709.5,610.6L1709.2,608.6L1709.0,606.6L1708.7,604.6L1708.4,602.6L1708.1,600.6L1707.8,598.6L1707.5,596.6L1707.3,594.6L1707.0,592.6L1706.7,590.6L1706.5,588.6L1706.2,586.6L1705.9,584.6L1705.7,582.6L1705.4,580.6L1705.1,578.6L1704.9,576.6L1704.6,574.6L1704.4,572.6L1704.2,570.6L1703.9,568.6L1703.7,566.6L1703.5,564.6L1703.3,562.6L1703.1,560.6L1702.9,558.6L1702.7,556.6L1702.5,554.6L1702.3,552.6L1702.1,550.6L1701.9,548.6L1701.7,546.6L1701.6,544.6L1701.4,542.6L1701.2,540.6L1701.1,538.6L1700.9,536.6L1700.7,534.6L1700.6,532.6L1700.4,530.6L1700.3,528.6L1700.1,526.6L1700.0,524.6L1699.8,522.6L1699.7,520.6L1699.5,518.6L1699.4,516.6L1699.2,514.6L1699.1,512.6L1698.9,510.6L1698.8,508.6L1698.7,506.6L1698.6,504.6L1698.5,502.6L1698.4,500.6L1698.3,498.6L1698.2,496.6L1698.1,494.6L1698.1,492.6L1698.0,490.6L1697.9,488.6L1697.9,486.6L1697.8,484.6L1697.7,482.6L1697.7,480.6L1697.6,478.6L1697.5,476.6L1697.5,474.6L1697.4,472.6L1697.3,470.6L1697.3,468.6L1697.2,466.6L1697.1,464.6L1697.1,462.6L1697.0,460.6L1696.9,458.6L1696.9,456.6L1696.8,454.6L1696.7,452.6L1696.6,450.6L1696.6,448.6L1696.5,446.6L1696.5,444.6L1696.4,442.6L1696.3,440.6L1696.3,438.6L1696.2,436.6L1696.2,434.6L1696.1,432.6L1696.1,430.6L1696.1,428.6L1696.0,426.6L1696.0,424.6L1695.9,422.6L1695.9,420.6L1695.9,418.6L1695.8,416.6L1695.8,414.6L1695.8,412.6L1695.8,410.6L1695.7,408.6L1695.7,406.6L1695.7,404.6L1695.6,402.6L1695.6,400.6L1695.6,398.6L1695.6,396.6L1695.5,394.6L1695.5,392.6L1695.5,390.6L1695.4,388.6L1695.4,386.6L1695.4,384.6L1695.4,382.6L1695.3,380.6L1695.3,378.6L1695.3,376.6L1695.3,374.6L1695.3,372.6L1695.3,370.6L1695.3,368.6L1695.3,366.6L1695.3,364.6L1695.3,362.6L1695.3,360.6L1695.3,358.6L1695.3,356.6L1695.3,354.6L1695.3,352.6L1695.3,350.6L1695.3,348.6L1695.3,346.6L1695.3,344.6L1695.3,342.6L1695.3,340.6L1695.3,338.6L1695.3,336.6L1695.3,334.6L1695.3,332.6L1695.3,330.6L1695.3,328.6L1695.3,326.6L1695.3,324.6L1695.3,322.6L1695.3,320.6L1695.3,318.6L1695.3,316.6L1695.3,314.6L1695.3,312.6L1695.3,310.6L1695.3,308.6L1695.3,306.6L1695.3,304.6L1695.3,302.6L1695.3,300.6L1695.3,298.6L1695.3,296.6L1695.3,294.6L1695.3,292.6L1695.3,290.6L1695.3,288.6L1695.3,286.6L1695.3,284.6L1695.3,282.6L1695.3,280.6L1695.3,278.6L1695.3,276.6L1695.3,274.6L1695.3,272.6L1695.3,270.6L1695.3,268.6L1695.3,266.6L1695.3,264.6L1695.3,262.6L1695.3,260.6L1695.3,258.6L1695.3,256.6L1695.3,254.6L1695.3,252.6L1695.3,250.6L1695.3,248.6L1695.3,246.6L1695.3,244.6L1695.3,242.6L1695.3,240.6L1695.3,238.6L1695.3,236.6L1695.3,234.6L1695.3,232.6L1695.3,230.6L1695.3,228.6L1695.3,226.6L1695.3,224.6L1695.3,222.6L1695.3,220.6L1695.3,218.6L1695.3,216.6L1695.3,214.6L1695.3,212.6L1695.3,210.6L1695.3,208.6L1695.3,206.6L1695.3,204.6L1695.3,202.6L1695.3,200.6L1695.3,198.6L1695.3,196.6L1695.3,194.6L1695.3,192.6L1695.3,190.6L1695.3,188.6L1695.3,186.6L1695.3,184.6L1695.3,182.6L1695.3,180.6L1695.3,178.6L1695.3,176.6L1695.3,174.6L1695.3,172.6L1695.3,170.6L1695.3,168.6L1695.3,166.6L1695.3,164.6L1695.3,162.6L1695.3,160.6L1695.3,158.6L1695.3,156.6L1695.3,154.6L1695.3,152.6L1695.3,150.6L1695.3,148.6L1695.3,146.6L1695.3,144.6L1695.3,142.6L1695.3,140.6L1695.3,138.6L1695.3,136.6L1695.3,134.6L1695.3,132.6L1695.3,130.6L1695.3,128.6L1695.3,126.6L1695.3,124.6L1695.3,122.6L1695.3,120.6L1695.3,118.6L1695.3,116.6L1695.3,114.6L1695.3,112.6L1695.3,110.6L1695.3,108.6L1695.3,106.6L1695.3,104.6L1695.3,102.6L1695.3,100.6L1695.3,98.6L1695.3,96.6L1695.3,94.6L1695.3,92.6L1695.3,90.6L1695.3,88.6L1695.3,86.6L1695.3,84.6L1695.3,82.6L1695.3,80.6L1695.3,78.6L1695.3,76.6L1695.3,74.6L1695.3,72.6L1695.3,70.6L1695.3,68.6L1695.3,66.6L1695.3,64.6L1695.3,62.6L1695.3,60.6L1695.3,58.6L1695.3,56.6L1695.3,54.6L1695.3,52.6L1695.3,50.6L1695.3,48.6L1695.3,46.6L1695.3,44.6L1695.3,42.6L1695.3,40.6L1695.3,38.6L1695.3,36.6L1695.3,34.6L1695.3,32.6Z"/>
<path class="w" d="M1694.0,630.1V777.3"/>
<rect class="b" x="1690.3" y="708.2" width="7.4" height="55.2" rx="0.8"/>
<circle class="m" cx="1694.0" cy="746.8" r="6.3"/>
</g>
<g>
<path class="g" d="M1782.3,777.3H2122.0"/>
<path class="g" d="M1782.3,591.0H2122.0"/>
<path class="g" d="M1782.3,404.6H2122.0"/>
<path class="g" d="M1782.3,218.3H2122.0"/>
<path class="g" d="M1782.3,32.0H2122.0"/>
<path class="f" d="M2119.2,2.3H1784.2V806.8H2119.2"/>
<path d="M2119.15,0V808.6" stroke="#6c6c6c" stroke-width="1.7" fill="none"/>
<text class="t" transform="translate(1952.3,73.3) scale(0.989,1)" x="0" y="0">Pollution</text>
<path class="k" d="M1874.5,806.8V825.8"/>
<text class="xl" transform="translate(1886.5,846.8) rotate(-90)" x="0" y="0">amph</text>
<path class="k" d="M1952.3,806.8V825.8"/>
<text class="xl" transform="translate(1964.3,846.8) rotate(-90)" x="0" y="0">mammal</text>
<path class="k" d="M2030.2,806.8V825.8"/>
<text class="xl" transform="translate(2042.2,846.8) rotate(-90)" x="0" y="0">bird</text>
<path class="v" fill="#6baed6" d="M1874.3,185.6L1874.3,187.6L1874.3,189.6L1874.3,191.6L1874.3,193.6L1874.3,195.6L1874.3,197.6L1874.3,199.6L1874.3,201.6L1874.3,203.6L1874.3,205.6L1874.3,207.6L1874.3,209.6L1874.3,211.6L1874.3,213.6L1874.3,215.6L1874.3,217.6L1874.3,219.6L1874.3,221.6L1874.2,223.6L1874.2,225.6L1874.2,227.6L1874.2,229.6L1874.2,231.6L1874.2,233.6L1874.2,235.6L1874.2,237.6L1874.2,239.6L1874.2,241.6L1874.2,243.6L1874.2,245.6L1874.2,247.6L1874.2,249.6L1874.1,251.6L1874.1,253.6L1874.1,255.6L1874.1,257.6L1874.1,259.6L1874.1,261.6L1874.1,263.6L1874.1,265.6L1874.1,267.6L1874.1,269.6L1874.1,271.6L1874.0,273.6L1874.0,275.6L1874.0,277.6L1874.0,279.6L1874.0,281.6L1874.0,283.6L1874.0,285.6L1874.0,287.6L1874.0,289.6L1873.9,291.6L1873.9,293.6L1873.9,295.6L1873.9,297.6L1873.9,299.6L1873.9,301.6L1873.9,303.6L1873.8,305.6L1873.8,307.6L1873.8,309.6L1873.8,311.6L1873.8,313.6L1873.7,315.6L1873.7,317.6L1873.7,319.6L1873.6,321.6L1873.6,323.6L1873.6,325.6L1873.5,327.6L1873.5,329.6L1873.5,331.6L1873.5,333.6L1873.4,335.6L1873.4,337.6L1873.4,339.6L1873.3,341.6L1873.3,343.6L1873.3,345.6L1873.3,347.6L1873.2,349.6L1873.2,351.6L1873.2,353.6L1873.2,355.6L1873.2,357.6L1873.1,359.6L1873.1,361.6L1873.1,363.6L1873.1,365.6L1873.1,367.6L1873.1,369.6L1873.1,371.6L1873.1,373.6L1873.0,375.6L1873.0,377.6L1873.0,379.6L1873.0,381.6L1873.0,383.6L1873.0,385.6L1873.0,387.6L1873.0,389.6L1872.9,391.6L1872.9,393.6L1872.9,395.6L1872.9,397.6L1872.9,399.6L1872.9,401.6L1872.9,403.6L1872.9,405.6L1872.9,407.6L1872.9,409.6L1872.8,411.6L1872.8,413.6L1872.8,415.6L1872.8,417.6L1872.8,419.6L1872.8,421.6L1872.8,423.6L1872.8,425.6L1872.8,427.6L1872.7,429.6L1872.7,431.6L1872.7,433.6L1872.7,435.6L1872.7,437.6L1872.7,439.6L1872.7,441.6L1872.7,443.6L1872.7,445.6L1872.7,447.6L1872.6,449.6L1872.6,451.6L1872.6,453.6L1872.6,455.6L1872.6,457.6L1872.6,459.6L1872.6,461.6L1872.6,463.6L1872.6,465.6L1872.6,467.6L1872.5,469.6L1872.5,471.6L1872.5,473.6L1872.5,475.6L1872.5,477.6L1872.5,479.6L1872.5,481.6L1872.5,483.6L1872.5,485.6L1872.5,487.6L1872.5,489.6L1872.5,491.6L1872.4,493.6L1872.4,495.6L1872.4,497.6L1872.4,499.6L1872.4,501.6L1872.4,503.6L1872.4,505.6L1872.4,507.6L1872.4,509.6L1872.4,511.6L1872.4,513.6L1872.4,515.6L1872.3,517.6L1872.3,519.6L1872.3,521.6L1872.3,523.6L1872.3,525.6L1872.2,527.6L1872.2,529.6L1872.1,531.6L1872.1,533.6L1872.1,535.6L1872.0,537.6L1871.9,539.6L1871.9,541.6L1871.8,543.6L1871.8,545.6L1871.7,547.6L1871.6,549.6L1871.6,551.6L1871.5,553.6L1871.4,555.6L1871.4,557.6L1871.3,559.6L1871.2,561.6L1871.1,563.6L1871.0,565.6L1870.9,567.6L1870.8,569.6L1870.7,571.6L1870.6,573.6L1870.5,575.6L1870.4,577.6L1870.3,579.6L1870.1,581.6L1870.0,583.6L1869.9,585.6L1869.7,587.6L1869.5,589.6L1869.4,591.6L1869.2,593.6L1869.0,595.6L1868.8,597.6L1868.6,599.6L1868.4,601.6L1868.2,603.6L1867.9,605.6L1867.7,607.6L1867.5,609.6L1867.3,611.6L1867.0,613.6L1866.8,615.6L1866.6,617.6L1866.3,619.6L1866.1,621.6L1865.8,623.6L1865.5,625.6L1865.3,627.6L1865.0,629.6L1864.7,631.6L1864.4,633.6L1864.1,635.6L1863.7,637.6L1863.4,639.6L1863.0,641.6L1862.7,643.6L1862.3,645.6L1861.9,647.6L1861.6,649.6L1861.2,651.6L1860.8,653.6L1860.4,655.6L1860.1,657.6L1859.7,659.6L1859.3,661.6L1858.9,663.6L1858.5,665.6L1858.1,667.6L1857.7,669.6L1857.3,671.6L1856.8,673.6L1856.4,675.6L1855.9,677.6L1855.5,679.6L1855.0,681.6L1854.5,683.6L1854.1,685.6L1853.6,687.6L1853.1,689.6L1852.6,691.6L1852.1,693.6L1851.6,695.6L1851.1,697.6L1850.6,699.6L1850.1,701.6L1849.6,703.6L1849.2,705.6L1848.7,707.6L1848.3,709.6L1848.0,711.6L1847.6,713.6L1847.3,715.6L1846.9,717.6L1846.6,719.6L1846.4,721.6L1846.1,723.6L1845.8,725.6L1845.6,727.6L1845.4,729.6L1845.2,731.6L1845.0,733.6L1844.8,735.6L1844.6,737.6L1844.5,739.6L1844.3,741.6L1844.2,743.6L1844.1,745.6L1844.0,747.6L1843.9,749.6L1843.9,751.6L1843.8,753.6L1843.8,755.6L1843.8,757.6L1843.8,759.6L1843.8,761.6L1843.8,763.6L1843.9,765.6L1843.9,767.6L1844.0,769.6L1844.1,771.6L1844.2,773.6L1844.3,775.6L1844.4,777.3L1904.6,777.3L1904.7,775.6L1904.8,773.6L1904.9,771.6L1905.0,769.6L1905.1,767.6L1905.1,765.6L1905.2,763.6L1905.2,761.6L1905.2,759.6L1905.2,757.6L1905.2,755.6L1905.2,753.6L1905.1,751.6L1905.1,749.6L1905.0,747.6L1904.9,745.6L1904.8,743.6L1904.7,741.6L1904.5,739.6L1904.4,737.6L1904.2,735.6L1904.0,733.6L1903.8,731.6L1903.6,729.6L1903.4,727.6L1903.2,725.6L1902.9,723.6L1902.6,721.6L1902.4,719.6L1902.1,717.6L1901.7,715.6L1901.4,713.6L1901.0,711.6L1900.7,709.6L1900.3,707.6L1899.8,705.6L1899.4,703.6L1898.9,701.6L1898.4,699.6L1897.9,697.6L1897.4,695.6L1896.9,693.6L1896.4,691.6L1895.9,689.6L1895.4,687.6L1894.9,685.6L1894.5,683.6L1894.0,681.6L1893.5,679.6L1893.1,677.6L1892.6,675.6L1892.2,673.6L1891.7,671.6L1891.3,669.6L1890.9,667.6L1890.5,665.6L1890.1,663.6L1889.7,661.6L1889.3,659.6L1888.9,657.6L1888.6,655.6L1888.2,653.6L1887.8,651.6L1887.4,649.6L1887.1,647.6L1886.7,645.6L1886.3,643.6L1886.0,641.6L1885.6,639.6L1885.3,637.6L1884.9,635.6L1884.6,633.6L1884.3,631.6L1884.0,629.6L1883.7,627.6L1883.5,625.6L1883.2,623.6L1882.9,621.6L1882.7,619.6L1882.4,617.6L1882.2,615.6L1882.0,613.6L1881.7,611.6L1881.5,609.6L1881.3,607.6L1881.1,605.6L1880.8,603.6L1880.6,601.6L1880.4,599.6L1880.2,597.6L1880.0,595.6L1879.8,593.6L1879.6,591.6L1879.5,589.6L1879.3,587.6L1879.1,585.6L1879.0,583.6L1878.9,581.6L1878.7,579.6L1878.6,577.6L1878.5,575.6L1878.4,573.6L1878.3,571.6L1878.2,569.6L1878.1,567.6L1878.0,565.6L1877.9,563.6L1877.8,561.6L1877.7,559.6L1877.6,557.6L1877.6,555.6L1877.5,553.6L1877.4,551.6L1877.4,549.6L1877.3,547.6L1877.2,545.6L1877.2,543.6L1877.1,541.6L1877.1,539.6L1877.0,537.6L1876.9,535.6L1876.9,533.6L1876.9,531.6L1876.8,529.6L1876.8,527.6L1876.7,525.6L1876.7,523.6L1876.7,521.6L1876.7,519.6L1876.7,517.6L1876.6,515.6L1876.6,513.6L1876.6,511.6L1876.6,509.6L1876.6,507.6L1876.6,505.6L1876.6,503.6L1876.6,501.6L1876.6,499.6L1876.6,497.6L1876.6,495.6L1876.6,493.6L1876.5,491.6L1876.5,489.6L1876.5,487.6L1876.5,485.6L1876.5,483.6L1876.5,481.6L1876.5,479.6L1876.5,477.6L1876.5,475.6L1876.5,473.6L1876.5,471.6L1876.5,469.6L1876.4,467.6L1876.4,465.6L1876.4,463.6L1876.4,461.6L1876.4,459.6L1876.4,457.6L1876.4,455.6L1876.4,453.6L1876.4,451.6L1876.4,449.6L1876.3,447.6L1876.3,445.6L1876.3,443.6L1876.3,441.6L1876.3,439.6L1876.3,437.6L1876.3,435.6L1876.3,433.6L1876.3,431.6L1876.3,429.6L1876.2,427.6L1876.2,425.6L1876.2,423.6L1876.2,421.6L1876.2,419.6L1876.2,417.6L1876.2,415.6L1876.2,413.6L1876.2,411.6L1876.1,409.6L1876.1,407.6L1876.1,405.6L1876.1,403.6L1876.1,401.6L1876.1,399.6L1876.1,397.6L1876.1,395.6L1876.1,393.6L1876.1,391.6L1876.0,389.6L1876.0,387.6L1876.0,385.6L1876.0,383.6L1876.0,381.6L1876.0,379.6L1876.0,377.6L1876.0,375.6L1875.9,373.6L1875.9,371.6L1875.9,369.6L1875.9,367.6L1875.9,365.6L1875.9,363.6L1875.9,361.6L1875.9,359.6L1875.8,357.6L1875.8,355.6L1875.8,353.6L1875.8,351.6L1875.8,349.6L1875.7,347.6L1875.7,345.6L1875.7,343.6L1875.7,341.6L1875.6,339.6L1875.6,337.6L1875.6,335.6L1875.5,333.6L1875.5,331.6L1875.5,329.6L1875.5,327.6L1875.4,325.6L1875.4,323.6L1875.4,321.6L1875.3,319.6L1875.3,317.6L1875.3,315.6L1875.2,313.6L1875.2,311.6L1875.2,309.6L1875.2,307.6L1875.2,305.6L1875.1,303.6L1875.1,301.6L1875.1,299.6L1875.1,297.6L1875.1,295.6L1875.1,293.6L1875.1,291.6L1875.0,289.6L1875.0,287.6L1875.0,285.6L1875.0,283.6L1875.0,281.6L1875.0,279.6L1875.0,277.6L1875.0,275.6L1875.0,273.6L1874.9,271.6L1874.9,269.6L1874.9,267.6L1874.9,265.6L1874.9,263.6L1874.9,261.6L1874.9,259.6L1874.9,257.6L1874.9,255.6L1874.9,253.6L1874.9,251.6L1874.8,249.6L1874.8,247.6L1874.8,245.6L1874.8,243.6L1874.8,241.6L1874.8,239.6L1874.8,237.6L1874.8,235.6L1874.8,233.6L1874.8,231.6L1874.8,229.6L1874.8,227.6L1874.8,225.6L1874.8,223.6L1874.7,221.6L1874.7,219.6L1874.7,217.6L1874.7,215.6L1874.7,213.6L1874.7,211.6L1874.7,209.6L1874.7,207.6L1874.7,205.6L1874.7,203.6L1874.7,201.6L1874.7,199.6L1874.7,197.6L1874.7,195.6L1874.7,193.6L1874.7,191.6L1874.7,189.6L1874.7,187.6L1874.7,185.6Z"/>
<path class="w" d="M1874.5,673.9V777.3"/>
<rect class="b" x="1870.8" y="734.3" width="7.4" height="43.0" rx="0.8"/>
<circle class="m" cx="1874.5" cy="776.5" r="6.3"/>
<path class="v" fill="#6baed6" d="M1952.1,634.6L1952.1,636.6L1952.1,638.6L1952.1,640.6L1952.1,642.6L1952.1,644.6L1952.1,646.6L1952.1,648.6L1952.0,650.6L1952.0,652.6L1952.0,654.6L1952.0,656.6L1952.0,658.6L1952.0,660.6L1952.0,662.6L1951.9,664.6L1951.9,666.6L1951.9,668.6L1951.9,670.6L1951.9,672.6L1951.8,674.6L1951.8,676.6L1951.8,678.6L1951.8,680.6L1951.7,682.6L1951.7,684.6L1951.6,686.6L1951.6,688.6L1951.5,690.6L1951.5,692.6L1951.4,694.6L1951.3,696.6L1951.2,698.6L1951.1,700.6L1951.0,702.6L1950.9,704.6L1950.7,706.6L1950.6,708.6L1950.3,710.6L1950.0,712.6L1949.7,714.6L1949.2,716.6L1948.7,718.6L1948.2,720.6L1947.6,722.6L1946.9,724.6L1946.1,726.6L1945.3,728.6L1944.4,730.6L1943.4,732.6L1942.3,734.6L1941.1,736.6L1939.9,738.6L1938.6,740.6L1937.3,742.6L1935.9,744.6L1934.5,746.6L1933.0,748.6L1931.6,750.6L1930.2,752.6L1928.8,754.6L1927.5,756.6L1926.2,758.6L1924.9,760.6L1923.9,762.6L1923.0,764.6L1922.2,766.6L1921.7,768.6L1921.4,770.6L1921.4,772.6L1921.7,774.6L1922.7,776.6L1923.2,777.3L1981.4,777.3L1981.9,776.6L1982.9,774.6L1983.2,772.6L1983.2,770.6L1982.9,768.6L1982.4,766.6L1981.6,764.6L1980.7,762.6L1979.7,760.6L1978.4,758.6L1977.1,756.6L1975.8,754.6L1974.4,752.6L1973.0,750.6L1971.6,748.6L1970.1,746.6L1968.7,744.6L1967.3,742.6L1966.0,740.6L1964.7,738.6L1963.5,736.6L1962.3,734.6L1961.2,732.6L1960.2,730.6L1959.3,728.6L1958.5,726.6L1957.7,724.6L1957.0,722.6L1956.4,720.6L1955.9,718.6L1955.4,716.6L1954.9,714.6L1954.6,712.6L1954.3,710.6L1954.0,708.6L1953.9,706.6L1953.7,704.6L1953.6,702.6L1953.5,700.6L1953.4,698.6L1953.3,696.6L1953.2,694.6L1953.1,692.6L1953.1,690.6L1953.0,688.6L1953.0,686.6L1952.9,684.6L1952.9,682.6L1952.8,680.6L1952.8,678.6L1952.8,676.6L1952.8,674.6L1952.7,672.6L1952.7,670.6L1952.7,668.6L1952.7,666.6L1952.7,664.6L1952.6,662.6L1952.6,660.6L1952.6,658.6L1952.6,656.6L1952.6,654.6L1952.6,652.6L1952.6,650.6L1952.5,648.6L1952.5,646.6L1952.5,644.6L1952.5,642.6L1952.5,640.6L1952.5,638.6L1952.5,636.6L1952.5,634.6Z"/>
<path class="w" d="M1952.3,749.4V777.3"/>
<rect class="b" x="1948.6" y="764.5" width="7.4" height="12.8" rx="0.8"/>
<circle class="m" cx="1952.3" cy="776.5" r="6.3"/>
<path class="v" fill="#6baed6" d="M2030.0,687.9L2030.0,689.9L2030.0,691.9L2030.0,693.9L2030.0,695.9L2030.0,697.9L2030.0,699.9L2029.9,701.9L2029.9,703.9L2029.9,705.9L2029.9,707.9L2029.9,709.9L2029.8,711.9L2029.8,713.9L2029.8,715.9L2029.8,717.9L2029.7,719.9L2029.7,721.9L2029.6,723.9L2029.6,725.9L2029.5,727.9L2029.4,729.9L2029.3,731.9L2029.2,733.9L2029.0,735.9L2028.7,737.9L2028.3,739.9L2027.8,741.9L2027.0,743.9L2025.8,745.9L2024.4,747.9L2022.6,749.9L2020.6,751.9L2018.2,753.9L2015.7,755.9L2013.0,757.9L2010.3,759.9L2007.4,761.9L2004.7,763.9L2002.6,765.9L2000.8,767.9L1999.5,769.9L1999.2,771.9L1999.3,773.9L2000.3,775.9L2001.6,777.3L2058.8,777.3L2060.1,775.9L2061.1,773.9L2061.2,771.9L2060.9,769.9L2059.6,767.9L2057.8,765.9L2055.7,763.9L2053.0,761.9L2050.1,759.9L2047.4,757.9L2044.7,755.9L2042.2,753.9L2039.8,751.9L2037.8,749.9L2036.0,747.9L2034.6,745.9L2033.4,743.9L2032.6,741.9L2032.1,739.9L2031.7,737.9L2031.4,735.9L2031.2,733.9L2031.1,731.9L2031.0,729.9L2030.9,727.9L2030.8,725.9L2030.8,723.9L2030.7,721.9L2030.7,719.9L2030.6,717.9L2030.6,715.9L2030.6,713.9L2030.6,711.9L2030.5,709.9L2030.5,707.9L2030.5,705.9L2030.5,703.9L2030.5,701.9L2030.4,699.9L2030.4,697.9L2030.4,695.9L2030.4,693.9L2030.4,691.9L2030.4,689.9L2030.4,687.9Z"/>
<path class="w" d="M2030.2,757.4V777.3"/>
<rect class="b" x="2026.5" y="766.0" width="7.4" height="11.3" rx="0.8"/>
<circle class="m" cx="2030.2" cy="772.3" r="6.3"/>
</g>
</svg>
</body>
</html>
